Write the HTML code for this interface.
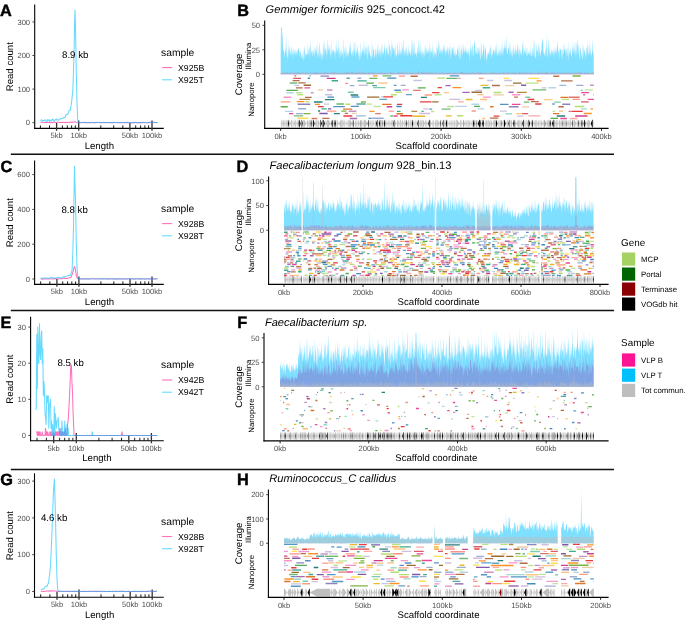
<!DOCTYPE html>
<html><head><meta charset="utf-8"><style>
html,body{margin:0;padding:0;background:#fff;}
svg{display:block;will-change:transform;text-rendering:geometricPrecision;font-family:"Liberation Sans", sans-serif;}
</style></head><body>
<svg width="685" height="625" viewBox="0 0 685 625">
<rect width="685" height="625" fill="#fff"/>
<line x1="10.8" y1="154.2" x2="614" y2="154.2" stroke="#111" stroke-width="1.4"/>
<line x1="10.8" y1="310.5" x2="614" y2="310.5" stroke="#111" stroke-width="1.4"/>
<line x1="10.8" y1="469.5" x2="614" y2="469.5" stroke="#111" stroke-width="1.4"/>
<text x="0" y="15.7" font-size="16.3" font-weight="bold" stroke="#000" stroke-width="0.45">A</text>
<text x="0.4" y="172" font-size="16.3" font-weight="bold" stroke="#000" stroke-width="0.45">C</text>
<text x="0.6" y="328.3" font-size="16.3" font-weight="bold" stroke="#000" stroke-width="0.45">E</text>
<text x="0.2" y="484.6" font-size="16.3" font-weight="bold" stroke="#000" stroke-width="0.45">G</text>
<text x="237.3" y="15.7" font-size="16.3" font-weight="bold" stroke="#000" stroke-width="0.45">B</text>
<text x="236.6" y="172" font-size="16.3" font-weight="bold" stroke="#000" stroke-width="0.45">D</text>
<text x="237.3" y="328.3" font-size="16.3" font-weight="bold" stroke="#000" stroke-width="0.45">F</text>
<text x="236.9" y="484.6" font-size="16.3" font-weight="bold" stroke="#000" stroke-width="0.45">H</text>
<line x1="34.7" y1="4.4" x2="34.7" y2="128.9" stroke="#000" stroke-width="1.1"/>
<line x1="34.2" y1="128.4" x2="163.8" y2="128.4" stroke="#000" stroke-width="1.1"/>
<line x1="32.4" y1="122.7" x2="34.7" y2="122.7" stroke="#333" stroke-width="0.9"/>
<text x="30.1" y="125.4" font-size="7.6" text-anchor="end" fill="#4d4d4d">0</text>
<line x1="32.4" y1="89.1" x2="34.7" y2="89.1" stroke="#333" stroke-width="0.9"/>
<text x="30.1" y="91.8" font-size="7.6" text-anchor="end" fill="#4d4d4d">100</text>
<line x1="32.4" y1="55.5" x2="34.7" y2="55.5" stroke="#333" stroke-width="0.9"/>
<text x="30.1" y="58.2" font-size="7.6" text-anchor="end" fill="#4d4d4d">200</text>
<line x1="32.4" y1="21.9" x2="34.7" y2="21.9" stroke="#333" stroke-width="0.9"/>
<text x="30.1" y="24.6" font-size="7.6" text-anchor="end" fill="#4d4d4d">300</text>
<line x1="40.4" y1="125.4" x2="40.4" y2="128.4" stroke="#000" stroke-width="0.9"/>
<line x1="49.5" y1="125.4" x2="49.5" y2="128.4" stroke="#000" stroke-width="0.9"/>
<line x1="56.6" y1="122.9" x2="56.6" y2="130.8" stroke="#333" stroke-width="1.3"/>
<line x1="62.4" y1="125.4" x2="62.4" y2="128.4" stroke="#000" stroke-width="0.9"/>
<line x1="67.3" y1="125.4" x2="67.3" y2="128.4" stroke="#000" stroke-width="0.9"/>
<line x1="71.6" y1="125.4" x2="71.6" y2="128.4" stroke="#000" stroke-width="0.9"/>
<line x1="75.3" y1="125.4" x2="75.3" y2="128.4" stroke="#000" stroke-width="0.9"/>
<line x1="100.8" y1="125.4" x2="100.8" y2="128.4" stroke="#000" stroke-width="0.9"/>
<line x1="113.7" y1="125.4" x2="113.7" y2="128.4" stroke="#000" stroke-width="0.9"/>
<line x1="122.8" y1="125.4" x2="122.8" y2="128.4" stroke="#000" stroke-width="0.9"/>
<line x1="129.9" y1="122.9" x2="129.9" y2="130.8" stroke="#333" stroke-width="1.3"/>
<line x1="135.7" y1="125.4" x2="135.7" y2="128.4" stroke="#000" stroke-width="0.9"/>
<line x1="140.6" y1="125.4" x2="140.6" y2="128.4" stroke="#000" stroke-width="0.9"/>
<line x1="144.9" y1="125.4" x2="144.9" y2="128.4" stroke="#000" stroke-width="0.9"/>
<line x1="148.6" y1="125.4" x2="148.6" y2="128.4" stroke="#000" stroke-width="0.9"/>
<line x1="78.7" y1="120.6" x2="78.7" y2="130.8" stroke="#333" stroke-width="1.3"/>
<line x1="152" y1="120.6" x2="152" y2="130.8" stroke="#333" stroke-width="1.3"/>
<text x="56.6" y="138.2" font-size="7.6" text-anchor="middle" fill="#4d4d4d">5kb</text>
<text x="78.7" y="138.2" font-size="7.6" text-anchor="middle" fill="#4d4d4d">10kb</text>
<text x="129.9" y="138.2" font-size="7.6" text-anchor="middle" fill="#4d4d4d">50kb</text>
<text x="152" y="138.2" font-size="7.6" text-anchor="middle" fill="#4d4d4d">100kb</text>
<text x="99.3" y="148.7" font-size="9.6" text-anchor="middle">Length</text>
<text x="13.4" y="66.7" font-size="9.6" text-anchor="middle" transform="rotate(-90 13.4 66.7)">Read count</text>
<path d="M40.6 122.7 L41.5 122.6 L42.4 122.3 L43.3 122.3 L44.2 122.6 L45.1 122.3 L46 122.6 L46.9 122.3 L47.8 122.4 L48.7 122.5 L49.6 122.6 L50.5 122.7 L51.4 122.3 L52.3 122.7 L53.2 122.3 L54.1 122.2 L55 122.4 L55.9 122.6 L56.8 122.2 L57.7 122.2 L58.6 122.3 L59.5 122.4 L60.4 122.5 L61.3 122.5 L62.2 122.6 L63.1 122.3 L64 122.4 L64.9 122.6 L65.8 122.6 L66.7 122.3 L67.6 122.5 L68.5 122.4 L69.4 122.5 L70.3 122.1 L71.2 122 L72.1 122.4 L73 122.1 L73.9 122 L74.8 121.8 L75.7 122.1 L76.6 122.5 L77.5 122.7 L78.4 122.5 L79.3 122.4 L80.2 122.4 L81.1 122.7 L82 122.4 L82.9 122.5 L83.8 122.6 L84.7 122.3 L85.6 122.7 L86.5 122.5 L87.4 122.7 L88.3 122.7 L89.2 122.4 L90.1 122.7 L91 122.5 L91.9 122.5 L92.8 122.4 L93.7 122.7 L94.6 122.7 L95.5 122.7 L96.4 122.4 L97.3 122.5 L98.2 122.4 L99.1 122.4 L100 122.7 L100.9 122.6 L101.8 122.7 L102.7 122.7 L103.6 122.7 L104.5 122.4 L105.4 122.4 L106.3 122.4 L107.2 122.7 L108.1 122.5 L109 122.4 L109.9 122.7 L110.8 122.6 L111.7 122.7 L112.6 122.7 L113.5 122.7 L114.4 122.4 L115.3 122.6 L116.2 122.4 L117.1 122.6 L118 122.7 L118.9 122.4 L119.8 122.4 L120.7 122.7 L121.6 122.5 L122.5 122.7 L123.4 122.7 L124.3 122.4 L125.2 122.7 L126.1 122.7 L127 122.3 L127.9 122.6 L128.8 122.7 L129.7 122.7 L130.6 122.7 L131.5 122.5 L132.4 122.7 L133.3 122.4 L134.2 122.7 L135.1 122.3 L136 122.4 L136.9 122.7 L137.8 122.7 L138.7 122.6 L139.6 122.7 L140.5 122.5 L141.4 122.7 L142.3 122.7 L143.2 122.3 L144.1 122.7 L145 122.5 L145.9 122.6 L146.8 122.7 L147.7 122.7 L148.6 122.4 L149.5 122.3 L150.4 122.3 L151.3 122.7 L152.2 122.7 L153.1 122.5 L154 122.3 L154.9 122.6 L155.8 122.5 L156.7 122.5 L157.6 122.7" fill="none" stroke="#ff1493" stroke-opacity="0.6" stroke-width="1.05" stroke-linejoin="round"/>
<path d="M40.6 121.5 L41.3 119.8 L42 120 L42.7 121.1 L43.4 120.5 L44.1 120.5 L44.8 120 L45.5 119.7 L46.2 121.3 L46.9 121.5 L47.6 119.6 L48.3 120.5 L49 119.7 L49.7 121.5 L50.4 120.4 L51.1 119.8 L51.8 120.9 L52.5 119.1 L53.2 119.2 L53.9 121.2 L54.6 121.2 L55.3 119.8 L56 118.8 L56.7 119.9 L57.4 120.1 L58.1 119.5 L58.8 120.2 L59.5 119.5 L60.2 118.7 L60.9 118.4 L61.6 118.8 L62.3 118.5 L63 118.2 L63.7 117.3 L64.4 117.4 L65.1 117.7 L65.8 115 L66.5 115 L67.2 114.1 L67.9 114.4 L68.6 111.5 L69.3 110.5 L70 110.8 L70.7 107.3 L71.4 103.4 L72.1 97.4 L72.8 90.9 L73.5 70.9 L74.2 45.4 L74.6 21.9 L74.9 14.5 L75 10.1 L75.4 21.9 L75.6 34.6 L76.3 71.5 L77 102.3 L77.7 119.5 L78.4 122.4 L79.1 122.5 L79.8 122.7 L80.5 122.6 L81.2 122.4 L81.9 122.6 L82.6 122.7 L83.3 122.5 L84 122.5 L84.7 122.5 L85.4 122.6 L86.1 122.6 L86.8 122.5 L87.5 122.4 L88.2 122.5 L88.9 122.6 L89.6 122.5 L90.3 122.7 L91 122.7 L91.7 122.4 L92.4 122.3 L93.1 122.5 L93.8 122.6 L94.5 122.7 L95.2 122.5 L95.9 122.3 L96.6 122.4 L97.3 122.5 L98 122.4 L98.7 122.6 L99.4 122.5 L100.1 122.3 L100.8 122.5 L101.5 122.5 L102.2 122.6 L102.9 122.5 L103.6 122.3 L104.3 122.7 L105 122.4 L105.7 122.4 L106.4 122.4 L107.1 122.4 L107.8 122.4 L108.5 122.5 L109.2 122.5 L109.9 122.6 L110.6 122.7 L111.3 122.4 L112 122.5 L112.7 122.7 L113.4 122.5 L114.1 122.5 L114.8 122.6 L115.5 122.6 L116.2 122.5 L116.9 122.5 L117.6 122.5 L118.3 122.5 L119 122.7 L119.7 122.6 L120.4 122.7 L121.1 122.5 L121.8 122.4 L122.5 122.4 L123.2 122.4 L123.9 122.4 L124.6 122.6 L125.3 122.4 L126 122.5 L126.7 122.7 L127.4 122.7 L128.1 122.7 L128.8 122.4 L129.5 122.6 L130.2 122.7 L130.9 122.5 L131.6 122.6 L132.3 122.7 L133 122.7 L133.7 122.5 L134.4 122.7 L135.1 122.6 L135.8 122.4 L136.5 122.6 L137.2 122.6 L137.9 122.5 L138.6 122.7 L139.3 122.6 L140 122.6 L140.7 122.7 L141.4 122.7 L142.1 122.4 L142.8 122.5 L143.5 122.6 L144.2 122.5 L144.9 122.4 L145.6 122.7 L146.3 122.7 L147 122.7 L147.7 122.4 L148.4 122.7 L149.1 122.4 L149.8 122.5 L150.5 122.5 L151.2 122.6 L151.9 122.3 L152.6 122.4 L153.3 122.5 L154 122.6 L154.7 122.5 L155.4 122.6 L156.1 122.5 L156.8 122.6 L157.5 122.5" fill="none" stroke="#00bfff" stroke-opacity="0.6" stroke-width="1.05" stroke-linejoin="round"/>
<text x="161.1" y="55.8" font-size="10.3">sample</text>
<line x1="162" y1="67.6" x2="172.2" y2="67.6" stroke="#ff1493" stroke-width="1.1" stroke-opacity="0.6"/>
<text x="178" y="70.7" font-size="8.75">X925B</text>
<line x1="162" y1="79.8" x2="172.2" y2="79.8" stroke="#00bfff" stroke-width="1.1" stroke-opacity="0.6"/>
<text x="178" y="82.9" font-size="8.75">X925T</text>
<text x="75.2" y="58.4" font-size="9.7" text-anchor="middle">8.9 kb</text>
<line x1="34.6" y1="160.4" x2="34.6" y2="284.9" stroke="#000" stroke-width="1.1"/>
<line x1="34.1" y1="284.4" x2="163.8" y2="284.4" stroke="#000" stroke-width="1.1"/>
<line x1="32.3" y1="279" x2="34.6" y2="279" stroke="#333" stroke-width="0.9"/>
<text x="30" y="281.7" font-size="7.6" text-anchor="end" fill="#4d4d4d">0</text>
<line x1="32.3" y1="244.2" x2="34.6" y2="244.2" stroke="#333" stroke-width="0.9"/>
<text x="30" y="246.9" font-size="7.6" text-anchor="end" fill="#4d4d4d">200</text>
<line x1="32.3" y1="209.4" x2="34.6" y2="209.4" stroke="#333" stroke-width="0.9"/>
<text x="30" y="212.1" font-size="7.6" text-anchor="end" fill="#4d4d4d">400</text>
<line x1="32.3" y1="174.6" x2="34.6" y2="174.6" stroke="#333" stroke-width="0.9"/>
<text x="30" y="177.3" font-size="7.6" text-anchor="end" fill="#4d4d4d">600</text>
<line x1="40.7" y1="281.4" x2="40.7" y2="284.4" stroke="#000" stroke-width="0.9"/>
<line x1="49.8" y1="281.4" x2="49.8" y2="284.4" stroke="#000" stroke-width="0.9"/>
<line x1="56.9" y1="278.9" x2="56.9" y2="286.8" stroke="#333" stroke-width="1.3"/>
<line x1="62.7" y1="281.4" x2="62.7" y2="284.4" stroke="#000" stroke-width="0.9"/>
<line x1="67.6" y1="281.4" x2="67.6" y2="284.4" stroke="#000" stroke-width="0.9"/>
<line x1="71.8" y1="281.4" x2="71.8" y2="284.4" stroke="#000" stroke-width="0.9"/>
<line x1="75.6" y1="281.4" x2="75.6" y2="284.4" stroke="#000" stroke-width="0.9"/>
<line x1="100.9" y1="281.4" x2="100.9" y2="284.4" stroke="#000" stroke-width="0.9"/>
<line x1="113.8" y1="281.4" x2="113.8" y2="284.4" stroke="#000" stroke-width="0.9"/>
<line x1="122.9" y1="281.4" x2="122.9" y2="284.4" stroke="#000" stroke-width="0.9"/>
<line x1="130" y1="278.9" x2="130" y2="286.8" stroke="#333" stroke-width="1.3"/>
<line x1="135.8" y1="281.4" x2="135.8" y2="284.4" stroke="#000" stroke-width="0.9"/>
<line x1="140.7" y1="281.4" x2="140.7" y2="284.4" stroke="#000" stroke-width="0.9"/>
<line x1="144.9" y1="281.4" x2="144.9" y2="284.4" stroke="#000" stroke-width="0.9"/>
<line x1="148.7" y1="281.4" x2="148.7" y2="284.4" stroke="#000" stroke-width="0.9"/>
<line x1="78.9" y1="276.6" x2="78.9" y2="286.8" stroke="#333" stroke-width="1.3"/>
<line x1="152" y1="276.6" x2="152" y2="286.8" stroke="#333" stroke-width="1.3"/>
<text x="56.9" y="294.2" font-size="7.6" text-anchor="middle" fill="#4d4d4d">5kb</text>
<text x="78.9" y="294.2" font-size="7.6" text-anchor="middle" fill="#4d4d4d">10kb</text>
<text x="130" y="294.2" font-size="7.6" text-anchor="middle" fill="#4d4d4d">50kb</text>
<text x="152" y="294.2" font-size="7.6" text-anchor="middle" fill="#4d4d4d">100kb</text>
<text x="99.5" y="304.7" font-size="9.6" text-anchor="middle">Length</text>
<text x="13.4" y="222.7" font-size="9.6" text-anchor="middle" transform="rotate(-90 13.4 222.7)">Read count</text>
<path d="M40.6 278.9 L41.4 278.9 L42.2 279 L43 279 L43.8 278.9 L44.6 279 L45.4 278.8 L46.2 279 L47 279 L47.8 279 L48.6 279 L49.4 279 L50.2 278.8 L51 278.8 L51.8 278.9 L52.6 278.7 L53.4 278.9 L54.2 278.6 L55 278.6 L55.8 278.7 L56.6 278.8 L57.4 278.8 L58.2 278.7 L59 278.9 L59.8 278.8 L60.6 278.7 L61.4 278.8 L62.2 278.8 L63 278.4 L63.8 278.6 L64.6 278.5 L65.4 278.3 L66.2 278.4 L67 278.4 L67.8 278.1 L68.6 278.1 L69.4 278 L70.2 277.5 L71 277.4 L71.8 275.3 L72.6 273 L73.4 270.1 L74.2 266.6 L75 267.7 L75.8 272.2 L76.6 276.6 L77.4 278.4 L78.2 278.7 L79 278.9 L79.8 278.9 L80.6 278.9 L81.4 278.7 L82.2 278.9 L83 278.8 L83.8 278.9 L84.6 278.8 L85.4 278.9 L86.2 278.8 L87 278.8 L87.8 278.9 L88.6 278.9 L89.4 278.9 L90.2 278.9 L91 278.7 L91.8 278.8 L92.6 278.7 L93.4 278.8 L94.2 279 L95 278.8 L95.8 278.8 L96.6 278.8 L97.4 278.8 L98.2 278.9 L99 278.8 L99.8 278.8 L100.6 278.9 L101.4 278.8 L102.2 278.8 L103 278.7 L103.8 278.8 L104.6 278.7 L105.4 278.7 L106.2 278.9 L107 278.9 L107.8 278.8 L108.6 278.9 L109.4 278.9 L110.2 278.8 L111 278.7 L111.8 278.8 L112.6 278.8 L113.4 279 L114.2 278.9 L115 278.7 L115.8 278.9 L116.6 278.9 L117.4 279 L118.2 279 L119 278.7 L119.8 278.7 L120.6 278.8 L121.4 278.9 L122.2 278.9 L123 278.9 L123.8 278.8 L124.6 278.8 L125.4 278.9 L126.2 278.8 L127 279 L127.8 278.8 L128.6 278.7 L129.4 278.8 L130.2 279 L131 278.8 L131.8 278.8 L132.6 278.9 L133.4 278.7 L134.2 278.9 L135 278.8 L135.8 278.9 L136.6 278.7 L137.4 278.8 L138.2 278.8 L139 279 L139.8 278.9 L140.6 279 L141.4 278.8 L142.2 278.7 L143 278.9 L143.8 278.9 L144.6 278.9 L145.4 278.9 L146.2 278.8 L147 278.7 L147.8 278.8 L148.6 278.9 L149.4 278.7 L150.2 278.9 L151 278.8 L151.8 278.8 L152.6 278.8 L153.4 278.8 L154.2 278.9 L155 278.8 L155.8 278.9 L156.6 278.8 L157.4 278.7" fill="none" stroke="#ff1493" stroke-opacity="0.6" stroke-width="1.05" stroke-linejoin="round"/>
<path d="M40.6 277.9 L41.3 277.9 L42 278.9 L42.7 278.9 L43.4 277.9 L44.1 278 L44.8 278 L45.5 278.4 L46.2 278 L46.9 278 L47.6 278 L48.3 278.5 L49 278.1 L49.7 278.1 L50.4 277.7 L51.1 277.3 L51.8 277.3 L52.5 277.8 L53.2 277.9 L53.9 278 L54.6 278.3 L55.3 278.3 L56 277.7 L56.7 277.8 L57.4 277.7 L58.1 277.1 L58.8 277.5 L59.5 277.4 L60.2 277.7 L60.9 277.9 L61.6 277.5 L62.3 277.6 L63 277.1 L63.7 276.4 L64.4 276.7 L65.1 277.2 L65.8 276.3 L66.5 276.2 L67.2 276.1 L67.9 275.6 L68.6 275.6 L69.3 275.3 L70 275.6 L70.7 274 L71.4 272.6 L72.1 269.7 L72.8 253.5 L73.5 226.2 L74.2 184.2 L74.5 166.2 L74.9 180.7 L75.6 205.9 L76.3 242.5 L77 267 L77.7 277.3 L78.4 278.8 L79.1 278.7 L79.8 278.7 L80.5 278.8 L81.2 278.8 L81.9 278.7 L82.6 278.8 L83.3 278.8 L84 278.9 L84.7 278.9 L85.4 278.8 L86.1 278.9 L86.8 278.7 L87.5 278.9 L88.2 278.7 L88.9 278.9 L89.6 278.7 L90.3 278.8 L91 278.8 L91.7 278.8 L92.4 278.8 L93.1 278.8 L93.8 278.9 L94.5 278.9 L95.2 278.8 L95.9 278.7 L96.6 278.8 L97.3 278.9 L98 278.7 L98.7 278.8 L99.4 278.7 L100.1 278.9 L100.8 278.8 L101.5 278.9 L102.2 278.8 L102.9 278.9 L103.6 278.9 L104.3 278.7 L105 278.9 L105.7 278.8 L106.4 278.7 L107.1 278.9 L107.8 278.9 L108.5 278.7 L109.2 278.8 L109.9 278.8 L110.6 279 L111.3 278.9 L112 278.9 L112.7 278.8 L113.4 278.9 L114.1 278.7 L114.8 279 L115.5 278.8 L116.2 279 L116.9 278.9 L117.6 278.7 L118.3 278.9 L119 278.9 L119.7 278.8 L120.4 278.9 L121.1 279 L121.8 278.7 L122.5 278.9 L123.2 279 L123.9 278.9 L124.6 278.8 L125.3 278.8 L126 278.9 L126.7 278.9 L127.4 279 L128.1 278.8 L128.8 278.8 L129.5 278.8 L130.2 278.7 L130.9 278.8 L131.6 278.7 L132.3 278.8 L133 278.8 L133.7 278.9 L134.4 278.8 L135.1 278.9 L135.8 278.9 L136.5 278.8 L137.2 278.7 L137.9 278.9 L138.6 278.8 L139.3 278.9 L140 278.8 L140.7 278.9 L141.4 278.7 L142.1 278.9 L142.8 278.8 L143.5 278.8 L144.2 279 L144.9 278.8 L145.6 278.9 L146.3 278.9 L147 279 L147.7 278.9 L148.4 278.9 L149.1 278.8 L149.8 278.8 L150.5 278.7 L151.2 278.7 L151.9 278.7 L152.6 278.9 L153.3 278.8 L154 278.9 L154.7 278.8 L155.4 278.8 L156.1 278.7 L156.8 278.8 L157.5 278.9" fill="none" stroke="#00bfff" stroke-opacity="0.6" stroke-width="1.05" stroke-linejoin="round"/>
<text x="161.1" y="211.8" font-size="10.3">sample</text>
<line x1="162" y1="223.6" x2="172.2" y2="223.6" stroke="#ff1493" stroke-width="1.1" stroke-opacity="0.6"/>
<text x="178" y="226.7" font-size="8.75">X928B</text>
<line x1="162" y1="235.8" x2="172.2" y2="235.8" stroke="#00bfff" stroke-width="1.1" stroke-opacity="0.6"/>
<text x="178" y="238.9" font-size="8.75">X928T</text>
<text x="74.6" y="212.8" font-size="9.7" text-anchor="middle">8.8 kb</text>
<line x1="30.6" y1="316.8" x2="30.6" y2="441.3" stroke="#000" stroke-width="1.1"/>
<line x1="30.1" y1="440.8" x2="163.8" y2="440.8" stroke="#000" stroke-width="1.1"/>
<line x1="28.3" y1="435.4" x2="30.6" y2="435.4" stroke="#333" stroke-width="0.9"/>
<text x="26" y="438.1" font-size="7.6" text-anchor="end" fill="#4d4d4d">0</text>
<line x1="28.3" y1="399.3" x2="30.6" y2="399.3" stroke="#333" stroke-width="0.9"/>
<text x="26" y="402" font-size="7.6" text-anchor="end" fill="#4d4d4d">10</text>
<line x1="28.3" y1="363.2" x2="30.6" y2="363.2" stroke="#333" stroke-width="0.9"/>
<text x="26" y="365.9" font-size="7.6" text-anchor="end" fill="#4d4d4d">20</text>
<line x1="28.3" y1="327.1" x2="30.6" y2="327.1" stroke="#333" stroke-width="0.9"/>
<text x="26" y="329.8" font-size="7.6" text-anchor="end" fill="#4d4d4d">30</text>
<line x1="37" y1="437.8" x2="37" y2="440.8" stroke="#000" stroke-width="0.9"/>
<line x1="46.4" y1="437.8" x2="46.4" y2="440.8" stroke="#000" stroke-width="0.9"/>
<line x1="53.7" y1="435.3" x2="53.7" y2="443.2" stroke="#333" stroke-width="1.3"/>
<line x1="59.6" y1="437.8" x2="59.6" y2="440.8" stroke="#000" stroke-width="0.9"/>
<line x1="64.7" y1="437.8" x2="64.7" y2="440.8" stroke="#000" stroke-width="0.9"/>
<line x1="69" y1="437.8" x2="69" y2="440.8" stroke="#000" stroke-width="0.9"/>
<line x1="72.9" y1="437.8" x2="72.9" y2="440.8" stroke="#000" stroke-width="0.9"/>
<line x1="98.9" y1="437.8" x2="98.9" y2="440.8" stroke="#000" stroke-width="0.9"/>
<line x1="112.1" y1="437.8" x2="112.1" y2="440.8" stroke="#000" stroke-width="0.9"/>
<line x1="121.5" y1="437.8" x2="121.5" y2="440.8" stroke="#000" stroke-width="0.9"/>
<line x1="128.8" y1="435.3" x2="128.8" y2="443.2" stroke="#333" stroke-width="1.3"/>
<line x1="134.7" y1="437.8" x2="134.7" y2="440.8" stroke="#000" stroke-width="0.9"/>
<line x1="139.8" y1="437.8" x2="139.8" y2="440.8" stroke="#000" stroke-width="0.9"/>
<line x1="144.1" y1="437.8" x2="144.1" y2="440.8" stroke="#000" stroke-width="0.9"/>
<line x1="148" y1="437.8" x2="148" y2="440.8" stroke="#000" stroke-width="0.9"/>
<line x1="76.3" y1="433" x2="76.3" y2="443.2" stroke="#333" stroke-width="1.3"/>
<line x1="151.4" y1="433" x2="151.4" y2="443.2" stroke="#333" stroke-width="1.3"/>
<text x="53.7" y="450.6" font-size="7.6" text-anchor="middle" fill="#4d4d4d">5kb</text>
<text x="76.3" y="450.6" font-size="7.6" text-anchor="middle" fill="#4d4d4d">10kb</text>
<text x="128.8" y="450.6" font-size="7.6" text-anchor="middle" fill="#4d4d4d">50kb</text>
<text x="151.4" y="450.6" font-size="7.6" text-anchor="middle" fill="#4d4d4d">100kb</text>
<text x="96.9" y="461.1" font-size="9.6" text-anchor="middle">Length</text>
<text x="13.4" y="379.1" font-size="9.6" text-anchor="middle" transform="rotate(-90 13.4 379.1)">Read count</text>
<path d="M36.2 431.8 L36.8 431.8 L37.3 435.4 L37.8 431.8 L38.4 435.4 L38.9 431.8 L39.5 435.4 L40 431.8 L40.6 435.4 L41.1 435.4 L41.7 435.4 L42.2 431.8 L42.8 435.4 L43.3 435.4 L43.9 435.4 L44.4 435.4 L45 435.4 L45.5 428.2 L46.1 435.4 L46.6 431.8 L47.2 435.4 L47.7 431.8 L48.3 435.4 L48.8 435.4 L49.4 435.4 L49.9 431.8 L50.5 435.4 L51 431.8 L51.6 435.4 L52.1 435.4 L52.7 435.4 L53.2 431.8 L53.8 435.4 L54.3 435.4 L54.9 435.4 L55.4 431.8 L56 435.4 L56.5 431.8 L57.1 435.4 L57.6 431.8 L58.2 435.4 L58.7 431.8 L59.3 435.4 L59.8 428.2 L60.4 435.4 L60.9 431.8 L61.5 435.4 L62 431.8 L62.6 435.4 L63.1 431.8 L63.7 435.4 L64.2 431.8 L64.8 435.4 L65.3 428.2 L65.9 435.4 L66.4 435.4 L67 435.4 L67.5 424.6 L68.1 421 L68.6 413.7 L69.2 402.9 L69.7 392.1 L70.3 377.6 L70.8 365 L71.4 365 L71.9 381.2 L72.5 392.1 L73 410.1 L73.6 424.6 L74.1 435.4 L74.7 435.4 L75.2 435.4 L75.8 435.4 L76.3 435.4 L76.9 435.4 L77.4 435.4 L78 435.4 L78.5 435.4 L79.1 435.4 L79.6 435.4 L80.2 435.4 L80.7 435.4 L81.3 435.4 L81.8 435.4 L82.4 435.4 L82.9 435.4 L83.5 435.4 L84 435.4 L84.6 435.4 L85.1 435.4 L85.7 435.4 L86.2 435.4 L86.8 435.4 L87.3 435.4 L87.9 435.4 L88.4 435.4 L89 435.4 L89.5 435.4 L90.1 435.4 L90.6 435.4 L91.2 435.4 L91.7 435.4 L92.3 435.4 L92.8 435.4 L93.4 435.4 L93.9 435.4 L94.5 435.4 L95 435.4 L95.6 435.4 L96.1 435.4 L96.7 435.4 L97.2 435.4 L97.8 435.4 L98.3 435.4 L98.9 435.4 L99.4 435.4 L100 435.4 L100.5 435.4 L101.1 435.4 L101.6 435.4 L102.2 435.4 L102.7 435.4 L103.3 435.4 L103.8 435.4 L104.4 435.4 L104.9 435.4 L105.5 435.4 L106 435.4 L106.6 435.4 L107.1 435.4 L107.7 435.4 L108.2 435.4 L108.8 435.4 L109.3 435.4 L109.9 435.4 L110.4 435.4 L111 435.4 L111.5 435.4 L112.1 435.4 L112.6 435.4 L113.2 435.4 L113.7 435.4 L114.3 435.4 L114.8 435.4 L115.4 435.4 L115.9 435.4 L116.5 435.4 L117 435.4 L117.6 435.4 L118.1 435.4 L118.7 435.4 L119.2 435.4 L119.8 435.4 L120.3 435.4 L120.9 435.4 L121.4 435.4 L122 431.8 L122.5 435.4 L123.1 435.4 L123.6 435.4 L124.2 435.4 L124.7 435.4 L125.3 435.4 L125.8 435.4 L126.4 435.4 L126.9 435.4 L127.5 435.4 L128 435.4 L128.6 435.4 L129.1 435.4 L129.7 435.4 L130.2 435.4 L130.8 435.4 L131.3 435.4 L131.9 435.4 L132.4 435.4 L133 435.4 L133.5 435.4 L134.1 435.4 L134.6 435.4 L135.2 435.4 L135.7 435.4 L136.3 435.4 L136.8 435.4 L137.4 435.4 L137.9 435.4 L138.5 435.4 L139 435.4 L139.6 435.4 L140.1 435.4 L140.7 435.4 L141.2 435.4 L141.8 435.4 L142.3 435.4 L142.9 435.4 L143.4 435.4 L144 435.4 L144.5 435.4 L145.1 435.4 L145.6 435.4 L146.2 435.4 L146.7 435.4 L147.3 435.4 L147.8 435.4 L148.4 435.4 L148.9 435.4 L149.5 435.4 L150 435.4 L150.6 435.4 L151.2 435.4 L151.7 435.4 L152.3 435.4 L152.8 435.4 L153.4 435.4 L153.9 435.4 L154.5 435.4 L155 435.4 L155.6 435.4 L156.1 435.4 L156.7 435.4 L157.2 435.4" fill="none" stroke="#ff1493" stroke-opacity="0.6" stroke-width="1.05" stroke-linejoin="round"/>
<path d="M36.2 410.1 L36.8 334.3 L37.3 388.5 L37.8 327.1 L38.4 363.2 L38.9 363.2 L39.5 323.5 L40 352.4 L40.6 359.6 L41.1 337.9 L41.7 330.7 L42.2 363.2 L42.8 348.8 L43.3 395.7 L43.9 381.2 L44.4 388.5 L45 413.7 L45.5 417.3 L46.1 424.6 L46.6 395.7 L47.2 395.7 L47.7 402.9 L48.3 395.7 L48.8 428.2 L49.4 406.5 L49.9 402.9 L50.5 399.3 L51 428.2 L51.6 421 L52.1 435.4 L52.7 424.6 L53.2 435.4 L53.8 435.4 L54.3 406.5 L54.9 435.4 L55.4 413.7 L56 421 L56.5 428.2 L57.1 421 L57.6 421 L58.2 417.3 L58.7 428.2 L59.3 431.8 L59.8 435.4 L60.4 435.4 L60.9 428.2 L61.5 435.4 L62 421 L62.6 435.4 L63.1 435.4 L63.7 435.4 L64.2 435.4 L64.8 421 L65.3 435.4 L65.9 435.4 L66.4 435.4 L67 424.6 L67.5 435.4 L68.1 428.2 L68.6 435.4 L69.2 435.4 L69.7 435.4 L70.3 435.4 L70.8 435.4 L71.4 435.4 L71.9 435.4 L72.5 435.4 L73 435.4 L73.6 435.4 L74.1 435.4 L74.7 435.4 L75.2 435.4 L75.8 435.4 L76.3 435.4 L76.9 435.4 L77.4 435.4 L78 435.4 L78.5 435.4 L79.1 435.4 L79.6 435.4 L80.2 435.4 L80.7 435.4 L81.3 435.4 L81.8 435.4 L82.4 435.4 L82.9 435.4 L83.5 435.4 L84 435.4 L84.6 435.4 L85.1 435.4 L85.7 435.4 L86.2 435.4 L86.8 435.4 L87.3 435.4 L87.9 435.4 L88.4 435.4 L89 435.4 L89.5 435.4 L90.1 435.4 L90.6 435.4 L91.2 435.4 L91.7 435.4 L92.3 431.8 L92.8 435.4 L93.4 435.4 L93.9 435.4 L94.5 435.4 L95 435.4 L95.6 435.4 L96.1 435.4 L96.7 435.4 L97.2 435.4 L97.8 435.4 L98.3 435.4 L98.9 435.4 L99.4 435.4 L100 435.4 L100.5 435.4 L101.1 435.4 L101.6 435.4 L102.2 435.4 L102.7 435.4 L103.3 435.4 L103.8 435.4 L104.4 435.4 L104.9 435.4 L105.5 435.4 L106 435.4 L106.6 435.4 L107.1 435.4 L107.7 435.4 L108.2 435.4 L108.8 435.4 L109.3 435.4 L109.9 435.4 L110.4 435.4 L111 435.4 L111.5 435.4 L112.1 435.4 L112.6 435.4 L113.2 435.4 L113.7 435.4 L114.3 435.4 L114.8 435.4 L115.4 435.4 L115.9 435.4 L116.5 435.4 L117 435.4 L117.6 435.4 L118.1 435.4 L118.7 435.4 L119.2 435.4 L119.8 435.4 L120.3 435.4 L120.9 435.4 L121.4 435.4 L122 435.4 L122.5 435.4 L123.1 435.4 L123.6 435.4 L124.2 435.4 L124.7 435.4 L125.3 435.4 L125.8 435.4 L126.4 435.4 L126.9 435.4 L127.5 435.4 L128 435.4 L128.6 435.4 L129.1 435.4 L129.7 435.4 L130.2 435.4 L130.8 435.4 L131.3 435.4 L131.9 435.4 L132.4 435.4 L133 435.4 L133.5 435.4 L134.1 435.4 L134.6 435.4 L135.2 435.4 L135.7 435.4 L136.3 435.4 L136.8 435.4 L137.4 435.4 L137.9 435.4 L138.5 435.4 L139 435.4 L139.6 435.4 L140.1 435.4 L140.7 435.4 L141.2 435.4 L141.8 435.4 L142.3 435.4 L142.9 435.4 L143.4 435.4 L144 435.4 L144.5 435.4 L145.1 435.4 L145.6 435.4 L146.2 435.4 L146.7 435.4 L147.3 435.4 L147.8 435.4 L148.4 435.4 L148.9 435.4 L149.5 435.4 L150 435.4 L150.6 435.4 L151.2 435.4 L151.7 435.4 L152.3 435.4 L152.8 435.4 L153.4 435.4 L153.9 435.4 L154.5 435.4 L155 435.4 L155.6 435.4 L156.1 435.4 L156.7 435.4 L157.2 435.4" fill="none" stroke="#00bfff" stroke-opacity="0.6" stroke-width="1.05" stroke-linejoin="round"/>
<text x="161.1" y="368.2" font-size="10.3">sample</text>
<line x1="162" y1="380" x2="172.2" y2="380" stroke="#ff1493" stroke-width="1.1" stroke-opacity="0.6"/>
<text x="178" y="383.1" font-size="8.75">X942B</text>
<line x1="162" y1="392.2" x2="172.2" y2="392.2" stroke="#00bfff" stroke-width="1.1" stroke-opacity="0.6"/>
<text x="178" y="395.3" font-size="8.75">X942T</text>
<text x="70.6" y="366.2" font-size="9.7" text-anchor="middle">8.5 kb</text>
<line x1="34.5" y1="473.3" x2="34.5" y2="597.8" stroke="#000" stroke-width="1.1"/>
<line x1="34" y1="597.3" x2="163.8" y2="597.3" stroke="#000" stroke-width="1.1"/>
<line x1="32.2" y1="591.5" x2="34.5" y2="591.5" stroke="#333" stroke-width="0.9"/>
<text x="29.9" y="594.2" font-size="7.6" text-anchor="end" fill="#4d4d4d">0</text>
<line x1="32.2" y1="554.7" x2="34.5" y2="554.7" stroke="#333" stroke-width="0.9"/>
<text x="29.9" y="557.4" font-size="7.6" text-anchor="end" fill="#4d4d4d">100</text>
<line x1="32.2" y1="517.9" x2="34.5" y2="517.9" stroke="#333" stroke-width="0.9"/>
<text x="29.9" y="520.6" font-size="7.6" text-anchor="end" fill="#4d4d4d">200</text>
<line x1="32.2" y1="481.1" x2="34.5" y2="481.1" stroke="#333" stroke-width="0.9"/>
<text x="29.9" y="483.8" font-size="7.6" text-anchor="end" fill="#4d4d4d">300</text>
<line x1="40.7" y1="594.3" x2="40.7" y2="597.3" stroke="#000" stroke-width="0.9"/>
<line x1="49.9" y1="594.3" x2="49.9" y2="597.3" stroke="#000" stroke-width="0.9"/>
<line x1="57" y1="591.8" x2="57" y2="599.7" stroke="#333" stroke-width="1.3"/>
<line x1="62.8" y1="594.3" x2="62.8" y2="597.3" stroke="#000" stroke-width="0.9"/>
<line x1="67.7" y1="594.3" x2="67.7" y2="597.3" stroke="#000" stroke-width="0.9"/>
<line x1="71.9" y1="594.3" x2="71.9" y2="597.3" stroke="#000" stroke-width="0.9"/>
<line x1="75.7" y1="594.3" x2="75.7" y2="597.3" stroke="#000" stroke-width="0.9"/>
<line x1="101" y1="594.3" x2="101" y2="597.3" stroke="#000" stroke-width="0.9"/>
<line x1="113.9" y1="594.3" x2="113.9" y2="597.3" stroke="#000" stroke-width="0.9"/>
<line x1="123.1" y1="594.3" x2="123.1" y2="597.3" stroke="#000" stroke-width="0.9"/>
<line x1="130.2" y1="591.8" x2="130.2" y2="599.7" stroke="#333" stroke-width="1.3"/>
<line x1="136" y1="594.3" x2="136" y2="597.3" stroke="#000" stroke-width="0.9"/>
<line x1="140.9" y1="594.3" x2="140.9" y2="597.3" stroke="#000" stroke-width="0.9"/>
<line x1="145.1" y1="594.3" x2="145.1" y2="597.3" stroke="#000" stroke-width="0.9"/>
<line x1="148.9" y1="594.3" x2="148.9" y2="597.3" stroke="#000" stroke-width="0.9"/>
<line x1="79" y1="589.5" x2="79" y2="599.7" stroke="#333" stroke-width="1.3"/>
<line x1="152.2" y1="589.5" x2="152.2" y2="599.7" stroke="#333" stroke-width="1.3"/>
<text x="57" y="607.1" font-size="7.6" text-anchor="middle" fill="#4d4d4d">5kb</text>
<text x="79" y="607.1" font-size="7.6" text-anchor="middle" fill="#4d4d4d">10kb</text>
<text x="130.2" y="607.1" font-size="7.6" text-anchor="middle" fill="#4d4d4d">50kb</text>
<text x="152.2" y="607.1" font-size="7.6" text-anchor="middle" fill="#4d4d4d">100kb</text>
<text x="99.6" y="617.6" font-size="9.6" text-anchor="middle">Length</text>
<text x="13.4" y="535.6" font-size="9.6" text-anchor="middle" transform="rotate(-90 13.4 535.6)">Read count</text>
<path d="M40.8 591.5 L41.7 591.2 L42.6 591.3 L43.5 591.5 L44.4 591.4 L45.3 591.2 L46.2 591.2 L47.1 591.1 L48 591 L48.9 591.1 L49.8 591.1 L50.7 590.7 L51.6 591 L52.5 590.7 L53.4 591 L54.3 590.9 L55.2 591 L56.1 591 L57 591.3 L57.9 591.2 L58.8 591.5 L59.7 591.3 L60.6 591.5 L61.5 591.2 L62.4 591.3 L63.3 591.4 L64.2 591.4 L65.1 591.5 L66 591.5 L66.9 591.4 L67.8 591.4 L68.7 591.3 L69.6 591.4 L70.5 591.5 L71.4 591.4 L72.3 591.3 L73.2 591.4 L74.1 591.5 L75 591.3 L75.9 591.3 L76.8 591.5 L77.7 591.4 L78.6 591.4 L79.5 591.3 L80.4 591.5 L81.3 591.5 L82.2 591.4 L83.1 591.2 L84 591.5 L84.9 591.5 L85.8 591.4 L86.7 591.3 L87.6 591.4 L88.5 591.4 L89.4 591.3 L90.3 591.3 L91.2 591.5 L92.1 591.3 L93 591.5 L93.9 591.5 L94.8 591.3 L95.7 591.4 L96.6 591.3 L97.5 591.5 L98.4 591.3 L99.3 591.5 L100.2 591.5 L101.1 591.4 L102 591.5 L102.9 591.4 L103.8 591.3 L104.7 591.3 L105.6 591.5 L106.5 591.5 L107.4 591.4 L108.3 591.4 L109.2 591.3 L110.1 591.4 L111 591.5 L111.9 591.5 L112.8 591.3 L113.7 591.5 L114.6 591.3 L115.5 591.2 L116.4 591.4 L117.3 591.3 L118.2 591.4 L119.1 591.5 L120 591.3 L120.9 591.4 L121.8 591.3 L122.7 591.5 L123.6 591.3 L124.5 591.3 L125.4 591.4 L126.3 591.4 L127.2 591.5 L128.1 591.3 L129 591.5 L129.9 591.4 L130.8 591.5 L131.7 591.5 L132.6 591.5 L133.5 591.3 L134.4 591.5 L135.3 591.3 L136.2 591.5 L137.1 591.4 L138 591.5 L138.9 591.4 L139.8 591.5 L140.7 591.5 L141.6 591.3 L142.5 591.5 L143.4 591.4 L144.3 591.5 L145.2 591.5 L146.1 591.5 L147 591.5 L147.9 591.3 L148.8 591.3 L149.7 591.3 L150.6 591.3 L151.5 591.3 L152.4 591.5 L153.3 591.4 L154.2 591.4 L155.1 591.4 L156 591.3 L156.9 591.3" fill="none" stroke="#ff1493" stroke-opacity="0.6" stroke-width="1.05" stroke-linejoin="round"/>
<path d="M40.8 589.7 L41.5 589.6 L42.2 589 L42.9 589.1 L43.6 589 L44.3 588.1 L45 586.8 L45.7 586.5 L46.4 586 L47.1 586.2 L47.8 584.2 L48.5 583 L49.2 577.8 L49.9 571.7 L50.6 564 L51.3 548.6 L52 531.4 L52.7 511.6 L53.4 493.5 L54.1 482.6 L54.4 478.9 L54.8 490.7 L55.5 518.4 L56.2 551 L56.9 575.8 L57.6 589 L58.3 590.7 L59 591 L59.7 591.2 L60.4 591.3 L61.1 591.4 L61.8 591.3 L62.5 591.4 L63.2 591.2 L63.9 591.2 L64.6 591.3 L65.3 591.4 L66 591.2 L66.7 591.3 L67.4 591.2 L68.1 591.2 L68.8 591.3 L69.5 591.3 L70.2 591.3 L70.9 591.3 L71.6 591.4 L72.3 591.4 L73 591.2 L73.7 591.5 L74.4 591.5 L75.1 591.3 L75.8 591.4 L76.5 591.3 L77.2 591.3 L77.9 591.4 L78.6 591.2 L79.3 591.4 L80 591.4 L80.7 591.4 L81.4 591.3 L82.1 591.4 L82.8 591.4 L83.5 591.3 L84.2 591.4 L84.9 591.3 L85.6 591.2 L86.3 591.5 L87 591.5 L87.7 591.4 L88.4 591.3 L89.1 591.3 L89.8 591.4 L90.5 591.4 L91.2 591.4 L91.9 591.4 L92.6 591.5 L93.3 591.3 L94 591.2 L94.7 591.2 L95.4 591.3 L96.1 591.2 L96.8 591.5 L97.5 591.4 L98.2 591.2 L98.9 591.3 L99.6 591.4 L100.3 591.2 L101 591.3 L101.7 591.3 L102.4 591.4 L103.1 591.4 L103.8 591.4 L104.5 591.5 L105.2 591.4 L105.9 591.2 L106.6 591.4 L107.3 591.5 L108 591.5 L108.7 591.4 L109.4 591.3 L110.1 591.4 L110.8 591.4 L111.5 591.5 L112.2 591.2 L112.9 591.4 L113.6 591.4 L114.3 591.5 L115 591.5 L115.7 591.5 L116.4 591.3 L117.1 591.5 L117.8 591.5 L118.5 591.4 L119.2 591.4 L119.9 591.2 L120.6 591.5 L121.3 591.4 L122 591.3 L122.7 591.4 L123.4 591.2 L124.1 591.4 L124.8 591.4 L125.5 591.4 L126.2 591.5 L126.9 591.4 L127.6 591.4 L128.3 591.3 L129 591.3 L129.7 591.4 L130.4 591.5 L131.1 591.4 L131.8 591.4 L132.5 591.5 L133.2 591.5 L133.9 591.3 L134.6 591.5 L135.3 591.5 L136 591.2 L136.7 591.4 L137.4 591.2 L138.1 591.4 L138.8 591.3 L139.5 591.3 L140.2 591.3 L140.9 591.3 L141.6 591.4 L142.3 591.5 L143 591.5 L143.7 591.3 L144.4 591.3 L145.1 591.3 L145.8 591.4 L146.5 591.3 L147.2 591.3 L147.9 591.3 L148.6 591.3 L149.3 591.4 L150 591.3 L150.7 591.3 L151.4 591.5 L152.1 591.3 L152.8 591.3 L153.5 591.5 L154.2 591.2 L154.9 591.3 L155.6 591.3 L156.3 591.5 L157 591.3" fill="none" stroke="#00bfff" stroke-opacity="0.6" stroke-width="1.05" stroke-linejoin="round"/>
<text x="161.1" y="524.7" font-size="10.3">sample</text>
<line x1="162" y1="536.5" x2="172.2" y2="536.5" stroke="#ff1493" stroke-width="1.1" stroke-opacity="0.6"/>
<text x="178" y="539.6" font-size="8.75">X928B</text>
<line x1="162" y1="548.7" x2="172.2" y2="548.7" stroke="#00bfff" stroke-width="1.1" stroke-opacity="0.6"/>
<text x="178" y="551.8" font-size="8.75">X928T</text>
<text x="54.1" y="520.8" font-size="9.7" text-anchor="middle">4.6 kb</text>
<path transform="matrix(0.25 0 0 -0.25 280.7 74.3)" d="M0 0L0 7 1 3 2 6 3 6 4 2 5 3 6 6 7 3 8 6 9 1 10 6 11 8 12 2 13 3 14 2 15 8 16 4 17 4 18 3 19 8 20 9 21 5 22 3 23 1 24 8 25 8 26 6 27 3 28 8 29 5 30 2 31 2 32 4 33 5 34 3 35 4 36 8 37 7 38 8 39 4 40 8 41 3 42 3 43 1 44 3 45 7 46 6 47 6 48 3 49 4 50 5 51 6 52 7 53 5 54 7 55 6 56 2 57 4 58 4 59 6 60 8 61 6 62 4 63 2 64 7 65 7 66 5 67 8 68 8 69 2 70 8 71 6 72 8 73 8 74 2 75 5 76 8 77 8 78 7 79 5 80 5 81 2 82 2 83 8 84 5 85 3 86 2 87 4 88 8 89 5 90 13 91 3 92 4 93 2 94 5 95 5 96 2 97 3 98 5 99 2 100 5 101 7 102 4 103 8 104 6 105 7 106 8 107 3 108 2 109 1 110 3 111 5 112 4 113 2 114 4 115 1 116 4 117 7 118 5 119 8 120 8 121 5 122 2 123 1 124 6 125 2 126 6 127 4 128 4 129 5 130 6 131 8 132 4 133 4 134 8 135 5 136 5 137 5 138 5 139 8 140 4 141 7 142 8 143 8 144 6 145 5 146 8 147 7 148 4 149 4 150 4 151 4 152 8 153 3 154 2 155 4 156 5 157 4 158 5 159 3 160 7 161 7 162 4 163 5 164 2 165 5 166 4 167 6 168 8 169 5 170 2 171 5 172 3 173 8 174 6 175 8 176 7 177 6 178 5 179 6 180 6 181 7 182 8 183 2 184 3 185 8 186 6 187 8 188 5 189 1 190 3 191 4 192 3 193 8 194 5 195 6 196 2 197 2 198 8 199 8 200 4 201 1 202 2 203 8 204 1 205 7 206 4 207 8 208 8 209 4 210 8 211 2 212 7 213 3 214 8 215 6 216 9 217 8 218 5 219 4 220 4 221 2 222 5 223 3 224 6 225 5 226 2 227 6 228 1 229 5 230 5 231 4 232 2 233 6 234 5 235 7 236 2 237 4 238 6 239 5 240 5 241 3 242 4 243 4 244 6 245 8 246 3 247 2 248 1 249 6 250 3 251 3 252 3 253 8 254 8 255 5 256 3 257 6 258 3 259 3 260 7 261 8 262 6 263 6 264 6 265 5 266 2 267 18 268 4 269 6 270 6 271 8 272 7 273 4 274 4 275 8 276 8 277 3 278 3 279 5 280 6 281 3 282 8 283 8 284 8 285 3 286 8 287 8 288 6 289 8 290 3 291 4 292 7 293 3 294 8 295 4 296 5 297 7 298 3 299 4 300 6 301 8 302 8 303 5 304 2 305 2 306 8 307 3 308 8 309 8 310 2 311 2 312 8 313 8 314 8 315 4 316 6 317 6 318 4 319 6 320 8 321 5 322 8 323 5 324 4 325 4 326 7 327 12 328 2 329 4 330 5 331 8 332 4 333 4 334 4 335 4 336 4 337 8 338 8 339 8 340 4 341 5 342 2 343 3 344 7 345 2 346 3 347 5 348 5 349 4 350 8 351 4 352 8 353 5 354 5 355 6 356 4 357 2 358 3 359 6 360 8 361 6 362 6 363 5 364 5 365 4 366 6 367 7 368 8 369 5 370 6 371 8 372 2 373 4 374 7 375 5 376 2 377 3 378 8 379 3 380 8 381 3 382 7 383 1 384 8 385 4 386 8 387 2 388 3 389 5 390 5 391 4 392 2 393 3 394 8 395 3 396 6 397 4 398 8 399 8 400 3 401 7 402 8 403 2 404 7 405 8 406 2 407 4 408 8 409 2 410 3 411 4 412 3 413 8 414 6 415 7 416 4 417 3 418 5 419 4 420 8 421 4 422 5 423 2 424 6 425 6 426 2 427 5 428 2 429 8 430 3 431 2 432 4 433 5 434 4 435 2 436 2 437 2 438 8 439 8 440 8 441 5 442 8 443 8 444 2 445 4 446 2 447 4 448 5 449 8 450 8 451 3 452 6 453 3 454 8 455 1 456 2 457 6 458 3 459 3 460 2 461 4 462 5 463 4 464 2 465 5 466 8 467 8 468 8 469 2 470 6 471 4 472 8 473 4 474 4 475 6 476 8 477 8 478 2 479 8 480 7 481 6 482 5 483 8 484 2 485 3 486 2 487 8 488 8 489 3 490 5 491 7 492 4 493 5 494 7 495 8 496 3 497 2 498 3 499 4 500 6 501 3 502 1 503 8 504 1 505 4 506 5 507 8 508 7 509 1 510 1 511 6 512 1 513 4 514 5 515 8 516 5 517 7 518 6 519 3 520 3 521 7 522 4 523 8 524 5 525 2 526 5 527 8 528 6 529 5 530 2 531 5 532 4 533 8 534 1 535 2 536 3 537 8 538 4 539 4 540 5 541 5 542 8 543 2 544 2 545 7 546 4 547 4 548 4 549 8 550 20 551 8 552 7 553 4 554 5 555 1 556 4 557 4 558 2 559 3 560 4 561 4 562 8 563 11 564 6 565 8 566 4 567 8 568 6 569 4 570 7 571 8 572 5 573 8 574 4 575 5 576 5 577 8 578 6 579 8 580 2 581 8 582 4 583 8 584 6 585 4 586 6 587 8 588 6 589 2 590 3 591 8 592 6 593 6 594 3 595 8 596 5 597 8 598 3 599 3 600 5 601 4 602 3 603 8 604 3 605 7 606 5 607 5 608 5 609 6 610 2 611 4 612 4 613 2 614 2 615 4 616 6 617 8 618 2 619 8 620 3 621 5 622 8 623 1 624 6 625 8 626 1 627 7 628 4 629 2 630 1 631 4 632 4 633 2 634 8 635 3 636 6 637 3 638 4 639 6 640 5 641 8 642 8 643 3 644 4 645 2 646 3 647 6 648 8 649 3 650 4 651 1 652 8 653 5 654 5 655 5 656 5 657 2 658 2 659 3 660 3 661 8 662 2 663 8 664 4 665 4 666 6 667 5 668 6 669 5 670 3 671 8 672 2 673 8 674 3 675 3 676 8 677 8 678 2 679 3 680 8 681 2 682 4 683 2 684 4 685 1 686 7 687 2 688 3 689 5 690 4 691 5 692 7 693 7 694 8 695 2 696 5 697 4 698 3 699 8 700 4 701 4 702 8 703 4 704 3 705 1 706 5 707 5 708 5 709 2 710 2 711 2 712 3 713 4 714 4 715 1 716 8 717 3 718 5 719 7 720 8 721 6 722 14 723 8 724 3 725 6 726 8 727 8 728 8 729 6 730 2 731 3 732 4 733 8 734 6 735 6 736 7 737 3 738 4 739 6 740 2 741 3 742 4 743 2 744 7 745 4 746 8 747 2 748 3 749 8 750 3 751 6 752 5 753 7 754 5 755 9 756 5 757 1 758 5 759 2 760 2 761 3 762 8 763 3 764 5 765 4 766 8 767 6 768 8 769 3 770 2 771 2 772 8 773 5 774 6 775 6 776 5 777 4 778 8 779 2 780 1 781 2 782 4 783 5 784 8 785 3 786 5 787 8 788 4 789 2 790 6 791 8 792 8 793 3 794 8 795 5 796 4 797 8 798 8 799 5 800 8 801 2 802 8 803 3 804 5 805 2 806 5 807 6 808 6 809 8 810 5 811 4 812 4 813 5 814 8 815 2 816 4 817 5 818 6 819 3 820 3 821 3 822 3 823 8 824 1 825 4 826 2 827 4 828 3 829 3 830 3 831 3 832 1 833 3 834 6 835 5 836 2 837 3 838 6 839 6 840 3 841 4 842 5 843 6 844 4 845 15 846 3 847 3 848 8 849 6 850 3 851 3 852 8 853 4 854 4 855 2 856 3 857 8 858 3 859 6 860 7 861 8 862 4 863 3 864 5 865 7 866 3 867 3 868 5 869 5 870 6 871 4 872 3 873 4 874 3 875 6 876 3 877 7 878 8 879 3 880 7 881 4 882 5 883 4 884 3 885 3 886 2 887 2 888 7 889 8 890 8 891 3 892 6 893 8 894 8 895 1 896 8 897 3 898 8 899 2 900 4 901 3 902 8 903 4 904 4 905 4 906 7 907 8 908 5 909 8 910 8 911 3 912 5 913 3 914 4 915 2 916 8 917 3 918 4 919 8 920 2 921 3 922 3 923 2 924 6 925 8 926 8 927 5 928 2 929 6 930 5 931 8 932 3 933 4 934 4 935 2 936 8 937 6 938 8 939 7 940 5 941 1 942 6 943 6 944 1 945 5 946 4 947 2 948 3 949 4 950 4 951 3 952 3 953 6 954 7 955 8 956 6 957 8 958 8 959 3 960 5 961 5 962 5 963 5 964 8 965 8 966 3 967 5 968 3 969 5 970 2 971 8 972 8 973 8 974 6 975 8 976 5 977 5 978 6 979 4 980 5 981 2 982 8 983 4 984 2 985 8 986 1 987 8 988 8 989 5 990 2 991 2 992 6 993 7 994 4 995 4 996 5 997 8 998 4 999 7 1000 8 1001 4 1002 8 1003 4 1004 6 1005 8 1006 2 1007 3 1008 5 1009 8 1010 5 1011 2 1012 3 1013 2 1014 4 1015 7 1016 8 1017 4 1018 3 1019 5 1020 3 1021 6 1022 2 1023 5 1024 3 1025 6 1026 6 1027 2 1028 8 1029 4 1030 7 1031 20 1032 3 1033 5 1034 2 1035 2 1036 5 1037 3 1038 8 1039 8 1040 8 1041 4 1042 4 1043 6 1044 2 1045 5 1046 6 1047 6 1048 4 1049 8 1050 8 1051 3 1052 3 1053 4 1054 3 1055 8 1056 6 1057 4 1058 8 1059 6 1060 5 1061 6 1062 8 1063 8 1064 7 1065 4 1066 8 1067 5 1068 8 1069 7 1070 4 1071 4 1072 4 1073 5 1074 5 1075 7 1076 2 1077 2 1078 3 1079 5 1080 7 1081 4 1082 4 1083 8 1084 14 1085 3 1086 7 1087 8 1088 5 1089 8 1090 3 1091 3 1092 8 1093 5 1094 3 1095 8 1096 8 1097 6 1098 2 1099 3 1100 2 1101 2 1102 3 1103 8 1104 4 1105 3 1106 12 1107 3 1108 3 1109 8 1110 8 1111 3 1112 3 1113 1 1114 4 1115 7 1116 2 1117 7 1118 6 1119 7 1120 4 1121 4 1122 2 1123 8 1124 8 1125 5 1126 3 1127 7 1128 1 1129 4 1130 1 1131 6 1132 6 1133 4 1134 6 1135 5 1136 4 1137 3 1138 8 1139 8 1140 2 1141 1 1142 5 1143 2 1144 2 1145 2 1146 6 1147 7 1148 5 1149 6 1150 5 1151 4 1152 6 1153 8 1154 4 1155 3 1156 3 1157 2 1158 2 1159 4 1160 5 1161 11 1162 3 1163 4 1164 8 1165 4 1166 4 1167 4 1168 4 1169 2 1170 4 1171 4 1172 7 1173 5 1174 7 1175 2 1176 7 1177 5 1178 8 1179 3 1180 5 1181 6 1182 8 1183 5 1184 7 1185 6 1186 4 1187 2 1188 4 1189 5 1190 5 1191 8 1192 5 1193 5 1194 8 1195 8 1196 7 1197 8 1198 5 1199 8 1200 4 1201 8 1202 6 1203 8 1204 5 1205 4 1206 4 1207 6 1208 2 1209 7 1210 4 1211 2 1212 5 1213 2 1214 8 1215 4 1216 16 1217 6 1218 3 1219 5 1220 3 1221 4 1222 4 1223 5 1224 3 1225 5 1226 4 1227 8 1228 8 1229 8 1230 2 1231 4 1232 2 1233 7 1234 2 1235 2 1236 3 1237 8 1238 2 1239 2 1240 7 1241 4 1242 2 1243 6 1244 4 1245 2 1246 5 1247 8 1248 1 1249 8 1250 7 1251 8 1252 3L1252 0Z" fill="#ff1493" fill-opacity="0.5"/>
<path transform="matrix(0.25 0 0 -0.25 280.7 74.3)" d="M0 0L0 90 1 188 2 188 3 188 4 188 5 88 6 165 7 146 8 188 9 110 10 92 11 93 12 96 13 105 14 61 15 105 16 65 17 90 18 144 19 89 20 85 21 104 22 92 23 72 24 172 25 81 26 49 27 101 28 69 29 68 30 68 31 144 32 90 33 100 34 102 35 116 36 89 37 80 38 79 39 97 40 96 41 76 42 64 43 118 44 105 45 89 46 83 47 106 48 78 49 83 50 53 51 106 52 99 53 81 54 97 55 77 56 103 57 85 58 75 59 78 60 106 61 87 62 103 63 69 64 89 65 83 66 108 67 71 68 91 69 94 70 102 71 95 72 104 73 105 74 75 75 68 76 94 77 91 78 94 79 89 80 88 81 74 82 64 83 81 84 81 85 62 86 75 87 58 88 101 89 59 90 73 91 110 92 58 93 53 94 69 95 114 96 95 97 115 98 77 99 92 100 62 101 84 102 85 103 79 104 79 105 74 106 84 107 79 108 133 109 71 110 86 111 101 112 110 113 68 114 101 115 111 116 69 117 106 118 126 119 53 120 140 121 98 122 76 123 103 124 86 125 91 126 94 127 95 128 72 129 71 130 85 131 79 132 116 133 92 134 88 135 110 136 68 137 71 138 97 139 86 140 106 141 108 142 74 143 110 144 114 145 83 146 84 147 60 148 100 149 143 150 62 151 82 152 102 153 77 154 63 155 116 156 130 157 105 158 93 159 80 160 84 161 60 162 53 163 92 164 75 165 87 166 59 167 85 168 66 169 120 170 127 171 57 172 98 173 117 174 144 175 100 176 99 177 69 178 116 179 101 180 105 181 83 182 62 183 106 184 85 185 103 186 148 187 119 188 84 189 75 190 120 191 112 192 90 193 104 194 77 195 106 196 98 197 121 198 108 199 71 200 88 201 60 202 74 203 142 204 99 205 84 206 90 207 100 208 93 209 81 210 104 211 92 212 100 213 88 214 65 215 90 216 95 217 94 218 81 219 86 220 129 221 51 222 144 223 111 224 80 225 112 226 88 227 88 228 100 229 112 230 94 231 150 232 101 233 65 234 71 235 107 236 95 237 77 238 97 239 61 240 115 241 71 242 67 243 110 244 87 245 91 246 80 247 81 248 76 249 119 250 44 251 144 252 131 253 49 254 89 255 113 256 84 257 97 258 70 259 83 260 123 261 89 262 67 263 73 264 103 265 111 266 85 267 86 268 67 269 86 270 77 271 71 272 89 273 93 274 111 275 123 276 90 277 84 278 138 279 112 280 106 281 88 282 86 283 71 284 83 285 84 286 92 287 97 288 66 289 101 290 74 291 80 292 144 293 89 294 128 295 122 296 81 297 103 298 69 299 76 300 91 301 144 302 97 303 92 304 84 305 84 306 120 307 107 308 76 309 108 310 89 311 59 312 101 313 68 314 78 315 97 316 62 317 52 318 89 319 55 320 130 321 117 322 71 323 82 324 91 325 83 326 106 327 99 328 88 329 102 330 84 331 98 332 142 333 70 334 96 335 76 336 138 337 75 338 78 339 105 340 99 341 118 342 104 343 71 344 139 345 80 346 53 347 71 348 116 349 100 350 123 351 108 352 83 353 82 354 91 355 105 356 92 357 72 358 80 359 72 360 79 361 56 362 73 363 62 364 138 365 63 366 82 367 61 368 112 369 120 370 97 371 103 372 97 373 89 374 72 375 66 376 68 377 97 378 101 379 99 380 85 381 67 382 88 383 103 384 61 385 80 386 131 387 66 388 115 389 84 390 131 391 79 392 76 393 89 394 90 395 93 396 100 397 65 398 100 399 106 400 66 401 87 402 80 403 127 404 114 405 64 406 88 407 82 408 119 409 83 410 95 411 72 412 97 413 79 414 113 415 128 416 107 417 98 418 73 419 117 420 52 421 103 422 112 423 92 424 108 425 82 426 98 427 121 428 75 429 86 430 83 431 78 432 70 433 144 434 74 435 129 436 119 437 108 438 64 439 115 440 92 441 102 442 141 443 112 444 72 445 67 446 107 447 110 448 133 449 86 450 110 451 92 452 107 453 103 454 103 455 69 456 113 457 77 458 112 459 118 460 82 461 60 462 81 463 81 464 67 465 77 466 77 467 109 468 123 469 129 470 77 471 85 472 102 473 69 474 81 475 142 476 97 477 80 478 103 479 93 480 81 481 77 482 73 483 139 484 80 485 92 486 102 487 114 488 77 489 119 490 127 491 140 492 69 493 106 494 90 495 70 496 104 497 75 498 113 499 78 500 106 501 81 502 120 503 73 504 82 505 119 506 71 507 98 508 82 509 70 510 79 511 99 512 124 513 84 514 95 515 78 516 98 517 85 518 68 519 79 520 87 521 97 522 76 523 102 524 143 525 99 526 144 527 71 528 78 529 144 530 100 531 76 532 144 533 55 534 106 535 138 536 88 537 75 538 88 539 80 540 83 541 93 542 87 543 78 544 74 545 65 546 112 547 74 548 121 549 78 550 144 551 126 552 84 553 89 554 90 555 134 556 91 557 76 558 108 559 139 560 63 561 98 562 78 563 90 564 73 565 116 566 59 567 89 568 103 569 87 570 80 571 81 572 99 573 62 574 95 575 120 576 68 577 74 578 128 579 101 580 77 581 96 582 114 583 77 584 91 585 102 586 80 587 120 588 83 589 86 590 90 591 103 592 92 593 84 594 102 595 144 596 94 597 47 598 90 599 85 600 104 601 107 602 95 603 93 604 89 605 77 606 91 607 115 608 65 609 144 610 69 611 108 612 78 613 60 614 73 615 95 616 93 617 78 618 80 619 87 620 75 621 94 622 75 623 61 624 122 625 105 626 104 627 92 628 123 629 77 630 121 631 138 632 108 633 56 634 134 635 113 636 84 637 89 638 102 639 93 640 83 641 112 642 86 643 76 644 99 645 102 646 75 647 102 648 86 649 110 650 123 651 95 652 108 653 88 654 97 655 125 656 101 657 80 658 74 659 99 660 80 661 113 662 73 663 104 664 91 665 99 666 107 667 114 668 89 669 86 670 111 671 98 672 73 673 79 674 110 675 93 676 88 677 125 678 60 679 63 680 128 681 79 682 74 683 102 684 105 685 78 686 107 687 110 688 102 689 89 690 115 691 78 692 92 693 116 694 74 695 74 696 81 697 107 698 84 699 65 700 96 701 80 702 74 703 83 704 77 705 87 706 101 707 114 708 99 709 94 710 63 711 101 712 121 713 65 714 61 715 89 716 90 717 128 718 92 719 59 720 67 721 106 722 93 723 81 724 126 725 104 726 101 727 88 728 78 729 77 730 126 731 100 732 83 733 128 734 88 735 94 736 79 737 103 738 86 739 112 740 112 741 88 742 94 743 80 744 105 745 84 746 88 747 94 748 80 749 80 750 80 751 102 752 105 753 80 754 43 755 97 756 72 757 92 758 117 759 100 760 83 761 144 762 61 763 104 764 103 765 92 766 71 767 120 768 105 769 124 770 104 771 63 772 103 773 61 774 139 775 124 776 124 777 144 778 77 779 103 780 73 781 114 782 106 783 81 784 89 785 77 786 85 787 80 788 106 789 109 790 80 791 115 792 104 793 79 794 114 795 89 796 68 797 109 798 71 799 56 800 60 801 144 802 72 803 112 804 125 805 68 806 82 807 86 808 66 809 99 810 94 811 121 812 122 813 96 814 59 815 68 816 129 817 89 818 113 819 89 820 116 821 89 822 66 823 59 824 45 825 86 826 87 827 77 828 59 829 82 830 85 831 84 832 77 833 91 834 93 835 68 836 102 837 107 838 70 839 130 840 99 841 110 842 97 843 86 844 66 845 65 846 105 847 74 848 80 849 79 850 95 851 100 852 97 853 98 854 82 855 101 856 89 857 73 858 109 859 115 860 73 861 103 862 74 863 120 864 82 865 139 866 81 867 73 868 89 869 67 870 77 871 98 872 82 873 125 874 82 875 96 876 76 877 99 878 71 879 78 880 108 881 101 882 82 883 76 884 123 885 94 886 75 887 94 888 144 889 81 890 105 891 68 892 113 893 100 894 103 895 144 896 103 897 107 898 106 899 119 900 89 901 135 902 157 903 107 904 94 905 88 906 81 907 88 908 80 909 90 910 113 911 104 912 91 913 113 914 69 915 98 916 127 917 117 918 72 919 87 920 140 921 86 922 87 923 64 924 100 925 92 926 69 927 65 928 105 929 98 930 80 931 113 932 118 933 82 934 78 935 101 936 77 937 107 938 72 939 100 940 116 941 100 942 92 943 100 944 77 945 92 946 113 947 126 948 111 949 86 950 82 951 120 952 69 953 91 954 104 955 99 956 61 957 110 958 87 959 83 960 82 961 107 962 86 963 85 964 74 965 74 966 144 967 97 968 129 969 91 970 144 971 86 972 64 973 103 974 81 975 94 976 99 977 95 978 81 979 87 980 118 981 83 982 71 983 104 984 107 985 76 986 71 987 113 988 83 989 74 990 90 991 79 992 84 993 100 994 73 995 88 996 75 997 113 998 77 999 122 1000 87 1001 68 1002 99 1003 74 1004 73 1005 75 1006 71 1007 97 1008 105 1009 101 1010 82 1011 69 1012 123 1013 140 1014 124 1015 113 1016 67 1017 84 1018 60 1019 71 1020 63 1021 136 1022 113 1023 68 1024 118 1025 93 1026 90 1027 101 1028 87 1029 107 1030 114 1031 130 1032 64 1033 82 1034 126 1035 75 1036 109 1037 83 1038 74 1039 96 1040 68 1041 89 1042 100 1043 87 1044 138 1045 111 1046 144 1047 141 1048 122 1049 140 1050 126 1051 87 1052 83 1053 89 1054 74 1055 87 1056 85 1057 72 1058 68 1059 92 1060 102 1061 104 1062 144 1063 72 1064 168 1065 60 1066 80 1067 68 1068 113 1069 103 1070 127 1071 145 1072 106 1073 67 1074 112 1075 60 1076 136 1077 85 1078 88 1079 93 1080 72 1081 79 1082 77 1083 94 1084 100 1085 103 1086 83 1087 104 1088 76 1089 88 1090 92 1091 109 1092 75 1093 64 1094 91 1095 77 1096 111 1097 89 1098 112 1099 89 1100 94 1101 74 1102 84 1103 120 1104 92 1105 87 1106 141 1107 109 1108 135 1109 61 1110 101 1111 86 1112 94 1113 101 1114 83 1115 53 1116 102 1117 102 1118 98 1119 109 1120 94 1121 100 1122 64 1123 77 1124 103 1125 97 1126 93 1127 55 1128 79 1129 116 1130 115 1131 86 1132 78 1133 93 1134 130 1135 95 1136 97 1137 101 1138 105 1139 92 1140 78 1141 95 1142 106 1143 94 1144 67 1145 95 1146 112 1147 74 1148 74 1149 95 1150 134 1151 76 1152 48 1153 87 1154 88 1155 77 1156 107 1157 85 1158 77 1159 114 1160 98 1161 88 1162 68 1163 78 1164 70 1165 91 1166 86 1167 114 1168 94 1169 136 1170 112 1171 78 1172 115 1173 83 1174 104 1175 72 1176 99 1177 135 1178 121 1179 76 1180 104 1181 62 1182 85 1183 143 1184 73 1185 125 1186 120 1187 79 1188 144 1189 134 1190 103 1191 123 1192 83 1193 83 1194 116 1195 68 1196 56 1197 72 1198 97 1199 103 1200 94 1201 124 1202 75 1203 88 1204 74 1205 69 1206 139 1207 73 1208 60 1209 61 1210 86 1211 117 1212 108 1213 73 1214 90 1215 104 1216 87 1217 97 1218 53 1219 82 1220 79 1221 99 1222 107 1223 106 1224 67 1225 81 1226 90 1227 119 1228 104 1229 128 1230 76 1231 85 1232 77 1233 127 1234 72 1235 96 1236 140 1237 79 1238 87 1239 126 1240 70 1241 103 1242 74 1243 69 1244 88 1245 81 1246 98 1247 91 1248 139 1249 126 1250 77 1251 82 1252 86L1252 0Z" fill="#00bfff" fill-opacity="0.5"/>
<path transform="matrix(0.25 0 0 -0.25 280.7 74.3)" d="M0 0L0 3 1 5 2 4 3 7 4 3 5 4 6 7 7 5 8 5 9 9 10 6 11 4 12 3 13 9 14 9 15 8 16 5 17 6 18 6 19 9 20 7 21 7 22 7 23 3 24 5 25 9 26 3 27 3 28 5 29 9 30 4 31 2 32 2 33 9 34 7 35 9 36 5 37 5 38 9 39 6 40 3 41 4 42 4 43 8 44 5 45 5 46 9 47 6 48 15 49 9 50 7 51 7 52 6 53 7 54 9 55 5 56 6 57 5 58 9 59 4 60 5 61 1 62 6 63 2 64 2 65 6 66 9 67 3 68 6 69 4 70 9 71 6 72 9 73 6 74 3 75 2 76 9 77 8 78 5 79 1 80 5 81 2 82 9 83 6 84 7 85 4 86 7 87 8 88 9 89 9 90 8 91 5 92 9 93 4 94 8 95 4 96 6 97 5 98 4 99 9 100 9 101 3 102 7 103 11 104 4 105 9 106 6 107 9 108 5 109 5 110 3 111 7 112 2 113 5 114 8 115 8 116 9 117 2 118 6 119 3 120 3 121 3 122 3 123 5 124 7 125 9 126 3 127 6 128 9 129 3 130 9 131 8 132 9 133 5 134 4 135 3 136 3 137 9 138 4 139 6 140 7 141 1 142 4 143 6 144 3 145 9 146 3 147 4 148 3 149 4 150 3 151 7 152 5 153 9 154 2 155 4 156 3 157 4 158 2 159 9 160 7 161 3 162 9 163 3 164 5 165 4 166 5 167 3 168 9 169 4 170 5 171 5 172 5 173 4 174 5 175 9 176 3 177 3 178 5 179 4 180 7 181 5 182 9 183 9 184 3 185 4 186 3 187 3 188 8 189 3 190 9 191 8 192 9 193 5 194 8 195 6 196 4 197 9 198 3 199 8 200 9 201 9 202 3 203 9 204 9 205 6 206 9 207 7 208 4 209 8 210 8 211 9 212 6 213 3 214 9 215 8 216 8 217 9 218 5 219 5 220 2 221 5 222 9 223 9 224 9 225 5 226 3 227 9 228 9 229 3 230 4 231 6 232 8 233 4 234 4 235 6 236 3 237 5 238 5 239 9 240 3 241 8 242 6 243 22 244 9 245 7 246 13 247 6 248 5 249 2 250 7 251 9 252 7 253 4 254 4 255 3 256 6 257 6 258 6 259 9 260 4 261 4 262 9 263 4 264 2 265 3 266 2 267 8 268 5 269 9 270 9 271 8 272 4 273 9 274 5 275 9 276 2 277 9 278 4 279 9 280 6 281 18 282 9 283 9 284 4 285 5 286 7 287 5 288 5 289 4 290 4 291 6 292 8 293 4 294 9 295 4 296 4 297 8 298 2 299 5 300 5 301 10 302 9 303 2 304 9 305 8 306 9 307 3 308 11 309 2 310 18 311 9 312 27 313 3 314 3 315 3 316 6 317 9 318 9 319 5 320 3 321 9 322 7 323 4 324 9 325 9 326 9 327 9 328 9 329 9 330 6 331 8 332 6 333 2 334 4 335 9 336 5 337 9 338 6 339 7 340 7 341 5 342 8 343 4 344 5 345 6 346 4 347 1 348 4 349 9 350 9 351 5 352 2 353 8 354 5 355 2 356 9 357 9 358 2 359 7 360 9 361 4 362 2 363 6 364 2 365 5 366 6 367 5 368 3 369 9 370 8 371 9 372 5 373 2 374 7 375 17 376 2 377 9 378 9 379 8 380 5 381 5 382 5 383 9 384 9 385 4 386 9 387 2 388 5 389 4 390 6 391 3 392 6 393 9 394 5 395 6 396 7 397 2 398 7 399 9 400 6 401 6 402 5 403 9 404 6 405 3 406 8 407 9 408 2 409 6 410 6 411 2 412 1 413 8 414 4 415 9 416 9 417 2 418 3 419 5 420 9 421 5 422 5 423 9 424 4 425 9 426 9 427 5 428 4 429 9 430 9 431 4 432 3 433 5 434 9 435 8 436 9 437 8 438 7 439 9 440 4 441 2 442 8 443 6 444 5 445 8 446 2 447 7 448 9 449 7 450 4 451 9 452 3 453 3 454 9 455 5 456 7 457 9 458 9 459 7 460 8 461 5 462 7 463 3 464 5 465 4 466 6 467 9 468 9 469 9 470 9 471 5 472 6 473 8 474 7 475 8 476 5 477 9 478 4 479 5 480 5 481 9 482 9 483 17 484 4 485 9 486 4 487 5 488 23 489 9 490 5 491 5 492 8 493 4 494 17 495 9 496 7 497 9 498 7 499 9 500 3 501 5 502 4 503 7 504 1 505 9 506 8 507 9 508 9 509 6 510 5 511 9 512 3 513 4 514 8 515 9 516 6 517 8 518 6 519 9 520 8 521 9 522 4 523 3 524 5 525 5 526 6 527 7 528 5 529 9 530 5 531 4 532 4 533 9 534 6 535 4 536 8 537 5 538 9 539 7 540 2 541 9 542 5 543 9 544 5 545 3 546 7 547 4 548 9 549 5 550 6 551 5 552 4 553 6 554 9 555 9 556 7 557 6 558 8 559 5 560 9 561 7 562 7 563 3 564 5 565 5 566 4 567 3 568 16 569 3 570 9 571 7 572 6 573 7 574 4 575 9 576 9 577 6 578 3 579 7 580 7 581 9 582 8 583 7 584 6 585 9 586 8 587 8 588 3 589 9 590 5 591 9 592 9 593 9 594 5 595 5 596 7 597 9 598 3 599 6 600 9 601 4 602 6 603 4 604 3 605 9 606 4 607 9 608 4 609 9 610 9 611 9 612 8 613 7 614 14 615 5 616 2 617 4 618 9 619 5 620 6 621 9 622 6 623 9 624 9 625 4 626 6 627 6 628 5 629 9 630 3 631 4 632 5 633 9 634 7 635 7 636 9 637 5 638 4 639 6 640 6 641 7 642 2 643 7 644 4 645 9 646 9 647 6 648 2 649 5 650 4 651 7 652 5 653 7 654 8 655 5 656 3 657 5 658 9 659 4 660 2 661 9 662 4 663 9 664 3 665 7 666 4 667 2 668 9 669 3 670 7 671 8 672 9 673 4 674 7 675 6 676 7 677 5 678 9 679 13 680 2 681 2 682 8 683 9 684 4 685 5 686 5 687 9 688 7 689 9 690 5 691 9 692 4 693 5 694 3 695 6 696 9 697 3 698 8 699 6 700 8 701 8 702 3 703 6 704 9 705 8 706 9 707 6 708 4 709 4 710 7 711 5 712 9 713 7 714 4 715 4 716 3 717 4 718 18 719 6 720 7 721 9 722 4 723 6 724 3 725 9 726 6 727 2 728 9 729 5 730 9 731 6 732 4 733 3 734 7 735 4 736 9 737 8 738 5 739 2 740 3 741 3 742 4 743 4 744 3 745 8 746 9 747 4 748 9 749 8 750 6 751 3 752 4 753 6 754 7 755 7 756 9 757 6 758 2 759 3 760 6 761 28 762 5 763 4 764 6 765 3 766 5 767 8 768 4 769 4 770 5 771 5 772 9 773 2 774 9 775 9 776 3 777 1 778 4 779 9 780 6 781 5 782 15 783 9 784 5 785 8 786 5 787 6 788 8 789 5 790 9 791 8 792 10 793 9 794 4 795 8 796 3 797 4 798 2 799 4 800 9 801 3 802 1 803 6 804 9 805 3 806 2 807 9 808 5 809 3 810 5 811 15 812 8 813 9 814 9 815 9 816 13 817 3 818 8 819 9 820 9 821 2 822 7 823 4 824 9 825 3 826 7 827 4 828 8 829 3 830 9 831 6 832 8 833 9 834 6 835 3 836 5 837 6 838 9 839 2 840 9 841 4 842 7 843 7 844 3 845 6 846 8 847 7 848 9 849 9 850 14 851 3 852 2 853 5 854 9 855 9 856 7 857 1 858 5 859 9 860 3 861 4 862 2 863 2 864 9 865 9 866 23 867 5 868 4 869 9 870 3 871 3 872 3 873 6 874 24 875 3 876 3 877 6 878 5 879 4 880 8 881 9 882 2 883 4 884 3 885 9 886 7 887 5 888 5 889 9 890 3 891 3 892 9 893 9 894 5 895 7 896 9 897 5 898 9 899 7 900 5 901 7 902 5 903 8 904 9 905 9 906 9 907 9 908 2 909 9 910 5 911 5 912 6 913 9 914 5 915 9 916 6 917 7 918 3 919 7 920 7 921 9 922 3 923 7 924 3 925 3 926 5 927 3 928 7 929 4 930 2 931 9 932 3 933 5 934 5 935 3 936 6 937 6 938 2 939 7 940 1 941 3 942 9 943 4 944 3 945 4 946 7 947 5 948 3 949 8 950 9 951 9 952 9 953 3 954 5 955 5 956 7 957 9 958 5 959 5 960 9 961 13 962 6 963 4 964 9 965 9 966 9 967 6 968 13 969 5 970 5 971 2 972 6 973 9 974 9 975 5 976 4 977 9 978 5 979 6 980 7 981 4 982 2 983 9 984 6 985 4 986 7 987 5 988 7 989 3 990 3 991 4 992 3 993 9 994 8 995 4 996 5 997 6 998 2 999 9 1000 21 1001 3 1002 5 1003 9 1004 3 1005 4 1006 3 1007 5 1008 9 1009 5 1010 5 1011 5 1012 4 1013 8 1014 8 1015 8 1016 8 1017 4 1018 6 1019 9 1020 3 1021 6 1022 9 1023 9 1024 8 1025 4 1026 8 1027 4 1028 5 1029 9 1030 2 1031 7 1032 3 1033 2 1034 4 1035 6 1036 7 1037 9 1038 5 1039 7 1040 4 1041 8 1042 2 1043 4 1044 4 1045 4 1046 8 1047 2 1048 4 1049 3 1050 7 1051 6 1052 5 1053 7 1054 3 1055 9 1056 9 1057 5 1058 2 1059 2 1060 2 1061 3 1062 9 1063 9 1064 8 1065 5 1066 2 1067 6 1068 1 1069 9 1070 4 1071 9 1072 5 1073 4 1074 4 1075 8 1076 8 1077 8 1078 6 1079 3 1080 9 1081 9 1082 6 1083 9 1084 4 1085 3 1086 5 1087 9 1088 19 1089 4 1090 4 1091 3 1092 9 1093 7 1094 5 1095 9 1096 9 1097 1 1098 6 1099 6 1100 9 1101 5 1102 4 1103 5 1104 6 1105 7 1106 3 1107 7 1108 2 1109 9 1110 2 1111 3 1112 2 1113 6 1114 5 1115 4 1116 2 1117 4 1118 5 1119 2 1120 3 1121 4 1122 6 1123 4 1124 4 1125 6 1126 2 1127 8 1128 7 1129 9 1130 8 1131 9 1132 5 1133 8 1134 2 1135 9 1136 4 1137 8 1138 2 1139 13 1140 3 1141 9 1142 9 1143 9 1144 9 1145 6 1146 9 1147 9 1148 5 1149 9 1150 7 1151 6 1152 4 1153 4 1154 9 1155 9 1156 8 1157 5 1158 3 1159 9 1160 9 1161 5 1162 4 1163 3 1164 5 1165 2 1166 8 1167 2 1168 9 1169 7 1170 4 1171 4 1172 9 1173 2 1174 4 1175 6 1176 9 1177 5 1178 7 1179 9 1180 9 1181 6 1182 8 1183 9 1184 8 1185 9 1186 7 1187 8 1188 5 1189 8 1190 9 1191 7 1192 9 1193 9 1194 9 1195 5 1196 9 1197 9 1198 7 1199 2 1200 3 1201 9 1202 2 1203 9 1204 4 1205 7 1206 4 1207 9 1208 5 1209 4 1210 9 1211 9 1212 3 1213 2 1214 3 1215 8 1216 2 1217 3 1218 4 1219 5 1220 9 1221 3 1222 9 1223 4 1224 5 1225 7 1226 8 1227 9 1228 2 1229 9 1230 9 1231 5 1232 7 1233 2 1234 9 1235 9 1236 4 1237 5 1238 6 1239 6 1240 7 1241 5 1242 9 1243 3 1244 4 1245 3 1246 6 1247 7 1248 9 1249 22 1250 4 1251 3 1252 3L1252 0Z" fill="#bebebe" fill-opacity="0.5"/>
<path d="M281.3 119.8h-0.1l-0.4 3.8l0.4 3.8h0.1zM281.3 119.8h0.2l0.5 3.8l-0.5 3.8h-0.2zM282.8 119.8h-0.2l-0.5 3.8l0.5 3.8h0.2zM284 119.8h-0.3l-0.8 3.8l0.8 3.8h0.3zM284.1 119.8h0.2l0.7 3.8l-0.7 3.8h-0.2zM285.1 119.8h0.2l0.5 3.8l-0.5 3.8h-0.2zM286.6 119.8h-0.2l-0.5 3.8l0.5 3.8h0.2zM286.8 119.8h0.1l0.4 3.8l-0.4 3.8h-0.1zM287.9 119.8h-0.1l-0.3 3.8l0.3 3.8h0.1zM290 119.8h-0.3l-0.8 3.8l0.8 3.8h0.3zM292.1 119.8h-0.5l-1.5 3.8l1.5 3.8h0.5zM292.7 119.8h-0.1l-0.3 3.8l0.3 3.8h0.1zM293.7 119.8h-0.2l-0.6 3.8l0.6 3.8h0.2zM295.5 119.8h-0.4l-1.2 3.8l1.2 3.8h0.4zM296 119.8h-0.1l-0.3 3.8l0.3 3.8h0.1zM297.5 119.8h-0.3l-1 3.8l1 3.8h0.3zM298.5 119.8h-0.2l-0.6 3.8l0.6 3.8h0.2zM301.3 119.8h-0.2l-0.5 3.8l0.5 3.8h0.2zM302.7 119.8h0.1l0.4 3.8l-0.4 3.8h-0.1zM303.3 119.8h0.8l2.3 3.8l-2.3 3.8h-0.8zM307.5 119.8h-0.2l-0.7 3.8l0.7 3.8h0.2zM307.5 119.8h0.2l0.6 3.8l-0.6 3.8h-0.2zM309.1 119.8h-0.2l-0.5 3.8l0.5 3.8h0.2zM309.2 119.8h0.3l0.9 3.8l-0.9 3.8h-0.3zM312.9 119.8h-0.2l-0.7 3.8l0.7 3.8h0.2zM316.4 119.8h-0.4l-1.1 3.8l1.1 3.8h0.4zM317.1 119.8h-0.2l-0.5 3.8l0.5 3.8h0.2zM317.3 119.8h0.1l0.3 3.8l-0.3 3.8h-0.1zM317.8 119.8h0.5l1.4 3.8l-1.4 3.8h-0.5zM320.2 119.8h-0.1l-0.3 3.8l0.3 3.8h0.1zM323.2 119.8h-0.1l-0.4 3.8l0.4 3.8h0.1zM325.1 119.8h0.2l0.5 3.8l-0.5 3.8h-0.2zM327.6 119.8h-0.4l-1.3 3.8l1.3 3.8h0.4zM327.7 119.8h0.7l2.2 3.8l-2.2 3.8h-0.7zM331 119.8h-0.1l-0.2 3.8l0.2 3.8h0.1zM333.2 119.8h0.2l0.6 3.8l-0.6 3.8h-0.2zM336.5 119.8h-0.1l-0.3 3.8l0.3 3.8h0.1zM337.1 119.8h-0.1l-0.3 3.8l0.3 3.8h0.1zM337.3 119.8h0.3l1 3.8l-1 3.8h-0.3zM341.8 119.8h-0.8l-2.4 3.8l2.4 3.8h0.8zM342 119.8h0.2l0.5 3.8l-0.5 3.8h-0.2zM342.8 119.8h0.2l0.6 3.8l-0.6 3.8h-0.2zM343.7 119.8h0.1l0.4 3.8l-0.4 3.8h-0.1zM344.3 119.8h0.3l1 3.8l-1 3.8h-0.3zM346.5 119.8h-0.1l-0.4 3.8l0.4 3.8h0.1zM347.1 119.8h-0.1l-0.3 3.8l0.3 3.8h0.1zM348.7 119.8h-0.4l-1.1 3.8l1.1 3.8h0.4zM349.6 119.8h-0.2l-0.6 3.8l0.6 3.8h0.2zM349.7 119.8h0.2l0.7 3.8l-0.7 3.8h-0.2zM352.6 119.8h-0.4l-1.1 3.8l1.1 3.8h0.4zM353.5 119.8h0.2l0.7 3.8l-0.7 3.8h-0.2zM355.9 119.8h-0.3l-1 3.8l1 3.8h0.3zM356.1 119.8h0.2l0.5 3.8l-0.5 3.8h-0.2zM356.9 119.8h0.2l0.6 3.8l-0.6 3.8h-0.2zM359 119.8h-0.3l-0.8 3.8l0.8 3.8h0.3zM359.2 119.8h0.1l0.4 3.8l-0.4 3.8h-0.1zM360.3 119.8h0.2l0.5 3.8l-0.5 3.8h-0.2zM361.1 119.8h0.4l1.2 3.8l-1.2 3.8h-0.4zM363 119.8h-0.1l-0.2 3.8l0.2 3.8h0.1zM363.2 119.8h0.2l0.6 3.8l-0.6 3.8h-0.2zM364.1 119.8h0.9l2.7 3.8l-2.7 3.8h-0.9zM369.1 119.8h0.2l0.5 3.8l-0.5 3.8h-0.2zM371.2 119.8h-0.3l-0.9 3.8l0.9 3.8h0.3zM371.8 119.8h-0.1l-0.4 3.8l0.4 3.8h0.1zM372 119.8h0.1l0.4 3.8l-0.4 3.8h-0.1zM372.8 119.8h0.3l0.9 3.8l-0.9 3.8h-0.3zM374.3 119.8h0.1l0.2 3.8l-0.2 3.8h-0.1zM375.9 119.8h-0.3l-0.9 3.8l0.9 3.8h0.3zM377.8 119.8h0.2l0.7 3.8l-0.7 3.8h-0.2zM380.3 119.8h0.2l0.5 3.8l-0.5 3.8h-0.2zM381.2 119.8h0.3l0.8 3.8l-0.8 3.8h-0.3zM382.8 119.8h0.1l0.4 3.8l-0.4 3.8h-0.1zM383.5 119.8h0.1l0.4 3.8l-0.4 3.8h-0.1zM385.4 119.8h0.3l0.8 3.8l-0.8 3.8h-0.3zM386.6 119.8h0.3l0.8 3.8l-0.8 3.8h-0.3zM388.6 119.8h-0.2l-0.5 3.8l0.5 3.8h0.2zM389.3 119.8h-0.1l-0.4 3.8l0.4 3.8h0.1zM389.6 119.8h0.1l0.3 3.8l-0.3 3.8h-0.1zM391.4 119.8h-0.3l-0.9 3.8l0.9 3.8h0.3zM392.6 119.8h-0.3l-0.9 3.8l0.9 3.8h0.3zM393.1 119.8h-0.1l-0.2 3.8l0.2 3.8h0.1zM394.5 119.8h0.4l1.3 3.8l-1.3 3.8h-0.4zM397.9 119.8h-0.4l-1.1 3.8l1.1 3.8h0.4zM399 119.8h-0.2l-0.7 3.8l0.7 3.8h0.2zM400.4 119.8h-0.3l-0.9 3.8l0.9 3.8h0.3zM400.6 119.8h0.2l0.6 3.8l-0.6 3.8h-0.2zM401.5 119.8h0.1l0.3 3.8l-0.3 3.8h-0.1zM402.1 119.8h0.4l1.3 3.8l-1.3 3.8h-0.4zM404.7 119.8h-0.2l-0.6 3.8l0.6 3.8h0.2zM404.9 119.8h0.3l0.9 3.8l-0.9 3.8h-0.3zM408.9 119.8h-0.5l-1.4 3.8l1.4 3.8h0.5zM410.4 119.8h-0.3l-0.9 3.8l0.9 3.8h0.3zM410.5 119.8h0.1l0.2 3.8l-0.2 3.8h-0.1zM411.8 119.8h-0.2l-0.7 3.8l0.7 3.8h0.2zM413.2 119.8h0.2l0.7 3.8l-0.7 3.8h-0.2zM415.2 119.8h-0.2l-0.7 3.8l0.7 3.8h0.2zM415.5 119.8h0.1l0.3 3.8l-0.3 3.8h-0.1zM416.6 119.8h-0.1l-0.4 3.8l0.4 3.8h0.1zM416.9 119.8h0.1l0.3 3.8l-0.3 3.8h-0.1zM418.7 119.8h0.3l0.8 3.8l-0.8 3.8h-0.3zM420 119.8h0.2l0.5 3.8l-0.5 3.8h-0.2zM420.7 119.8h0.2l0.6 3.8l-0.6 3.8h-0.2zM421.5 119.8h0.2l0.5 3.8l-0.5 3.8h-0.2zM422.4 119.8h0.7l2 3.8l-2 3.8h-0.7zM425.2 119.8h0.3l0.8 3.8l-0.8 3.8h-0.3zM426.4 119.8h0.2l0.7 3.8l-0.7 3.8h-0.2zM428 119.8h-0.1l-0.3 3.8l0.3 3.8h0.1zM429.8 119.8h0.5l1.5 3.8l-1.5 3.8h-0.5zM432.2 119.8h-0.1l-0.2 3.8l0.2 3.8h0.1zM433.3 119.8h-0.2l-0.7 3.8l0.7 3.8h0.2zM433.5 119.8h0.2l0.7 3.8l-0.7 3.8h-0.2zM435.9 119.8h-0.3l-0.9 3.8l0.9 3.8h0.3zM436.7 119.8h-0.2l-0.5 3.8l0.5 3.8h0.2zM436.8 119.8h0.1l0.4 3.8l-0.4 3.8h-0.1zM437.4 119.8h0.5l1.5 3.8l-1.5 3.8h-0.5zM439.5 119.8h0.1l0.4 3.8l-0.4 3.8h-0.1zM440.9 119.8h0.1l0.2 3.8l-0.2 3.8h-0.1zM441.8 119.8h-0.1l-0.3 3.8l0.3 3.8h0.1zM442.3 119.8h-0.1l-0.2 3.8l0.2 3.8h0.1zM445.5 119.8h-0.5l-1.4 3.8l1.4 3.8h0.5zM447.1 119.8h0.4l1.3 3.8l-1.3 3.8h-0.4zM449.1 119.8h0.2l0.6 3.8l-0.6 3.8h-0.2zM450.1 119.8h0.2l0.5 3.8l-0.5 3.8h-0.2zM451 119.8h0.2l0.7 3.8l-0.7 3.8h-0.2zM452.1 119.8h0.1l0.3 3.8l-0.3 3.8h-0.1zM452.5 119.8h0.1l0.3 3.8l-0.3 3.8h-0.1zM453.7 119.8h-0.1l-0.4 3.8l0.4 3.8h0.1zM454.4 119.8h-0.2l-0.5 3.8l0.5 3.8h0.2zM454.6 119.8h0.2l0.5 3.8l-0.5 3.8h-0.2zM455.5 119.8h0.1l0.3 3.8l-0.3 3.8h-0.1zM456.2 119.8h0.8l2.5 3.8l-2.5 3.8h-0.8zM460.6 119.8h-0.3l-0.8 3.8l0.8 3.8h0.3zM461 119.8h-0.1l-0.2 3.8l0.2 3.8h0.1zM461.7 119.8h-0.1l-0.4 3.8l0.4 3.8h0.1zM461.7 119.8h0.1l0.4 3.8l-0.4 3.8h-0.1zM463.7 119.8h-0.3l-0.9 3.8l0.9 3.8h0.3zM465.1 119.8h-0.1l-0.4 3.8l0.4 3.8h0.1zM466.1 119.8h-0.2l-0.6 3.8l0.6 3.8h0.2zM466.9 119.8h-0.2l-0.5 3.8l0.5 3.8h0.2zM468 119.8h-0.2l-0.6 3.8l0.6 3.8h0.2zM468.6 119.8h-0.1l-0.4 3.8l0.4 3.8h0.1zM468.7 119.8h0.4l1.1 3.8l-1.1 3.8h-0.4zM470.3 119.8h0.1l0.4 3.8l-0.4 3.8h-0.1zM471.4 119.8h-0.1l-0.4 3.8l0.4 3.8h0.1zM472.7 119.8h-0.3l-0.8 3.8l0.8 3.8h0.3zM474.9 119.8h0.2l0.7 3.8l-0.7 3.8h-0.2zM476.4 119.8h-0.1l-0.3 3.8l0.3 3.8h0.1zM477 119.8h0.2l0.5 3.8l-0.5 3.8h-0.2zM481.1 119.8h0.1l0.2 3.8l-0.2 3.8h-0.1zM481.9 119.8h-0.1l-0.2 3.8l0.2 3.8h0.1zM485.4 119.8h-0.2l-0.6 3.8l0.6 3.8h0.2zM486.6 119.8h-0.3l-0.8 3.8l0.8 3.8h0.3zM486.6 119.8h0.1l0.2 3.8l-0.2 3.8h-0.1zM487.2 119.8h0.2l0.7 3.8l-0.7 3.8h-0.2zM488.3 119.8h0.6l1.7 3.8l-1.7 3.8h-0.6zM490.6 119.8h0.5l1.4 3.8l-1.4 3.8h-0.5zM493.9 119.8h-0.3l-1 3.8l1 3.8h0.3zM494.1 119.8h0.4l1.1 3.8l-1.1 3.8h-0.4zM498.5 119.8h-0.2l-0.7 3.8l0.7 3.8h0.2zM499.2 119.8h-0.1l-0.3 3.8l0.3 3.8h0.1zM499.8 119.8h-0.1l-0.3 3.8l0.3 3.8h0.1zM500 119.8h0.1l0.3 3.8l-0.3 3.8h-0.1zM500.5 119.8h0.2l0.6 3.8l-0.6 3.8h-0.2zM503.7 119.8h-0.4l-1.3 3.8l1.3 3.8h0.4zM505.8 119.8h0.1l0.4 3.8l-0.4 3.8h-0.1zM507.4 119.8h-0.2l-0.7 3.8l0.7 3.8h0.2zM507.6 119.8h0.2l0.5 3.8l-0.5 3.8h-0.2zM510 119.8h-0.2l-0.5 3.8l0.5 3.8h0.2zM510.1 119.8h0.1l0.4 3.8l-0.4 3.8h-0.1zM510.8 119.8h0.5l1.5 3.8l-1.5 3.8h-0.5zM514.8 119.8h0.1l0.3 3.8l-0.3 3.8h-0.1zM515.2 119.8h0.3l0.8 3.8l-0.8 3.8h-0.3zM518.7 119.8h-0.6l-1.8 3.8l1.8 3.8h0.6zM519.2 119.8h-0.1l-0.3 3.8l0.3 3.8h0.1zM520 119.8h-0.2l-0.5 3.8l0.5 3.8h0.2zM520.7 119.8h-0.2l-0.5 3.8l0.5 3.8h0.2zM522.1 119.8h-0.3l-0.9 3.8l0.9 3.8h0.3zM523.8 119.8h0.3l0.9 3.8l-0.9 3.8h-0.3zM525.5 119.8h-0.1l-0.3 3.8l0.3 3.8h0.1zM525.8 119.8h0.1l0.4 3.8l-0.4 3.8h-0.1zM526.6 119.8h0.4l1.3 3.8l-1.3 3.8h-0.4zM530.7 119.8h-0.1l-0.2 3.8l0.2 3.8h0.1zM531.5 119.8h-0.2l-0.5 3.8l0.5 3.8h0.2zM533.3 119.8h0.1l0.3 3.8l-0.3 3.8h-0.1zM534.8 119.8h-0.2l-0.6 3.8l0.6 3.8h0.2zM535.1 119.8h0.3l0.8 3.8l-0.8 3.8h-0.3zM536.3 119.8h0.4l1.2 3.8l-1.2 3.8h-0.4zM538.1 119.8h0.3l0.9 3.8l-0.9 3.8h-0.3zM539.6 119.8h0.2l0.7 3.8l-0.7 3.8h-0.2zM540.7 119.8h0.4l1.1 3.8l-1.1 3.8h-0.4zM543.4 119.8h-0.3l-0.9 3.8l0.9 3.8h0.3zM544.7 119.8h-0.3l-0.9 3.8l0.9 3.8h0.3zM546.3 119.8h-0.2l-0.7 3.8l0.7 3.8h0.2zM547.6 119.8h-0.3l-0.8 3.8l0.8 3.8h0.3zM548.4 119.8h-0.2l-0.6 3.8l0.6 3.8h0.2zM548.6 119.8h0.2l0.5 3.8l-0.5 3.8h-0.2zM551.4 119.8h0.1l0.3 3.8l-0.3 3.8h-0.1zM555.2 119.8h-0.2l-0.7 3.8l0.7 3.8h0.2zM556.3 119.8h-0.2l-0.7 3.8l0.7 3.8h0.2zM556.5 119.8h0.2l0.5 3.8l-0.5 3.8h-0.2zM557.3 119.8h0.2l0.7 3.8l-0.7 3.8h-0.2zM559.9 119.8h-0.4l-1.1 3.8l1.1 3.8h0.4zM560.8 119.8h-0.2l-0.6 3.8l0.6 3.8h0.2zM561 119.8h0.3l0.8 3.8l-0.8 3.8h-0.3zM564 119.8h-0.3l-0.8 3.8l0.8 3.8h0.3zM564.1 119.8h0.2l0.5 3.8l-0.5 3.8h-0.2zM564.8 119.8h0.4l1.2 3.8l-1.2 3.8h-0.4zM568.1 119.8h-0.2l-0.6 3.8l0.6 3.8h0.2zM568.9 119.8h-0.2l-0.6 3.8l0.6 3.8h0.2zM569.9 119.8h-0.2l-0.6 3.8l0.6 3.8h0.2zM570.1 119.8h0.4l1.1 3.8l-1.1 3.8h-0.4zM573.5 119.8h-0.2l-0.5 3.8l0.5 3.8h0.2zM574.2 119.8h-0.1l-0.4 3.8l0.4 3.8h0.1zM574.3 119.8h0.5l1.5 3.8l-1.5 3.8h-0.5zM576.9 119.8h-0.1l-0.4 3.8l0.4 3.8h0.1zM577.1 119.8h0.3l0.8 3.8l-0.8 3.8h-0.3zM579.1 119.8h0.2l0.7 3.8l-0.7 3.8h-0.2zM580.3 119.8h0.2l0.5 3.8l-0.5 3.8h-0.2zM582.7 119.8h0.2l0.7 3.8l-0.7 3.8h-0.2zM585.8 119.8h0.2l0.5 3.8l-0.5 3.8h-0.2zM588.3 119.8h-0.4l-1.2 3.8l1.2 3.8h0.4zM588.4 119.8h0.6l1.7 3.8l-1.7 3.8h-0.6zM592.8 119.8h0.2l0.7 3.8l-0.7 3.8h-0.2z" fill="#bfbfbf"/>
<path d="M287.9 119.8h0.3l0.8 3.8l-0.8 3.8h-0.3zM299.1 119.8h-0.1l-0.4 3.8l0.4 3.8h0.1zM299.3 119.8h0.3l1 3.8l-1 3.8h-0.3zM301.6 119.8h0.3l0.8 3.8l-0.8 3.8h-0.3zM310.9 119.8h-0.1l-0.3 3.8l0.3 3.8h0.1zM311.8 119.8h-0.2l-0.5 3.8l0.5 3.8h0.2zM313.1 119.8h0.4l1.2 3.8l-1.2 3.8h-0.4zM320.4 119.8h0.3l0.9 3.8l-0.9 3.8h-0.3zM322.4 119.8h-0.2l-0.6 3.8l0.6 3.8h0.2zM323.3 119.8h0.4l1.2 3.8l-1.2 3.8h-0.4zM331.2 119.8h0.1l0.3 3.8l-0.3 3.8h-0.1zM332.4 119.8h-0.2l-0.5 3.8l0.5 3.8h0.2zM332.9 119.8h-0.1l-0.3 3.8l0.3 3.8h0.1zM334.1 119.8h0.2l0.5 3.8l-0.5 3.8h-0.2zM335.9 119.8h-0.2l-0.7 3.8l0.7 3.8h0.2zM350.8 119.8h0.1l0.2 3.8l-0.2 3.8h-0.1zM353.5 119.8h-0.2l-0.6 3.8l0.6 3.8h0.2zM360.2 119.8h-0.1l-0.2 3.8l0.2 3.8h0.1zM368.4 119.8h-0.2l-0.5 3.8l0.5 3.8h0.2zM368.9 119.8h-0.1l-0.2 3.8l0.2 3.8h0.1zM377.5 119.8h-0.4l-1.1 3.8l1.1 3.8h0.4zM380.2 119.8h-0.3l-1 3.8l1 3.8h0.3zM382.7 119.8h-0.1l-0.3 3.8l0.3 3.8h0.1zM384.1 119.8h0.3l0.9 3.8l-0.9 3.8h-0.3zM394.3 119.8h-0.3l-0.8 3.8l0.8 3.8h0.3zM406.9 119.8h-0.2l-0.6 3.8l0.6 3.8h0.2zM412 119.8h0.3l0.8 3.8l-0.8 3.8h-0.3zM418.5 119.8h-0.3l-0.9 3.8l0.9 3.8h0.3zM429.7 119.8h-0.4l-1.1 3.8l1.1 3.8h0.4zM440.1 119.8h0.2l0.5 3.8l-0.5 3.8h-0.2zM443.5 119.8h-0.3l-0.8 3.8l0.8 3.8h0.3zM447 119.8h-0.3l-1 3.8l1 3.8h0.3zM463.8 119.8h0.1l0.3 3.8l-0.3 3.8h-0.1zM473 119.8h0.3l0.8 3.8l-0.8 3.8h-0.3zM474.2 119.8h0.1l0.4 3.8l-0.4 3.8h-0.1zM476.9 119.8h-0.1l-0.3 3.8l0.3 3.8h0.1zM479.9 119.8h-0.5l-1.6 3.8l1.6 3.8h0.5zM480.1 119.8h0.2l0.6 3.8l-0.6 3.8h-0.2zM482.6 119.8h-0.2l-0.5 3.8l0.5 3.8h0.2zM483.5 119.8h-0.2l-0.6 3.8l0.6 3.8h0.2zM483.7 119.8h0.1l0.3 3.8l-0.3 3.8h-0.1zM495.8 119.8h0.4l1.3 3.8l-1.3 3.8h-0.4zM501.3 119.8h0.1l0.4 3.8l-0.4 3.8h-0.1zM504 119.8h0.4l1.3 3.8l-1.3 3.8h-0.4zM509.3 119.8h-0.2l-0.7 3.8l0.7 3.8h0.2zM513 119.8h0.2l0.6 3.8l-0.6 3.8h-0.2zM514.5 119.8h-0.2l-0.5 3.8l0.5 3.8h0.2zM523.7 119.8h-0.4l-1.1 3.8l1.1 3.8h0.4zM528.5 119.8h0.4l1.3 3.8l-1.3 3.8h-0.4zM532.2 119.8h-0.1l-0.4 3.8l0.4 3.8h0.1zM532.4 119.8h0.2l0.6 3.8l-0.6 3.8h-0.2zM544.8 119.8h0.1l0.4 3.8l-0.4 3.8h-0.1zM549.4 119.8h0.1l0.4 3.8l-0.4 3.8h-0.1zM550.5 119.8h-0.1l-0.3 3.8l0.3 3.8h0.1zM550.6 119.8h0.1l0.4 3.8l-0.4 3.8h-0.1zM553.5 119.8h-0.4l-1.1 3.8l1.1 3.8h0.4zM554.2 119.8h-0.1l-0.4 3.8l0.4 3.8h0.1zM562.3 119.8h0.1l0.4 3.8l-0.4 3.8h-0.1zM566.6 119.8h0.1l0.4 3.8l-0.4 3.8h-0.1zM572.6 119.8h-0.2l-0.6 3.8l0.6 3.8h0.2zM579 119.8h-0.2l-0.5 3.8l0.5 3.8h0.2zM581.1 119.8h0.2l0.5 3.8l-0.5 3.8h-0.2zM582 119.8h0.1l0.4 3.8l-0.4 3.8h-0.1zM584.5 119.8h-0.2l-0.6 3.8l0.6 3.8h0.2zM584.6 119.8h0.2l0.7 3.8l-0.7 3.8h-0.2zM592.7 119.8h-0.5l-1.4 3.8l1.4 3.8h0.5z" fill="#000"/>
<path d="M294.2 75.8h2M413.1 90.3h7.6M568.7 97.2h11M375.1 113.6h5.7M311.6 118.5h5.7" stroke="#d6604d" stroke-width="1.35" stroke-opacity="0.85"/>
<path d="M309.2 75.9h2M373.1 87.6h12.4M580.6 90.3h2.1M347.9 92.2h5.7M525.3 97.2h5M554.2 102.1h6.6" stroke="#66c2a5" stroke-width="1.35" stroke-opacity="0.85"/>
<path d="M320.5 76.1h8.4M297.6 104.2h12.7M562.2 104.2h8.1M508.9 106.7h9.7" stroke="#7570b3" stroke-width="1.35" stroke-opacity="0.85"/>
<path d="M372.9 75.9h4.5M536.6 80.9h5M452.4 87.6h9M296.7 101.6h7.6M314.9 104.3h5.1M590.6 108.9h2.3M369.3 111.4h5.3M583.7 113.5h8.1" stroke="#ff7f00" stroke-width="1.35" stroke-opacity="0.85"/>
<path d="M382.6 75.8h8.8M369.2 78.4h8.2M446.4 78.4h11M532.5 89.9h13.6M523.8 102.1h5.4M336.5 104h7.3" stroke="#4daf4a" stroke-width="1.35" stroke-opacity="0.85"/>
<path d="M398.8 76.1h6.3M345.1 83.3h3.1M572.6 99.4h7.2M327 111.1h9.3M471.6 111h4.4" stroke="#fb8072" stroke-width="1.35" stroke-opacity="0.85"/>
<path d="M410.5 76.2h7.3M553.3 76.2h6M514.1 97.1h3.9M344.8 113.4h3.2M322.3 118.4h7.2" stroke="#b15928" stroke-width="1.35" stroke-opacity="0.85"/>
<path d="M449.8 75.8h9.4M393.9 85.4h2.6M394.3 90.2h6.6M500 104.4h8.5M333.2 106.6h11.6M350.8 106.3h8.1" stroke="#377eb8" stroke-width="1.35" stroke-opacity="0.85"/>
<path d="M572.6 76h8.1M360.9 102h5M341.3 111.1h5.1M303.5 113.6h7.1" stroke="#66a61e" stroke-width="1.35" stroke-opacity="0.85"/>
<path d="M293.2 78.4h7.8M583.1 94.9h2.1M581.1 101.9h7.6M568.7 111.3h2M522.1 113.6h6.1" stroke="#d53e4f" stroke-width="1.35" stroke-opacity="0.85"/>
<path d="M307.7 78.2h2.3M387.3 78.1h9M327.5 97.1h6.5M396.3 106.5h5.3" stroke="#1f78b4" stroke-width="1.35" stroke-opacity="0.85"/>
<path d="M326.7 78.4h9M386.7 106.7h5.5M575.2 116h12.2" stroke="#c51b7d" stroke-width="1.35" stroke-opacity="0.85"/>
<path d="M346.6 78.2h3.2M372.2 85.6h4.8M356.4 104h9.2" stroke="#35978f" stroke-width="1.35" stroke-opacity="0.85"/>
<path d="M357.5 78.2h3.8M349.7 85.6h4.7M400.7 85.3h5M576.2 85.4h7.2M298.1 108.7h8M296 113.6h6.8M372 118.2h11.7" stroke="#8da0cb" stroke-width="1.35" stroke-opacity="0.85"/>
<path d="M437.4 78.1h7.7M493.6 92.5h7.8M390.9 94.7h5.8M345.5 104.2h4.9M574.7 106.5h9.6M457.1 115.7h6.1" stroke="#a6d854" stroke-width="1.35" stroke-opacity="0.85"/>
<path d="M457.7 78.4h3M401.9 89.9h7.1" stroke="#e78ac3" stroke-width="1.35" stroke-opacity="0.85"/>
<path d="M478.8 78.3h4.8M424.6 95h7.4M280.7 101.9h9.6" stroke="#fc8d62" stroke-width="1.35" stroke-opacity="0.85"/>
<path d="M503.5 78.3h5.7M528.3 78.4h11.2M297.1 118.2h11.3" stroke="#ffd92f" stroke-width="1.35" stroke-opacity="0.85"/>
<path d="M292.6 80.6h6.9M561.1 80.9h11.5M298.3 82.9h7.3M492 85.5h7.9M295.9 87.9h6.8M304.9 97.3h6.8M531.1 101.6h7.7M558.4 106.7h5.4M489.9 118.1h8.4" stroke="#a65628" stroke-width="1.35" stroke-opacity="0.85"/>
<path d="M331.7 80.7h6.3M357.4 80.8h9.3M482.7 87.7h7.4M321.4 108.8h5.4M396.9 111.3h3.6M421.5 111.3h2.2" stroke="#1b9e77" stroke-width="1.35" stroke-opacity="0.85"/>
<path d="M413.4 80.5h8.4M487.1 80.5h6.2M504.2 80.5h8M294.3 85.3h4.9M358.4 85.2h9.8M541.7 87.9h4.9M324.8 94.7h7.4M380.9 96.9h2M323.7 104.1h5.5M500 111.1h6.8M517.2 116.1h6.2" stroke="#bebada" stroke-width="1.35" stroke-opacity="0.85"/>
<path d="M289.7 83h7.6M441.6 109.1h8.9M293.7 115.8h9.4M390.2 116h3.4" stroke="#5aae61" stroke-width="1.35" stroke-opacity="0.85"/>
<path d="M366.3 83.1h7.6M417.8 87.8h7.9M286.3 90.3h11.5M280.7 106.7h7.1M474 106.3h5.9M550.5 118.3h7.4" stroke="#33a02c" stroke-width="1.35" stroke-opacity="0.85"/>
<path d="M378.4 83.1h9M477.3 94.6h6.2M480.2 99.5h6.8M559 111.1h4.1M516.2 113.6h5.3" stroke="#fdb462" stroke-width="1.35" stroke-opacity="0.85"/>
<path d="M513 83.1h8.5M303.6 85.2h7.5M471.5 92.2h10.6M367.1 97.1h12.3M432.2 101.9h6.3" stroke="#8c510a" stroke-width="1.35" stroke-opacity="0.85"/>
<path d="M525.7 83.1h13M395.6 92.2h6.4M297.5 94.7h5.6M561.7 99.3h7.3M305.4 101.7h3.9M366.8 104.1h5.3M431 111.5h3.2" stroke="#b3de69" stroke-width="1.35" stroke-opacity="0.85"/>
<path d="M445.4 85.6h5.3M462.4 92.4h7.3M508.5 92.2h5.1M593.3 94.7h0.5M349.7 118.5h7.5" stroke="#984ea3" stroke-width="1.35" stroke-opacity="0.85"/>
<path d="M480.5 85.3h7.9M465.6 99.5h6.9M412.7 116.2h12.5M445.9 115.9h5.8" stroke="#e6ab02" stroke-width="1.35" stroke-opacity="0.85"/>
<path d="M505.1 85.6h9.2M317.9 89.9h5.2M493.5 94.9h10.4M521.9 106.8h7.3M352 113.4h4.7" stroke="#e5c494" stroke-width="1.35" stroke-opacity="0.85"/>
<path d="M521.1 85.2h5.1M328 108.8h3.3M319.4 113.5h8.3" stroke="#6a3d9a" stroke-width="1.35" stroke-opacity="0.85"/>
<path d="M559.3 85.4h6.8M356.1 115.8h9.8" stroke="#80b1d3" stroke-width="1.35" stroke-opacity="0.85"/>
<path d="M590 85.2h3.8M327 90h5.5M310.8 92.7h2.7M348.6 111.2h7.8" stroke="#bc80bd" stroke-width="1.35" stroke-opacity="0.85"/>
<path d="M304.5 87.9h5.5M581.2 92.6h7.9M587.7 99.4h6.1M511.9 104.4h8.5M289.1 113.6h4.2M393.9 116h3.8M560.3 118.5h6.6" stroke="#e7298a" stroke-width="1.35" stroke-opacity="0.85"/>
<path d="M437.6 87.6h4.3M432.1 92.6h7.4M383.2 96.9h9.8M527.6 99.5h6.7M396.9 104.4h5.3M318 106.6h5.8M571.3 111.4h11.4M400.2 115.7h12.2M493.6 116.1h5.9" stroke="#e41a1c" stroke-width="1.35" stroke-opacity="0.85"/>
<path d="M548.4 87.7h7.5M286.3 92.7h7.3M471.4 104.2h7.9M455.2 106.3h11.4M477.5 108.8h6.5M284.8 111.3h8.3" stroke="#a6cee3" stroke-width="1.35" stroke-opacity="0.85"/>
<path d="M475.1 90.3h7.1M449.1 99.3h11.1M423.3 108.8h5.2M418.8 113.5h11.4" stroke="#cab2d6" stroke-width="1.35" stroke-opacity="0.85"/>
<path d="M584.7 89.9h8.4M296 92.7h6.4M434.6 94.7h6.9M373.6 106.5h7.1M447.1 106.5h7.2M552.7 111.3h2.3" stroke="#b2df8a" stroke-width="1.35" stroke-opacity="0.85"/>
<path d="M444 92.6h5M543.8 99.6h8.9M482 118.5h3.4" stroke="#fdbf6f" stroke-width="1.35" stroke-opacity="0.85"/>
<path d="M516.9 92.4h9.9M299.4 99.4h10.7M411.4 111.4h5.8" stroke="#a6761d" stroke-width="1.35" stroke-opacity="0.85"/>
<path d="M350.6 95h7.6M420.9 97.3h6M324.9 99.6h9.6M314 102h8.5M318.1 111h2M334 113.6h5.8M556.7 116h8.5" stroke="#01665e" stroke-width="1.35" stroke-opacity="0.85"/>
<path d="M405.9 94.6h6.1M351.4 97h8.1M379.2 99.3h7.9M552.2 104h2.6M429.2 109.1h3" stroke="#4393c3" stroke-width="1.35" stroke-opacity="0.85"/>
<path d="M511.9 94.7h8.4M283.6 97.2h7.6M482.9 97.1h8" stroke="#f781bf" stroke-width="1.35" stroke-opacity="0.85"/>
<path d="M560.4 97.3h8M382.2 104.3h9.4M490.1 106.7h3.5M343.1 109.1h9.1M396.4 113.7h6.6M552.9 113.6h6.4" stroke="#d95f02" stroke-width="1.35" stroke-opacity="0.85"/>
<path d="M420 101.8h11.6M535.2 104h6.3M343.4 116h8.9" stroke="#e31a1c" stroke-width="1.35" stroke-opacity="0.85"/>
<path d="M458 101.8h5.7M388.6 111.2h5.2M528.4 115.9h12M569.9 118.5h7.7" stroke="#fb9a99" stroke-width="1.35" stroke-opacity="0.85"/>
<path d="M580.9 108.8h5.9M505.5 113.7h6.5" stroke="#8dd3c7" stroke-width="1.35" stroke-opacity="0.85"/>
<path d="M368.5 118.3h3.2" stroke="#3288bd" stroke-width="1.35" stroke-opacity="0.85"/>
<line x1="264.7" y1="20.4" x2="264.7" y2="128.9" stroke="#000" stroke-width="1.1"/>
<line x1="264.2" y1="128.4" x2="608.6" y2="128.4" stroke="#000" stroke-width="1.1"/>
<line x1="262.4" y1="74.3" x2="264.7" y2="74.3" stroke="#333" stroke-width="0.9"/>
<text x="260.1" y="77" font-size="7.6" text-anchor="end" fill="#4d4d4d">0</text>
<line x1="262.4" y1="49.8" x2="264.7" y2="49.8" stroke="#333" stroke-width="0.9"/>
<text x="260.1" y="52.5" font-size="7.6" text-anchor="end" fill="#4d4d4d">25</text>
<line x1="262.4" y1="25.3" x2="264.7" y2="25.3" stroke="#333" stroke-width="0.9"/>
<text x="260.1" y="28" font-size="7.6" text-anchor="end" fill="#4d4d4d">50</text>
<line x1="280.7" y1="128.4" x2="280.7" y2="130.9" stroke="#222" stroke-width="1.0"/>
<text x="280.7" y="138.7" font-size="7.6" text-anchor="middle" fill="#4d4d4d">0kb</text>
<line x1="360.9" y1="128.4" x2="360.9" y2="130.9" stroke="#222" stroke-width="1.0"/>
<text x="360.9" y="138.7" font-size="7.6" text-anchor="middle" fill="#4d4d4d">100kb</text>
<line x1="441.1" y1="128.4" x2="441.1" y2="130.9" stroke="#222" stroke-width="1.0"/>
<text x="441.1" y="138.7" font-size="7.6" text-anchor="middle" fill="#4d4d4d">200kb</text>
<line x1="521.3" y1="128.4" x2="521.3" y2="130.9" stroke="#222" stroke-width="1.0"/>
<text x="521.3" y="138.7" font-size="7.6" text-anchor="middle" fill="#4d4d4d">300kb</text>
<line x1="601.5" y1="128.4" x2="601.5" y2="130.9" stroke="#222" stroke-width="1.0"/>
<text x="601.5" y="138.7" font-size="7.6" text-anchor="middle" fill="#4d4d4d">400kb</text>
<text x="436.6" y="148.8" font-size="9.6" text-anchor="middle">Scaffold coordinate</text>
<text x="241.9" y="74.4" font-size="9.6" text-anchor="middle" transform="rotate(-90 241.9 74.4)">Coverage</text>
<text x="250.8" y="56.1" font-size="7.8" text-anchor="middle" transform="rotate(-90 250.8 56.1)">Illumina</text>
<text x="253.6" y="99.5" font-size="7.8" text-anchor="middle" transform="rotate(-90 253.6 99.5)">Nanopore</text>
<text x="265.6" y="13.2" font-size="11.1"><tspan font-style="italic">Gemmiger formicilis</tspan> 925_concoct.42</text>
<path transform="matrix(0.25 0 0 -0.25 284 230.3)" d="M0 0L0 13 1 7 2 14 3 20 4 13 5 22 6 12 7 17 8 7 9 10 10 13 11 11 12 11 13 20 14 18 15 13 16 16 17 20 18 9 19 11 20 16 21 15 22 22 23 10 24 6 25 17 26 20 27 20 28 14 29 10 30 5 31 19 32 15 33 11 34 18 35 22 36 14 37 10 38 10 39 8 40 19 41 13 42 22 43 22 44 7 45 16 46 8 47 22 48 19 49 8 50 22 51 16 52 9 53 14 54 13 55 22 56 4 57 14 58 11 59 22 60 12 61 18 62 15 63 13 64 16 65 22 66 13 67 13 68 14 69 10 70 17L70 0ZM72 0L72 0 73 0 74 0L74 0ZM76 0L76 18 77 22 78 18 79 15 80 7 81 13 82 15 83 6 84 12 85 6 86 16 87 8 88 7 89 18 90 10 91 21 92 10 93 13 94 11 95 17 96 14 97 13 98 15 99 13 100 15 101 10 102 8 103 16 104 22 105 13 106 22 107 19 108 6 109 22 110 7 111 14 112 22 113 19 114 10 115 22 116 19 117 14 118 22 119 17 120 19 121 22 122 17 123 22 124 10 125 16 126 18 127 13 128 22 129 22 130 13 131 22 132 20 133 11 134 9 135 15 136 18 137 17 138 22 139 18 140 11 141 22 142 18 143 20 144 7 145 19 146 8 147 15 148 14 149 14 150 15 151 17 152 22 153 11 154 17 155 21 156 14 157 7 158 20 159 18 160 10 161 5 162 14 163 9 164 13 165 22 166 13 167 22 168 13 169 17 170 19 171 11 172 12 173 13 174 11 175 12 176 10 177 13 178 17 179 5 180 7 181 20 182 18 183 12 184 9 185 13 186 8 187 7 188 15 189 18 190 11 191 12 192 16 193 9 194 15 195 7 196 19 197 7 198 14 199 9 200 8 201 14 202 16 203 8 204 19 205 22 206 15 207 7 208 12 209 22 210 20 211 14 212 13 213 9 214 16 215 12 216 7 217 7 218 14 219 19 220 22 221 13 222 15 223 17 224 19 225 11 226 21 227 20 228 19 229 9 230 19 231 17 232 9 233 8 234 22 235 15 236 17 237 11 238 9 239 9 240 13 241 19 242 22 243 10 244 16 245 17 246 6 247 14 248 6 249 14 250 17 251 7 252 9 253 13 254 18 255 17 256 17 257 22 258 18 259 5 260 12 261 16 262 22 263 18 264 13 265 16 266 10 267 8 268 18 269 22 270 9 271 12 272 19 273 22 274 10 275 19 276 18 277 15 278 11 279 22 280 10 281 9 282 16 283 10 284 10 285 10 286 12 287 14 288 11 289 17 290 18 291 10 292 20 293 7 294 13 295 9 296 6 297 11 298 20 299 8 300 7 301 10 302 8 303 22 304 19 305 12 306 22 307 16 308 19 309 18 310 21 311 11 312 20 313 19 314 22 315 16 316 13 317 10 318 11 319 22 320 17 321 14 322 13 323 11 324 22 325 22 326 16 327 18 328 14 329 15 330 18 331 12 332 14 333 21 334 8 335 19 336 22 337 17 338 11 339 7 340 15 341 22 342 14 343 8 344 12 345 9 346 12 347 15 348 11 349 8 350 12 351 8 352 9 353 11 354 4 355 22 356 12 357 18 358 11 359 19 360 12 361 10 362 8 363 7 364 14 365 22 366 12 367 22 368 15 369 22 370 8 371 15 372 8 373 19 374 6 375 10 376 21 377 10 378 13 379 8 380 15 381 17 382 9 383 21 384 11 385 11 386 22 387 20 388 9 389 11 390 12 391 11 392 8 393 10 394 10 395 17 396 14 397 14 398 16 399 22 400 15 401 12 402 11 403 10 404 19 405 22 406 19 407 10 408 11 409 16 410 13 411 13 412 22 413 21 414 22 415 21 416 5 417 12 418 22 419 12 420 9 421 18 422 9 423 17 424 13 425 9 426 12 427 22 428 11 429 21 430 10 431 13 432 4 433 9 434 15 435 13 436 19 437 22 438 14 439 15 440 13 441 18 442 10 443 11 444 22 445 15 446 13 447 15 448 5 449 22 450 9 451 8 452 5 453 11 454 8 455 14 456 5 457 7 458 20 459 15 460 13 461 14 462 13 463 17 464 18 465 14 466 16 467 10 468 8 469 14 470 13 471 16 472 13 473 18 474 13 475 11 476 8 477 22 478 10 479 7 480 14 481 15 482 18 483 22 484 12 485 14 486 8 487 6 488 12 489 22 490 16 491 9 492 10 493 9 494 13 495 12 496 20 497 10 498 22 499 16 500 22 501 8 502 11 503 22 504 9 505 7 506 12 507 14 508 22 509 17 510 10 511 10 512 22 513 10 514 9 515 11 516 6 517 13 518 17 519 12 520 17 521 11 522 8 523 12 524 13 525 21 526 12 527 15 528 6 529 18 530 22 531 14 532 16 533 18 534 11 535 12 536 22 537 12 538 15 539 9 540 15 541 11 542 15 543 8 544 13 545 19 546 19 547 10 548 15 549 14 550 12 551 21 552 9 553 22 554 20 555 17 556 22 557 14 558 22 559 13 560 22 561 22 562 10 563 13 564 17 565 22 566 9 567 17 568 22 569 16 570 11 571 11 572 10 573 18 574 7 575 10 576 19 577 16 578 7 579 12 580 22 581 9 582 22 583 19 584 22 585 22 586 22 587 15 588 22 589 22 590 13 591 13 592 17 593 11 594 22 595 6 596 8 597 16 598 8 599 22 600 14 601 9 602 16 603 10L603 0ZM605 0L605 0 606 0 607 0L607 0ZM609 0L609 17 610 21 611 11 612 12 613 11 614 17 615 15 616 13 617 12 618 13 619 12 620 6 621 10 622 22 623 18 624 21 625 15 626 15 627 14 628 18 629 7 630 14 631 13 632 15 633 12 634 13 635 10 636 11 637 17 638 19 639 12 640 12 641 17 642 9 643 10 644 19 645 18 646 9 647 18 648 14 649 14 650 7 651 11 652 9 653 15 654 16 655 12 656 11 657 18 658 8 659 18 660 22 661 15 662 8 663 10 664 17 665 20 666 9 667 22 668 12 669 12 670 17 671 8 672 13 673 10 674 17 675 13 676 14 677 11 678 20 679 19 680 12 681 21 682 11 683 13 684 22 685 22 686 8 687 20 688 13 689 15 690 22 691 15 692 17 693 12 694 9 695 14 696 14 697 7 698 12 699 10 700 16 701 14 702 10 703 22 704 18 705 14 706 15 707 10 708 13 709 11 710 18 711 9 712 16 713 11 714 13 715 12 716 12 717 12 718 21 719 10 720 22 721 7 722 10 723 21 724 16 725 14 726 14 727 9 728 17 729 21 730 14 731 16 732 22 733 9 734 21 735 14 736 19 737 22 738 22 739 12 740 16 741 14 742 16 743 22 744 12 745 16 746 7 747 21 748 12 749 8 750 22 751 11 752 14 753 18 754 22 755 18 756 9 757 15 758 19 759 15 760 14 761 11 762 13 763 22 764 16 765 11L765 0ZM771 0L771 17 772 10 773 17 774 16 775 16 776 10 777 10 778 22 779 15 780 20 781 11 782 12 783 16 784 21 785 9 786 14 787 10 788 9 789 11 790 22 791 16 792 22 793 12 794 22 795 17 796 10 797 13 798 15 799 22 800 15 801 15 802 22 803 8 804 22 805 13 806 17 807 10 808 14 809 20 810 9 811 22 812 10 813 15 814 22 815 4 816 22 817 16 818 22 819 14 820 12 821 11 822 22 823 11 824 10 825 17 826 14L826 0ZM833 0L833 10 834 20 835 17 836 11 837 22 838 8 839 13 840 10 841 9 842 12 843 19 844 14 845 13 846 22 847 16 848 11 849 22 850 11 851 12 852 22 853 11 854 17 855 6 856 15 857 11 858 22 859 16 860 14 861 10 862 14 863 7 864 22 865 6 866 13 867 12 868 16 869 9 870 18 871 14 872 10 873 20 874 16 875 18 876 11 877 11 878 10 879 22 880 21 881 10 882 22 883 22 884 7 885 18 886 13 887 8 888 22 889 14 890 21 891 22 892 22 893 18 894 11 895 13 896 22 897 12 898 7 899 14 900 16 901 15 902 13 903 20 904 10 905 22 906 10 907 18 908 14 909 18 910 19 911 20 912 14 913 14 914 17 915 18 916 4 917 15 918 12 919 9 920 21 921 12 922 18 923 16 924 20 925 21 926 15 927 9 928 12 929 8 930 10 931 22 932 17 933 7 934 16 935 10 936 6 937 12 938 22 939 22 940 22 941 7 942 11 943 18 944 11 945 14 946 16 947 22 948 11 949 18 950 13 951 19 952 18 953 13 954 12 955 22 956 21 957 9 958 11 959 19 960 15 961 11 962 12 963 8 964 22 965 13 966 22 967 10 968 9 969 8 970 9 971 7 972 13 973 22 974 12 975 9 976 9 977 11 978 15 979 18 980 10 981 19 982 9 983 18 984 9 985 15 986 11 987 9 988 20 989 18 990 22 991 22 992 9 993 15 994 4 995 10 996 22 997 12 998 20 999 10 1000 8 1001 16 1002 18 1003 16 1004 12 1005 21 1006 20 1007 16 1008 14 1009 9 1010 11 1011 22 1012 10 1013 18 1014 9 1015 22 1016 13 1017 17 1018 11 1019 9 1020 14 1021 9 1022 22 1023 13L1023 0ZM1029 0L1029 22 1030 11 1031 9 1032 18 1033 22 1034 11 1035 9 1036 14 1037 13 1038 22 1039 13 1040 13 1041 22 1042 16 1043 9 1044 19 1045 17 1046 11 1047 18 1048 8 1049 9 1050 11 1051 22 1052 19 1053 22 1054 22 1055 17 1056 22 1057 19 1058 13 1059 20 1060 15 1061 12 1062 9 1063 10 1064 14 1065 22 1066 8 1067 9 1068 17 1069 20 1070 17 1071 10 1072 8 1073 13 1074 12 1075 7 1076 22 1077 12 1078 9 1079 22 1080 16 1081 11 1082 12 1083 21 1084 10 1085 22 1086 16 1087 14 1088 15 1089 14 1090 13 1091 8 1092 19 1093 7 1094 12 1095 12 1096 9 1097 17 1098 20 1099 15 1100 9 1101 8 1102 22 1103 8 1104 16 1105 12 1106 22 1107 8 1108 22 1109 12 1110 20 1111 10 1112 6 1113 11 1114 9 1115 20 1116 12 1117 13 1118 19 1119 13 1120 12 1121 14 1122 12 1123 14 1124 20 1125 13 1126 22 1127 17 1128 7 1129 10 1130 20 1131 17 1132 10 1133 22 1134 17 1135 22 1136 15 1137 12 1138 16 1139 13 1140 8 1141 11 1142 7 1143 9 1144 12 1145 7 1146 21 1147 14 1148 12 1149 18 1150 7 1151 8 1152 21 1153 9 1154 22 1155 12 1156 10 1157 21 1158 12 1159 10 1160 11 1161 19 1162 11 1163 10 1164 22 1165 15 1166 59 1167 59 1168 59 1169 59 1170 22 1171 20 1172 20 1173 22 1174 14 1175 14 1176 22 1177 7 1178 12 1179 15 1180 13 1181 8 1182 7 1183 7 1184 13 1185 9 1186 22 1187 10 1188 11 1189 16 1190 9 1191 14 1192 13 1193 5 1194 13 1195 10 1196 8 1197 10 1198 20 1199 14 1200 22 1201 11 1202 22 1203 12 1204 22 1205 9 1206 12 1207 18 1208 9 1209 11 1210 9 1211 22 1212 13 1213 12 1214 14 1215 17 1216 10 1217 18 1218 15 1219 22 1220 22 1221 11 1222 18 1223 19 1224 12 1225 16 1226 22 1227 12 1228 18 1229 11 1230 13 1231 17 1232 22 1233 12 1234 9 1235 19 1236 11 1237 22 1238 13L1238 0Z" fill="#ff1493" fill-opacity="0.5"/>
<path transform="matrix(0.25 0 0 -0.25 284 230.3)" d="M0 0L0 64 1 92 2 108 3 89 4 78 5 66 6 101 7 105 8 127 9 101 10 77 11 127 12 109 13 76 14 96 15 84 16 77 17 115 18 98 19 90 20 67 21 100 22 122 23 92 24 77 25 72 26 82 27 78 28 58 29 110 30 67 31 96 32 64 33 109 34 99 35 116 36 72 37 111 38 89 39 101 40 49 41 91 42 77 43 95 44 101 45 85 46 85 47 87 48 136 49 97 50 93 51 56 52 66 53 81 54 131 55 72 56 95 57 74 58 75 59 61 60 83 61 117 62 100 63 72 64 111 65 82 66 123 67 79 68 120 69 70 70 70L70 0ZM72 0L72 0 73 0 74 0L74 0ZM76 0L76 161 77 131 78 76 79 65 80 87 81 84 82 110 83 70 84 87 85 88 86 77 87 81 88 127 89 83 90 129 91 145 92 87 93 108 94 126 95 92 96 150 97 101 98 117 99 67 100 94 101 67 102 72 103 121 104 68 105 95 106 75 107 123 108 89 109 92 110 77 111 90 112 105 113 93 114 100 115 123 116 83 117 109 118 83 119 110 120 72 121 82 122 83 123 79 124 108 125 98 126 109 127 138 128 107 129 74 130 123 131 122 132 68 133 137 134 96 135 89 136 77 137 78 138 139 139 83 140 72 141 74 142 67 143 68 144 99 145 65 146 89 147 60 148 94 149 84 150 75 151 93 152 61 153 99 154 121 155 119 156 114 157 131 158 104 159 115 160 82 161 72 162 104 163 119 164 107 165 96 166 55 167 119 168 99 169 64 170 95 171 82 172 110 173 79 174 93 175 82 176 103 177 111 178 111 179 91 180 115 181 83 182 82 183 75 184 82 185 111 186 91 187 101 188 111 189 80 190 106 191 78 192 121 193 87 194 85 195 92 196 137 197 103 198 113 199 93 200 106 201 74 202 80 203 113 204 85 205 85 206 64 207 89 208 71 209 88 210 101 211 97 212 75 213 118 214 130 215 91 216 116 217 106 218 105 219 103 220 77 221 104 222 88 223 143 224 71 225 111 226 146 227 97 228 79 229 118 230 113 231 110 232 91 233 81 234 111 235 71 236 90 237 72 238 86 239 97 240 91 241 58 242 59 243 105 244 66 245 77 246 63 247 92 248 103 249 106 250 92 251 123 252 89 253 139 254 59 255 86 256 81 257 95 258 63 259 95 260 97 261 89 262 102 263 83 264 122 265 152 266 91 267 77 268 152 269 127 270 83 271 142 272 140 273 66 274 113 275 99 276 76 277 153 278 114 279 82 280 97 281 118 282 110 283 69 284 93 285 81 286 52 287 86 288 89 289 104 290 108 291 83 292 84 293 76 294 94 295 154 296 86 297 114 298 119 299 86 300 90 301 61 302 101 303 128 304 86 305 139 306 155 307 108 308 111 309 108 310 85 311 90 312 155 313 92 314 100 315 104 316 121 317 198 318 117 319 93 320 112 321 113 322 77 323 87 324 177 325 110 326 95 327 111 328 87 329 91 330 87 331 116 332 83 333 155 334 84 335 93 336 137 337 122 338 94 339 133 340 86 341 75 342 121 343 144 344 127 345 86 346 70 347 89 348 138 349 90 350 121 351 104 352 110 353 78 354 62 355 92 356 119 357 98 358 107 359 87 360 54 361 101 362 110 363 97 364 88 365 113 366 108 367 107 368 104 369 88 370 101 371 88 372 106 373 106 374 105 375 96 376 69 377 112 378 122 379 104 380 95 381 108 382 99 383 105 384 75 385 119 386 79 387 81 388 81 389 84 390 135 391 70 392 93 393 112 394 130 395 117 396 84 397 80 398 111 399 68 400 156 401 209 402 73 403 140 404 86 405 78 406 88 407 104 408 73 409 115 410 78 411 112 412 149 413 112 414 141 415 102 416 77 417 105 418 92 419 90 420 124 421 96 422 151 423 65 424 104 425 77 426 77 427 67 428 108 429 68 430 123 431 107 432 98 433 136 434 164 435 68 436 92 437 140 438 85 439 118 440 103 441 69 442 100 443 122 444 112 445 67 446 67 447 98 448 74 449 99 450 88 451 102 452 75 453 64 454 107 455 86 456 99 457 79 458 123 459 83 460 76 461 91 462 66 463 109 464 105 465 63 466 91 467 59 468 111 469 73 470 60 471 87 472 106 473 96 474 97 475 99 476 125 477 118 478 90 479 82 480 82 481 69 482 115 483 88 484 74 485 65 486 104 487 80 488 112 489 71 490 74 491 104 492 119 493 80 494 89 495 83 496 100 497 87 498 99 499 120 500 74 501 104 502 99 503 55 504 117 505 102 506 76 507 81 508 83 509 78 510 72 511 72 512 103 513 73 514 93 515 93 516 108 517 138 518 76 519 105 520 72 521 121 522 120 523 90 524 97 525 102 526 94 527 122 528 78 529 123 530 70 531 108 532 84 533 74 534 84 535 82 536 126 537 104 538 77 539 66 540 90 541 64 542 89 543 64 544 130 545 113 546 85 547 109 548 94 549 123 550 106 551 107 552 113 553 186 554 154 555 73 556 83 557 82 558 96 559 74 560 73 561 86 562 94 563 64 564 99 565 92 566 76 567 97 568 97 569 76 570 137 571 92 572 136 573 97 574 110 575 91 576 115 577 107 578 94 579 103 580 94 581 123 582 99 583 157 584 123 585 68 586 116 587 125 588 90 589 110 590 109 591 93 592 138 593 102 594 128 595 153 596 117 597 74 598 92 599 100 600 94 601 108 602 124 603 107L603 0ZM605 0L605 0 606 0 607 0L607 0ZM609 0L609 99 610 81 611 106 612 71 613 107 614 124 615 102 616 120 617 98 618 117 619 125 620 67 621 105 622 95 623 112 624 117 625 135 626 91 627 138 628 117 629 75 630 81 631 145 632 101 633 85 634 75 635 78 636 107 637 116 638 122 639 129 640 115 641 130 642 86 643 118 644 91 645 132 646 89 647 116 648 87 649 108 650 127 651 73 652 79 653 94 654 110 655 85 656 92 657 157 658 105 659 152 660 82 661 101 662 82 663 76 664 99 665 143 666 76 667 128 668 106 669 85 670 79 671 105 672 121 673 158 674 108 675 100 676 103 677 79 678 143 679 97 680 70 681 112 682 77 683 136 684 91 685 76 686 83 687 135 688 133 689 112 690 112 691 88 692 111 693 109 694 97 695 85 696 68 697 91 698 146 699 105 700 103 701 130 702 69 703 132 704 100 705 97 706 124 707 84 708 85 709 91 710 93 711 139 712 91 713 117 714 131 715 93 716 133 717 76 718 102 719 96 720 84 721 67 722 99 723 118 724 71 725 133 726 88 727 83 728 126 729 91 730 88 731 73 732 62 733 77 734 113 735 119 736 105 737 98 738 111 739 59 740 68 741 106 742 87 743 115 744 113 745 71 746 96 747 47 748 70 749 103 750 67 751 98 752 74 753 90 754 98 755 86 756 125 757 98 758 97 759 82 760 90 761 85 762 85 763 79 764 60 765 47L765 0ZM771 0L771 74 772 80 773 85 774 63 775 76 776 116 777 80 778 94 779 75 780 49 781 71 782 47 783 84 784 99 785 76 786 66 787 80 788 65 789 72 790 65 791 85 792 100 793 121 794 64 795 82 796 76 797 81 798 73 799 66 800 66 801 66 802 80 803 102 804 94 805 76 806 85 807 53 808 95 809 106 810 85 811 110 812 101 813 84 814 74 815 82 816 100 817 87 818 52 819 91 820 67 821 83 822 111 823 82 824 52 825 73 826 85L826 0ZM833 0L833 108 834 101 835 66 836 71 837 120 838 87 839 84 840 76 841 105 842 101 843 92 844 100 845 53 846 91 847 106 848 127 849 115 850 83 851 111 852 74 853 87 854 92 855 70 856 131 857 85 858 38 859 98 860 84 861 74 862 123 863 79 864 53 865 80 866 91 867 80 868 101 869 92 870 98 871 82 872 118 873 103 874 117 875 58 876 63 877 102 878 64 879 89 880 75 881 65 882 77 883 132 884 60 885 90 886 80 887 71 888 64 889 90 890 69 891 63 892 85 893 100 894 77 895 97 896 57 897 74 898 78 899 71 900 98 901 74 902 63 903 82 904 55 905 71 906 95 907 64 908 81 909 61 910 58 911 43 912 63 913 89 914 68 915 85 916 51 917 53 918 52 919 70 920 53 921 58 922 60 923 57 924 75 925 70 926 83 927 58 928 48 929 39 930 61 931 38 932 58 933 54 934 57 935 64 936 70 937 71 938 64 939 76 940 52 941 47 942 51 943 75 944 69 945 67 946 60 947 56 948 69 949 69 950 44 951 89 952 49 953 69 954 65 955 82 956 79 957 69 958 83 959 72 960 63 961 72 962 93 963 83 964 63 965 70 966 88 967 57 968 70 969 68 970 85 971 99 972 90 973 69 974 54 975 85 976 103 977 97 978 52 979 57 980 60 981 83 982 91 983 106 984 78 985 71 986 106 987 67 988 73 989 97 990 93 991 93 992 116 993 106 994 71 995 80 996 101 997 83 998 79 999 80 1000 86 1001 96 1002 77 1003 70 1004 140 1005 67 1006 72 1007 96 1008 122 1009 67 1010 73 1011 92 1012 76 1013 82 1014 106 1015 83 1016 106 1017 98 1018 114 1019 106 1020 99 1021 78 1022 78 1023 124L1023 0ZM1029 0L1029 136 1030 72 1031 75 1032 97 1033 83 1034 78 1035 69 1036 109 1037 107 1038 118 1039 114 1040 106 1041 77 1042 124 1043 74 1044 85 1045 100 1046 138 1047 96 1048 130 1049 123 1050 69 1051 108 1052 95 1053 109 1054 86 1055 87 1056 79 1057 104 1058 84 1059 102 1060 117 1061 125 1062 81 1063 144 1064 91 1065 112 1066 86 1067 92 1068 111 1069 69 1070 80 1071 75 1072 82 1073 141 1074 80 1075 122 1076 87 1077 89 1078 96 1079 90 1080 99 1081 104 1082 118 1083 108 1084 121 1085 102 1086 157 1087 79 1088 78 1089 147 1090 105 1091 81 1092 124 1093 138 1094 90 1095 104 1096 80 1097 141 1098 98 1099 84 1100 101 1101 114 1102 156 1103 93 1104 121 1105 92 1106 118 1107 90 1108 98 1109 60 1110 107 1111 86 1112 107 1113 103 1114 74 1115 114 1116 109 1117 141 1118 96 1119 99 1120 105 1121 96 1122 69 1123 121 1124 128 1125 69 1126 119 1127 86 1128 117 1129 125 1130 109 1131 116 1132 83 1133 97 1134 84 1135 104 1136 65 1137 91 1138 113 1139 93 1140 123 1141 91 1142 121 1143 103 1144 90 1145 107 1146 59 1147 83 1148 73 1149 55 1150 63 1151 86 1152 120 1153 85 1154 99 1155 82 1156 94 1157 102 1158 83 1159 53 1160 77 1161 76 1162 92 1163 81 1164 67 1165 97 1166 214 1167 214 1168 214 1169 214 1170 76 1171 106 1172 63 1173 73 1174 99 1175 107 1176 107 1177 72 1178 145 1179 70 1180 127 1181 87 1182 139 1183 75 1184 75 1185 83 1186 82 1187 68 1188 94 1189 64 1190 104 1191 86 1192 122 1193 81 1194 72 1195 91 1196 70 1197 71 1198 88 1199 70 1200 113 1201 69 1202 103 1203 115 1204 89 1205 128 1206 99 1207 89 1208 89 1209 64 1210 81 1211 94 1212 93 1213 105 1214 93 1215 81 1216 79 1217 96 1218 75 1219 99 1220 106 1221 126 1222 86 1223 74 1224 120 1225 88 1226 81 1227 72 1228 85 1229 59 1230 114 1231 111 1232 70 1233 80 1234 115 1235 79 1236 129 1237 85 1238 111L1238 0Z" fill="#00bfff" fill-opacity="0.5"/>
<path transform="matrix(0.25 0 0 -0.25 284 230.3)" d="M0 0L0 16 1 10 2 11 3 12 4 17 5 10 6 10 7 10 8 18 9 12 10 13 11 15 12 10 13 11 14 7 15 9 16 12 17 10 18 12 19 7 20 11 21 16 22 9 23 11 24 10 25 11 26 10 27 12 28 16 29 5 30 13 31 18 32 19 33 11 34 16 35 14 36 12 37 17 38 8 39 8 40 8 41 12 42 14 43 19 44 19 45 7 46 9 47 18 48 19 49 18 50 10 51 5 52 8 53 18 54 14 55 11 56 6 57 11 58 16 59 13 60 5 61 12 62 14 63 9 64 10 65 9 66 12 67 17 68 11 69 8 70 9L70 0ZM72 0L72 208 73 208 74 208L74 0ZM76 0L76 9 77 6 78 16 79 12 80 11 81 11 82 10 83 18 84 7 85 13 86 13 87 19 88 11 89 12 90 7 91 10 92 8 93 17 94 14 95 16 96 6 97 17 98 15 99 6 100 12 101 8 102 8 103 11 104 16 105 10 106 18 107 19 108 14 109 9 110 9 111 8 112 19 113 14 114 10 115 11 116 188 117 188 118 188 119 188 120 9 121 10 122 19 123 7 124 17 125 19 126 12 127 8 128 16 129 9 130 19 131 12 132 10 133 18 134 7 135 9 136 7 137 8 138 13 139 19 140 8 141 11 142 13 143 13 144 15 145 5 146 9 147 13 148 7 149 16 150 8 151 19 152 19 153 178 154 178 155 178 156 7 157 11 158 9 159 12 160 19 161 12 162 8 163 13 164 11 165 13 166 16 167 13 168 5 169 12 170 12 171 5 172 19 173 7 174 7 175 19 176 15 177 15 178 11 179 14 180 10 181 19 182 11 183 11 184 10 185 13 186 11 187 14 188 7 189 12 190 19 191 5 192 12 193 12 194 14 195 12 196 15 197 12 198 15 199 18 200 14 201 14 202 15 203 13 204 15 205 5 206 9 207 7 208 15 209 19 210 19 211 11 212 19 213 5 214 19 215 11 216 19 217 13 218 15 219 12 220 11 221 19 222 10 223 8 224 19 225 9 226 12 227 8 228 17 229 10 230 11 231 13 232 19 233 7 234 8 235 14 236 11 237 11 238 10 239 7 240 14 241 14 242 19 243 19 244 19 245 19 246 17 247 19 248 19 249 14 250 17 251 12 252 7 253 10 254 10 255 11 256 10 257 11 258 17 259 8 260 15 261 16 262 10 263 17 264 17 265 14 266 6 267 9 268 9 269 5 270 17 271 16 272 7 273 10 274 10 275 10 276 7 277 8 278 10 279 13 280 14 281 11 282 19 283 19 284 9 285 17 286 12 287 19 288 9 289 10 290 19 291 16 292 9 293 19 294 15 295 19 296 12 297 8 298 8 299 19 300 8 301 15 302 11 303 11 304 11 305 16 306 19 307 9 308 19 309 17 310 6 311 9 312 12 313 9 314 19 315 13 316 19 317 14 318 16 319 19 320 12 321 7 322 11 323 5 324 8 325 7 326 11 327 13 328 19 329 7 330 10 331 7 332 10 333 14 334 9 335 7 336 12 337 14 338 9 339 13 340 11 341 11 342 11 343 9 344 19 345 19 346 13 347 17 348 16 349 6 350 14 351 16 352 8 353 12 354 6 355 10 356 14 357 13 358 8 359 7 360 8 361 12 362 16 363 19 364 15 365 16 366 18 367 19 368 7 369 7 370 10 371 14 372 15 373 19 374 11 375 16 376 19 377 11 378 17 379 10 380 7 381 6 382 16 383 18 384 10 385 7 386 10 387 12 388 9 389 16 390 14 391 14 392 13 393 8 394 17 395 9 396 13 397 10 398 12 399 10 400 19 401 14 402 9 403 13 404 10 405 19 406 6 407 16 408 9 409 18 410 13 411 19 412 14 413 10 414 10 415 19 416 19 417 10 418 8 419 18 420 7 421 8 422 10 423 6 424 19 425 19 426 11 427 19 428 19 429 17 430 12 431 16 432 9 433 15 434 14 435 16 436 14 437 12 438 12 439 12 440 10 441 6 442 19 443 19 444 12 445 7 446 14 447 18 448 19 449 10 450 17 451 9 452 13 453 7 454 15 455 7 456 10 457 5 458 8 459 19 460 19 461 6 462 19 463 8 464 11 465 14 466 9 467 8 468 10 469 10 470 16 471 9 472 19 473 14 474 10 475 11 476 12 477 15 478 13 479 11 480 19 481 8 482 9 483 9 484 19 485 15 486 12 487 8 488 9 489 9 490 8 491 6 492 8 493 19 494 18 495 9 496 19 497 19 498 12 499 10 500 10 501 14 502 10 503 19 504 10 505 15 506 13 507 16 508 9 509 19 510 5 511 9 512 10 513 18 514 19 515 8 516 10 517 14 518 12 519 8 520 13 521 19 522 8 523 13 524 18 525 8 526 13 527 18 528 9 529 7 530 10 531 9 532 19 533 12 534 11 535 19 536 10 537 19 538 19 539 10 540 6 541 19 542 7 543 18 544 4 545 13 546 15 547 7 548 9 549 11 550 19 551 10 552 10 553 13 554 8 555 9 556 4 557 19 558 19 559 5 560 9 561 12 562 9 563 8 564 8 565 10 566 10 567 5 568 13 569 11 570 11 571 11 572 9 573 9 574 17 575 14 576 14 577 19 578 7 579 14 580 10 581 18 582 14 583 11 584 10 585 8 586 19 587 11 588 9 589 12 590 9 591 8 592 8 593 8 594 13 595 10 596 19 597 11 598 11 599 19 600 15 601 9 602 13 603 18L603 0ZM605 0L605 208 606 208 607 208L607 0ZM609 0L609 19 610 12 611 17 612 19 613 11 614 16 615 14 616 12 617 6 618 19 619 11 620 10 621 11 622 14 623 13 624 12 625 19 626 12 627 19 628 11 629 7 630 13 631 13 632 15 633 9 634 16 635 10 636 8 637 11 638 15 639 10 640 12 641 14 642 13 643 11 644 6 645 10 646 18 647 13 648 10 649 12 650 6 651 8 652 18 653 9 654 12 655 8 656 19 657 11 658 19 659 11 660 12 661 14 662 10 663 17 664 11 665 15 666 16 667 10 668 10 669 6 670 7 671 7 672 8 673 17 674 9 675 14 676 12 677 11 678 8 679 15 680 19 681 9 682 10 683 13 684 19 685 9 686 17 687 19 688 7 689 14 690 19 691 8 692 7 693 10 694 19 695 13 696 18 697 9 698 17 699 11 700 19 701 12 702 14 703 17 704 10 705 7 706 8 707 12 708 9 709 18 710 17 711 12 712 8 713 8 714 14 715 10 716 12 717 9 718 10 719 8 720 13 721 12 722 19 723 10 724 19 725 7 726 13 727 13 728 14 729 19 730 11 731 19 732 9 733 4 734 13 735 8 736 10 737 10 738 15 739 6 740 17 741 19 742 10 743 12 744 12 745 13 746 13 747 19 748 12 749 13 750 19 751 19 752 12 753 10 754 7 755 19 756 19 757 5 758 11 759 10 760 12 761 10 762 6 763 19 764 8 765 19L765 0ZM771 0L771 12 772 19 773 71 774 48 775 98 776 111 777 83 778 88 779 31 780 51 781 111 782 111 783 71 784 111 785 111 786 59 787 75 788 93 789 34 790 95 791 55 792 111 793 72 794 45 795 50 796 68 797 63 798 198 799 198 800 198 801 38 802 28 803 64 804 55 805 63 806 82 807 59 808 65 809 82 810 44 811 91 812 58 813 57 814 42 815 49 816 74 817 100 818 111 819 111 820 49 821 71 822 39 823 43 824 15 825 9 826 8L826 0ZM833 0L833 17 834 18 835 17 836 10 837 16 838 8 839 10 840 10 841 10 842 6 843 15 844 12 845 8 846 17 847 6 848 19 849 11 850 14 851 11 852 11 853 13 854 14 855 15 856 7 857 11 858 17 859 11 860 11 861 17 862 19 863 18 864 9 865 13 866 19 867 10 868 6 869 9 870 5 871 14 872 15 873 9 874 13 875 8 876 15 877 10 878 11 879 4 880 10 881 12 882 13 883 12 884 12 885 4 886 15 887 9 888 7 889 9 890 15 891 14 892 18 893 10 894 19 895 6 896 9 897 13 898 9 899 7 900 16 901 12 902 15 903 19 904 7 905 13 906 9 907 19 908 12 909 6 910 19 911 19 912 16 913 15 914 16 915 7 916 19 917 7 918 9 919 14 920 18 921 9 922 13 923 12 924 15 925 6 926 19 927 10 928 13 929 15 930 4 931 13 932 19 933 15 934 18 935 8 936 17 937 6 938 10 939 8 940 13 941 9 942 9 943 8 944 16 945 12 946 4 947 9 948 15 949 19 950 14 951 7 952 11 953 10 954 7 955 19 956 8 957 7 958 11 959 9 960 5 961 12 962 19 963 13 964 8 965 6 966 13 967 10 968 9 969 13 970 13 971 12 972 17 973 19 974 19 975 12 976 14 977 11 978 10 979 19 980 8 981 12 982 14 983 11 984 14 985 19 986 19 987 17 988 7 989 12 990 11 991 7 992 9 993 15 994 19 995 5 996 15 997 11 998 19 999 18 1000 17 1001 10 1002 19 1003 19 1004 19 1005 19 1006 14 1007 12 1008 9 1009 9 1010 13 1011 19 1012 16 1013 8 1014 7 1015 14 1016 17 1017 12 1018 9 1019 3 1020 9 1021 11 1022 13 1023 15L1023 0ZM1029 0L1029 8 1030 13 1031 11 1032 10 1033 5 1034 9 1035 15 1036 6 1037 18 1038 14 1039 19 1040 13 1041 19 1042 19 1043 13 1044 17 1045 15 1046 8 1047 6 1048 6 1049 12 1050 13 1051 9 1052 10 1053 15 1054 12 1055 4 1056 16 1057 6 1058 19 1059 10 1060 13 1061 19 1062 12 1063 10 1064 8 1065 19 1066 6 1067 8 1068 5 1069 11 1070 7 1071 5 1072 18 1073 15 1074 18 1075 18 1076 8 1077 7 1078 10 1079 6 1080 9 1081 10 1082 5 1083 10 1084 5 1085 14 1086 13 1087 15 1088 9 1089 19 1090 15 1091 19 1092 13 1093 6 1094 16 1095 14 1096 8 1097 9 1098 19 1099 7 1100 19 1101 10 1102 8 1103 9 1104 13 1105 16 1106 8 1107 19 1108 7 1109 19 1110 14 1111 16 1112 12 1113 17 1114 19 1115 19 1116 6 1117 7 1118 7 1119 6 1120 8 1121 14 1122 10 1123 15 1124 12 1125 12 1126 12 1127 19 1128 18 1129 19 1130 9 1131 9 1132 11 1133 15 1134 7 1135 8 1136 17 1137 19 1138 13 1139 12 1140 15 1141 10 1142 11 1143 12 1144 8 1145 5 1146 14 1147 12 1148 15 1149 9 1150 8 1151 12 1152 10 1153 4 1154 14 1155 19 1156 8 1157 8 1158 19 1159 18 1160 9 1161 11 1162 13 1163 16 1164 6 1165 19 1166 210 1167 210 1168 210 1169 210 1170 10 1171 19 1172 13 1173 12 1174 15 1175 14 1176 17 1177 10 1178 15 1179 19 1180 15 1181 13 1182 18 1183 18 1184 10 1185 13 1186 8 1187 7 1188 15 1189 11 1190 11 1191 19 1192 13 1193 16 1194 15 1195 5 1196 7 1197 12 1198 10 1199 6 1200 19 1201 15 1202 9 1203 19 1204 16 1205 19 1206 13 1207 6 1208 7 1209 15 1210 14 1211 11 1212 19 1213 17 1214 11 1215 7 1216 9 1217 9 1218 17 1219 18 1220 6 1221 16 1222 4 1223 19 1224 10 1225 11 1226 10 1227 7 1228 12 1229 5 1230 6 1231 7 1232 11 1233 19 1234 12 1235 12 1236 7 1237 13 1238 13L1238 0Z" fill="#bebebe" fill-opacity="0.5"/>
<path d="M284.8 275.8h-0.2l-0.6 3.8l0.6 3.8h0.2zM285.2 275.8h-0.1l-0.2 3.8l0.2 3.8h0.1zM285.2 275.8h0.4l1.3 3.8l-1.3 3.8h-0.4zM287.1 275.8h0.1l0.4 3.8l-0.4 3.8h-0.1zM288 275.8h-0.1l-0.3 3.8l0.3 3.8h0.1zM288.1 275.8h0.1l0.2 3.8l-0.2 3.8h-0.1zM289 275.8h-0.1l-0.3 3.8l0.3 3.8h0.1zM289.1 275.8h0.2l0.5 3.8l-0.5 3.8h-0.2zM289.8 275.8h0.1l0.4 3.8l-0.4 3.8h-0.1zM291 275.8h-0.2l-0.5 3.8l0.5 3.8h0.2zM292.6 275.8h-0.4l-1.2 3.8l1.2 3.8h0.4zM293.6 275.8h-0.1l-0.4 3.8l0.4 3.8h0.1zM294.4 275.8h-0.1l-0.2 3.8l0.2 3.8h0.1zM294.4 275.8h0.2l0.6 3.8l-0.6 3.8h-0.2zM295.2 275.8h0.1l0.3 3.8l-0.3 3.8h-0.1zM296.1 275.8h-0.1l-0.3 3.8l0.3 3.8h0.1zM296.2 275.8h0.1l0.3 3.8l-0.3 3.8h-0.1zM296.6 275.8h0.1l0.2 3.8l-0.2 3.8h-0.1zM297.3 275.8h-0.1l-0.2 3.8l0.2 3.8h0.1zM297.7 275.8h-0.1l-0.2 3.8l0.2 3.8h0.1zM297.7 275.8h0.2l0.6 3.8l-0.6 3.8h-0.2zM299 275.8h-0.1l-0.3 3.8l0.3 3.8h0.1zM299.2 275.8h0.2l0.6 3.8l-0.6 3.8h-0.2zM300.8 275.8h-0.2l-0.6 3.8l0.6 3.8h0.2zM303.3 275.8h-0.1l-0.3 3.8l0.3 3.8h0.1zM303.4 275.8h0.1l0.4 3.8l-0.4 3.8h-0.1zM304.4 275.8h-0.1l-0.3 3.8l0.3 3.8h0.1zM304.9 275.8h-0.1l-0.3 3.8l0.3 3.8h0.1zM306 275.8h-0.2l-0.7 3.8l0.7 3.8h0.2zM306.1 275.8h0.2l0.6 3.8l-0.6 3.8h-0.2zM307.6 275.8h-0.1l-0.4 3.8l0.4 3.8h0.1zM307.6 275.8h0.1l0.2 3.8l-0.2 3.8h-0.1zM308.5 275.8h-0.1l-0.3 3.8l0.3 3.8h0.1zM308.5 275.8h0.1l0.2 3.8l-0.2 3.8h-0.1zM308.9 275.8h0.1l0.2 3.8l-0.2 3.8h-0.1zM312 275.8h-0.2l-0.5 3.8l0.5 3.8h0.2zM312.4 275.8h0.1l0.4 3.8l-0.4 3.8h-0.1zM313.3 275.8h-0.1l-0.2 3.8l0.2 3.8h0.1zM313.8 275.8h-0.1l-0.3 3.8l0.3 3.8h0.1zM315.8 275.8h-0.2l-0.5 3.8l0.5 3.8h0.2zM315.9 275.8h0.1l0.2 3.8l-0.2 3.8h-0.1zM316.5 275.8h-0.1l-0.2 3.8l0.2 3.8h0.1zM317.8 275.8h-0.3l-0.9 3.8l0.9 3.8h0.3zM318.5 275.8h-0.1l-0.4 3.8l0.4 3.8h0.1zM319 275.8h-0.1l-0.4 3.8l0.4 3.8h0.1zM319.1 275.8h0.2l0.5 3.8l-0.5 3.8h-0.2zM319.9 275.8h0.1l0.3 3.8l-0.3 3.8h-0.1zM320.5 275.8h0.1l0.3 3.8l-0.3 3.8h-0.1zM321.5 275.8h-0.1l-0.4 3.8l0.4 3.8h0.1zM323 275.8h-0.3l-1 3.8l1 3.8h0.3zM323.1 275.8h0.1l0.2 3.8l-0.2 3.8h-0.1zM323.8 275.8h0.1l0.4 3.8l-0.4 3.8h-0.1zM324.4 275.8h0.1l0.2 3.8l-0.2 3.8h-0.1zM324.8 275.8h0.1l0.3 3.8l-0.3 3.8h-0.1zM325.8 275.8h-0.1l-0.4 3.8l0.4 3.8h0.1zM326.2 275.8h-0.1l-0.2 3.8l0.2 3.8h0.1zM327.3 275.8h-0.3l-0.8 3.8l0.8 3.8h0.3zM328.1 275.8h-0.2l-0.6 3.8l0.6 3.8h0.2zM330 275.8h-0.2l-0.6 3.8l0.6 3.8h0.2zM330.1 275.8h0.2l0.7 3.8l-0.7 3.8h-0.2zM332.4 275.8h-0.1l-0.2 3.8l0.2 3.8h0.1zM332.5 275.8h0.2l0.5 3.8l-0.5 3.8h-0.2zM333.3 275.8h0.1l0.2 3.8l-0.2 3.8h-0.1zM334 275.8h-0.1l-0.3 3.8l0.3 3.8h0.1zM334.1 275.8h0.2l0.6 3.8l-0.6 3.8h-0.2zM335.2 275.8h-0.1l-0.2 3.8l0.2 3.8h0.1zM335.3 275.8h0.2l0.5 3.8l-0.5 3.8h-0.2zM336.7 275.8h-0.1l-0.4 3.8l0.4 3.8h0.1zM336.8 275.8h0.2l0.6 3.8l-0.6 3.8h-0.2zM339.5 275.8h-0.5l-1.4 3.8l1.4 3.8h0.5zM341.5 275.8h-0.2l-0.5 3.8l0.5 3.8h0.2zM341.5 275.8h0.1l0.4 3.8l-0.4 3.8h-0.1zM342.1 275.8h0.1l0.4 3.8l-0.4 3.8h-0.1zM342.9 275.8h-0.1l-0.2 3.8l0.2 3.8h0.1zM343 275.8h0.1l0.4 3.8l-0.4 3.8h-0.1zM344 275.8h-0.1l-0.3 3.8l0.3 3.8h0.1zM344.5 275.8h0.1l0.4 3.8l-0.4 3.8h-0.1zM345.3 275.8h0.1l0.3 3.8l-0.3 3.8h-0.1zM347 275.8h0.2l0.7 3.8l-0.7 3.8h-0.2zM347.9 275.8h0.1l0.4 3.8l-0.4 3.8h-0.1zM348.8 275.8h-0.1l-0.2 3.8l0.2 3.8h0.1zM349.3 275.8h-0.1l-0.3 3.8l0.3 3.8h0.1zM349.9 275.8h-0.1l-0.4 3.8l0.4 3.8h0.1zM350.3 275.8h-0.1l-0.2 3.8l0.2 3.8h0.1zM352.1 275.8h-0.1l-0.2 3.8l0.2 3.8h0.1zM352.4 275.8h-0.1l-0.2 3.8l0.2 3.8h0.1zM352.5 275.8h0.2l0.5 3.8l-0.5 3.8h-0.2zM353.3 275.8h0.1l0.4 3.8l-0.4 3.8h-0.1zM355 275.8h-0.1l-0.2 3.8l0.2 3.8h0.1zM355 275.8h0.1l0.3 3.8l-0.3 3.8h-0.1zM356.2 275.8h-0.1l-0.4 3.8l0.4 3.8h0.1zM356.2 275.8h0.1l0.2 3.8l-0.2 3.8h-0.1zM356.6 275.8h0.2l0.6 3.8l-0.6 3.8h-0.2zM357.4 275.8h0.1l0.4 3.8l-0.4 3.8h-0.1zM358 275.8h0.1l0.3 3.8l-0.3 3.8h-0.1zM358.5 275.8h0.1l0.4 3.8l-0.4 3.8h-0.1zM359.4 275.8h-0.1l-0.2 3.8l0.2 3.8h0.1zM359.4 275.8h0.2l0.5 3.8l-0.5 3.8h-0.2zM360.6 275.8h-0.1l-0.4 3.8l0.4 3.8h0.1zM360.7 275.8h0.1l0.2 3.8l-0.2 3.8h-0.1zM361.1 275.8h0.2l0.5 3.8l-0.5 3.8h-0.2zM361.9 275.8h0.1l0.3 3.8l-0.3 3.8h-0.1zM362.3 275.8h0.2l0.5 3.8l-0.5 3.8h-0.2zM363.5 275.8h-0.1l-0.4 3.8l0.4 3.8h0.1zM363.7 275.8h0.2l0.6 3.8l-0.6 3.8h-0.2zM364.6 275.8h0.2l0.5 3.8l-0.5 3.8h-0.2zM365.3 275.8h0.3l1 3.8l-1 3.8h-0.3zM367 275.8h-0.1l-0.2 3.8l0.2 3.8h0.1zM367 275.8h0.2l0.5 3.8l-0.5 3.8h-0.2zM367.7 275.8h0.1l0.4 3.8l-0.4 3.8h-0.1zM369.1 275.8h-0.2l-0.6 3.8l0.6 3.8h0.2zM369.6 275.8h-0.1l-0.3 3.8l0.3 3.8h0.1zM370.3 275.8h-0.1l-0.4 3.8l0.4 3.8h0.1zM370.7 275.8h-0.1l-0.2 3.8l0.2 3.8h0.1zM371 275.8h-0.1l-0.3 3.8l0.3 3.8h0.1zM371.5 275.8h-0.1l-0.3 3.8l0.3 3.8h0.1zM372.1 275.8h-0.1l-0.4 3.8l0.4 3.8h0.1zM372.5 275.8h-0.1l-0.2 3.8l0.2 3.8h0.1zM372.6 275.8h0.1l0.2 3.8l-0.2 3.8h-0.1zM373 275.8h0.3l0.8 3.8l-0.8 3.8h-0.3zM374.6 275.8h-0.1l-0.4 3.8l0.4 3.8h0.1zM374.7 275.8h0.1l0.2 3.8l-0.2 3.8h-0.1zM375.9 275.8h-0.2l-0.6 3.8l0.6 3.8h0.2zM376 275.8h0.1l0.4 3.8l-0.4 3.8h-0.1zM376.6 275.8h0.1l0.4 3.8l-0.4 3.8h-0.1zM377.2 275.8h0.1l0.3 3.8l-0.3 3.8h-0.1zM378.1 275.8h-0.1l-0.2 3.8l0.2 3.8h0.1zM378.4 275.8h-0.1l-0.2 3.8l0.2 3.8h0.1zM378.5 275.8h0.1l0.2 3.8l-0.2 3.8h-0.1zM379.3 275.8h-0.1l-0.3 3.8l0.3 3.8h0.1zM379.3 275.8h0.2l0.7 3.8l-0.7 3.8h-0.2zM380.4 275.8h0.1l0.3 3.8l-0.3 3.8h-0.1zM380.9 275.8h0.1l0.4 3.8l-0.4 3.8h-0.1zM381.8 275.8h-0.1l-0.2 3.8l0.2 3.8h0.1zM383.1 275.8h0.1l0.3 3.8l-0.3 3.8h-0.1zM383.5 275.8h0.1l0.2 3.8l-0.2 3.8h-0.1zM384.4 275.8h-0.1l-0.4 3.8l0.4 3.8h0.1zM384.5 275.8h0.2l0.5 3.8l-0.5 3.8h-0.2zM385.7 275.8h-0.1l-0.3 3.8l0.3 3.8h0.1zM386.2 275.8h-0.1l-0.3 3.8l0.3 3.8h0.1zM386.2 275.8h0.1l0.3 3.8l-0.3 3.8h-0.1zM386.7 275.8h0.1l0.3 3.8l-0.3 3.8h-0.1zM387.4 275.8h-0.1l-0.2 3.8l0.2 3.8h0.1zM388.2 275.8h-0.2l-0.5 3.8l0.5 3.8h0.2zM388.6 275.8h-0.1l-0.2 3.8l0.2 3.8h0.1zM388.6 275.8h0.2l0.5 3.8l-0.5 3.8h-0.2zM390.1 275.8h-0.1l-0.2 3.8l0.2 3.8h0.1zM390.2 275.8h0.2l0.5 3.8l-0.5 3.8h-0.2zM390.9 275.8h0.1l0.3 3.8l-0.3 3.8h-0.1zM391.7 275.8h-0.1l-0.2 3.8l0.2 3.8h0.1zM392.2 275.8h-0.1l-0.3 3.8l0.3 3.8h0.1zM392.2 275.8h0.1l0.3 3.8l-0.3 3.8h-0.1zM392.7 275.8h0.1l0.2 3.8l-0.2 3.8h-0.1zM393.5 275.8h-0.1l-0.4 3.8l0.4 3.8h0.1zM393.6 275.8h0.2l0.5 3.8l-0.5 3.8h-0.2zM394.3 275.8h0.1l0.3 3.8l-0.3 3.8h-0.1zM394.9 275.8h0.1l0.2 3.8l-0.2 3.8h-0.1zM395.2 275.8h0.1l0.2 3.8l-0.2 3.8h-0.1zM396.7 275.8h-0.3l-0.8 3.8l0.8 3.8h0.3zM398 275.8h-0.3l-0.9 3.8l0.9 3.8h0.3zM398.1 275.8h0.2l0.6 3.8l-0.6 3.8h-0.2zM399.5 275.8h-0.1l-0.4 3.8l0.4 3.8h0.1zM400.2 275.8h-0.2l-0.5 3.8l0.5 3.8h0.2zM400.5 275.8h-0.1l-0.2 3.8l0.2 3.8h0.1zM402.1 275.8h0.2l0.5 3.8l-0.5 3.8h-0.2zM403.8 275.8h-0.1l-0.2 3.8l0.2 3.8h0.1zM404.2 275.8h-0.1l-0.2 3.8l0.2 3.8h0.1zM405 275.8h0.3l0.8 3.8l-0.8 3.8h-0.3zM406.2 275.8h0.1l0.3 3.8l-0.3 3.8h-0.1zM406.6 275.8h0.4l1.1 3.8l-1.1 3.8h-0.4zM408.1 275.8h0.1l0.3 3.8l-0.3 3.8h-0.1zM408.9 275.8h-0.1l-0.2 3.8l0.2 3.8h0.1zM410.3 275.8h-0.3l-0.9 3.8l0.9 3.8h0.3zM411 275.8h0.1l0.2 3.8l-0.2 3.8h-0.1zM411.7 275.8h-0.1l-0.2 3.8l0.2 3.8h0.1zM412.6 275.8h-0.2l-0.6 3.8l0.6 3.8h0.2zM413.8 275.8h-0.2l-0.6 3.8l0.6 3.8h0.2zM413.9 275.8h0.1l0.2 3.8l-0.2 3.8h-0.1zM415 275.8h-0.1l-0.4 3.8l0.4 3.8h0.1zM415.8 275.8h-0.2l-0.5 3.8l0.5 3.8h0.2zM415.8 275.8h0.1l0.4 3.8l-0.4 3.8h-0.1zM417.3 275.8h-0.2l-0.6 3.8l0.6 3.8h0.2zM418.1 275.8h-0.2l-0.5 3.8l0.5 3.8h0.2zM418.6 275.8h-0.1l-0.4 3.8l0.4 3.8h0.1zM418.7 275.8h0.3l0.8 3.8l-0.8 3.8h-0.3zM420.3 275.8h-0.1l-0.4 3.8l0.4 3.8h0.1zM420.4 275.8h0.1l0.4 3.8l-0.4 3.8h-0.1zM422.1 275.8h-0.2l-0.5 3.8l0.5 3.8h0.2zM422.7 275.8h-0.1l-0.4 3.8l0.4 3.8h0.1zM423.1 275.8h-0.1l-0.3 3.8l0.3 3.8h0.1zM423.1 275.8h0.1l0.3 3.8l-0.3 3.8h-0.1zM423.6 275.8h0.2l0.6 3.8l-0.6 3.8h-0.2zM425.3 275.8h-0.2l-0.6 3.8l0.6 3.8h0.2zM425.4 275.8h0.1l0.3 3.8l-0.3 3.8h-0.1zM426.4 275.8h-0.1l-0.4 3.8l0.4 3.8h0.1zM426.5 275.8h0.1l0.2 3.8l-0.2 3.8h-0.1zM427.1 275.8h-0.1l-0.2 3.8l0.2 3.8h0.1zM427.2 275.8h0.1l0.4 3.8l-0.4 3.8h-0.1zM427.8 275.8h0.1l0.2 3.8l-0.2 3.8h-0.1zM428.2 275.8h0.1l0.3 3.8l-0.3 3.8h-0.1zM428.9 275.8h-0.1l-0.2 3.8l0.2 3.8h0.1zM429 275.8h0.2l0.7 3.8l-0.7 3.8h-0.2zM431.1 275.8h-0.3l-0.8 3.8l0.8 3.8h0.3zM431.2 275.8h0.2l0.6 3.8l-0.6 3.8h-0.2zM432.9 275.8h-0.2l-0.6 3.8l0.6 3.8h0.2zM434 275.8h-0.1l-0.2 3.8l0.2 3.8h0.1zM434.6 275.8h-0.1l-0.4 3.8l0.4 3.8h0.1zM436.3 275.8h0.1l0.2 3.8l-0.2 3.8h-0.1zM436.7 275.8h0.3l0.9 3.8l-0.9 3.8h-0.3zM438.3 275.8h-0.1l-0.2 3.8l0.2 3.8h0.1zM438.4 275.8h0.1l0.2 3.8l-0.2 3.8h-0.1zM439.5 275.8h-0.1l-0.2 3.8l0.2 3.8h0.1zM439.6 275.8h0.1l0.3 3.8l-0.3 3.8h-0.1zM440.5 275.8h-0.1l-0.4 3.8l0.4 3.8h0.1zM440.9 275.8h-0.1l-0.2 3.8l0.2 3.8h0.1zM441 275.8h0.3l0.8 3.8l-0.8 3.8h-0.3zM443.1 275.8h-0.2l-0.7 3.8l0.7 3.8h0.2zM443.7 275.8h-0.1l-0.3 3.8l0.3 3.8h0.1zM443.7 275.8h0.1l0.3 3.8l-0.3 3.8h-0.1zM444.6 275.8h-0.1l-0.3 3.8l0.3 3.8h0.1zM444.7 275.8h0.2l0.5 3.8l-0.5 3.8h-0.2zM446.2 275.8h-0.2l-0.6 3.8l0.6 3.8h0.2zM446.9 275.8h-0.1l-0.4 3.8l0.4 3.8h0.1zM448.3 275.8h-0.2l-0.6 3.8l0.6 3.8h0.2zM448.4 275.8h0.1l0.2 3.8l-0.2 3.8h-0.1zM448.8 275.8h0.1l0.4 3.8l-0.4 3.8h-0.1zM449.7 275.8h-0.1l-0.3 3.8l0.3 3.8h0.1zM450.1 275.8h-0.1l-0.2 3.8l0.2 3.8h0.1zM450.1 275.8h0.1l0.2 3.8l-0.2 3.8h-0.1zM452 275.8h-0.2l-0.6 3.8l0.6 3.8h0.2zM452.1 275.8h0.1l0.4 3.8l-0.4 3.8h-0.1zM453.7 275.8h-0.2l-0.6 3.8l0.6 3.8h0.2zM453.7 275.8h0.1l0.2 3.8l-0.2 3.8h-0.1zM454.7 275.8h-0.1l-0.4 3.8l0.4 3.8h0.1zM455.2 275.8h-0.1l-0.3 3.8l0.3 3.8h0.1zM455.3 275.8h0.2l0.5 3.8l-0.5 3.8h-0.2zM456.6 275.8h-0.1l-0.4 3.8l0.4 3.8h0.1zM457.3 275.8h0.1l0.2 3.8l-0.2 3.8h-0.1zM457.7 275.8h0.2l0.5 3.8l-0.5 3.8h-0.2zM458.9 275.8h-0.1l-0.4 3.8l0.4 3.8h0.1zM459 275.8h0.1l0.2 3.8l-0.2 3.8h-0.1zM459.4 275.8h0.1l0.2 3.8l-0.2 3.8h-0.1zM460.4 275.8h0.1l0.4 3.8l-0.4 3.8h-0.1zM461.1 275.8h0.1l0.4 3.8l-0.4 3.8h-0.1zM462.7 275.8h-0.1l-0.4 3.8l0.4 3.8h0.1zM462.8 275.8h0.1l0.4 3.8l-0.4 3.8h-0.1zM463.4 275.8h0.1l0.3 3.8l-0.3 3.8h-0.1zM463.9 275.8h0.2l0.6 3.8l-0.6 3.8h-0.2zM464.8 275.8h0.1l0.2 3.8l-0.2 3.8h-0.1zM465.2 275.8h0.1l0.4 3.8l-0.4 3.8h-0.1zM465.8 275.8h0.2l0.5 3.8l-0.5 3.8h-0.2zM466.9 275.8h-0.1l-0.3 3.8l0.3 3.8h0.1zM467.5 275.8h-0.1l-0.3 3.8l0.3 3.8h0.1zM468.4 275.8h0.2l0.5 3.8l-0.5 3.8h-0.2zM469 275.8h0.1l0.4 3.8l-0.4 3.8h-0.1zM470.8 275.8h-0.3l-0.8 3.8l0.8 3.8h0.3zM472 275.8h-0.2l-0.5 3.8l0.5 3.8h0.2zM472 275.8h0.2l0.5 3.8l-0.5 3.8h-0.2zM473.2 275.8h-0.1l-0.4 3.8l0.4 3.8h0.1zM473.3 275.8h0.1l0.2 3.8l-0.2 3.8h-0.1zM474.6 275.8h-0.1l-0.4 3.8l0.4 3.8h0.1zM476.7 275.8h0.1l0.3 3.8l-0.3 3.8h-0.1zM477.2 275.8h0.1l0.2 3.8l-0.2 3.8h-0.1zM479.3 275.8h-0.1l-0.2 3.8l0.2 3.8h0.1zM480.4 275.8h-0.1l-0.4 3.8l0.4 3.8h0.1zM480.5 275.8h0.2l0.7 3.8l-0.7 3.8h-0.2zM481.8 275.8h-0.1l-0.2 3.8l0.2 3.8h0.1zM482.2 275.8h-0.1l-0.2 3.8l0.2 3.8h0.1zM482.3 275.8h0.1l0.2 3.8l-0.2 3.8h-0.1zM483 275.8h-0.1l-0.3 3.8l0.3 3.8h0.1zM483.1 275.8h0.1l0.2 3.8l-0.2 3.8h-0.1zM483.5 275.8h0.1l0.3 3.8l-0.3 3.8h-0.1zM484 275.8h0.1l0.2 3.8l-0.2 3.8h-0.1zM484.4 275.8h0.2l0.7 3.8l-0.7 3.8h-0.2zM485.3 275.8h0.1l0.3 3.8l-0.3 3.8h-0.1zM486.3 275.8h0.1l0.4 3.8l-0.4 3.8h-0.1zM487.2 275.8h-0.1l-0.2 3.8l0.2 3.8h0.1zM487.9 275.8h-0.1l-0.4 3.8l0.4 3.8h0.1zM487.9 275.8h0.1l0.2 3.8l-0.2 3.8h-0.1zM489 275.8h0.1l0.4 3.8l-0.4 3.8h-0.1zM489.6 275.8h0.1l0.2 3.8l-0.2 3.8h-0.1zM492.1 275.8h0.1l0.2 3.8l-0.2 3.8h-0.1zM493.2 275.8h-0.1l-0.3 3.8l0.3 3.8h0.1zM493.7 275.8h-0.1l-0.3 3.8l0.3 3.8h0.1zM493.8 275.8h0.2l0.5 3.8l-0.5 3.8h-0.2zM494.6 275.8h0.1l0.4 3.8l-0.4 3.8h-0.1zM495.5 275.8h-0.1l-0.3 3.8l0.3 3.8h0.1zM495.6 275.8h0.2l0.5 3.8l-0.5 3.8h-0.2zM496.4 275.8h0.3l1 3.8l-1 3.8h-0.3zM498.4 275.8h-0.1l-0.4 3.8l0.4 3.8h0.1zM499.5 275.8h-0.3l-0.8 3.8l0.8 3.8h0.3zM499.6 275.8h0.1l0.2 3.8l-0.2 3.8h-0.1zM500 275.8h0.2l0.5 3.8l-0.5 3.8h-0.2zM500.7 275.8h0.1l0.3 3.8l-0.3 3.8h-0.1zM502 275.8h-0.2l-0.7 3.8l0.7 3.8h0.2zM502.2 275.8h0.1l0.3 3.8l-0.3 3.8h-0.1zM503.6 275.8h-0.1l-0.4 3.8l0.4 3.8h0.1zM503.7 275.8h0.2l0.5 3.8l-0.5 3.8h-0.2zM504.4 275.8h0.2l0.5 3.8l-0.5 3.8h-0.2zM505.5 275.8h-0.1l-0.2 3.8l0.2 3.8h0.1zM505.5 275.8h0.1l0.2 3.8l-0.2 3.8h-0.1zM505.9 275.8h0.1l0.3 3.8l-0.3 3.8h-0.1zM506.4 275.8h0.2l0.5 3.8l-0.5 3.8h-0.2zM507.4 275.8h-0.1l-0.3 3.8l0.3 3.8h0.1zM507.9 275.8h-0.1l-0.2 3.8l0.2 3.8h0.1zM508.6 275.8h-0.1l-0.4 3.8l0.4 3.8h0.1zM510.1 275.8h0.2l0.6 3.8l-0.6 3.8h-0.2zM511.2 275.8h-0.1l-0.2 3.8l0.2 3.8h0.1zM512 275.8h-0.2l-0.6 3.8l0.6 3.8h0.2zM512.2 275.8h0.1l0.3 3.8l-0.3 3.8h-0.1zM513 275.8h-0.1l-0.2 3.8l0.2 3.8h0.1zM513.7 275.8h-0.1l-0.4 3.8l0.4 3.8h0.1zM514.6 275.8h-0.2l-0.6 3.8l0.6 3.8h0.2zM515.2 275.8h-0.1l-0.4 3.8l0.4 3.8h0.1zM515.3 275.8h0.1l0.2 3.8l-0.2 3.8h-0.1zM515.7 275.8h0.1l0.4 3.8l-0.4 3.8h-0.1zM517.6 275.8h-0.2l-0.5 3.8l0.5 3.8h0.2zM517.7 275.8h0.1l0.4 3.8l-0.4 3.8h-0.1zM518.8 275.8h-0.1l-0.4 3.8l0.4 3.8h0.1zM519.2 275.8h-0.1l-0.3 3.8l0.3 3.8h0.1zM520 275.8h-0.2l-0.5 3.8l0.5 3.8h0.2zM520.4 275.8h-0.1l-0.3 3.8l0.3 3.8h0.1zM520.5 275.8h0.1l0.4 3.8l-0.4 3.8h-0.1zM522.6 275.8h-0.4l-1.1 3.8l1.1 3.8h0.4zM523.3 275.8h-0.2l-0.5 3.8l0.5 3.8h0.2zM524 275.8h-0.1l-0.4 3.8l0.4 3.8h0.1zM524.9 275.8h-0.1l-0.3 3.8l0.3 3.8h0.1zM525.3 275.8h-0.1l-0.2 3.8l0.2 3.8h0.1zM525.8 275.8h-0.1l-0.3 3.8l0.3 3.8h0.1zM526.2 275.8h-0.1l-0.2 3.8l0.2 3.8h0.1zM526.2 275.8h0.1l0.4 3.8l-0.4 3.8h-0.1zM526.9 275.8h0.1l0.2 3.8l-0.2 3.8h-0.1zM528.2 275.8h-0.2l-0.6 3.8l0.6 3.8h0.2zM529 275.8h-0.2l-0.5 3.8l0.5 3.8h0.2zM529.9 275.8h-0.1l-0.2 3.8l0.2 3.8h0.1zM530.1 275.8h0.3l0.8 3.8l-0.8 3.8h-0.3zM531.5 275.8h-0.1l-0.2 3.8l0.2 3.8h0.1zM531.9 275.8h-0.1l-0.2 3.8l0.2 3.8h0.1zM532 275.8h0.2l0.5 3.8l-0.5 3.8h-0.2zM533.3 275.8h-0.1l-0.4 3.8l0.4 3.8h0.1zM533.8 275.8h-0.1l-0.2 3.8l0.2 3.8h0.1zM534.2 275.8h-0.1l-0.2 3.8l0.2 3.8h0.1zM534.8 275.8h-0.1l-0.4 3.8l0.4 3.8h0.1zM535.2 275.8h-0.1l-0.3 3.8l0.3 3.8h0.1zM535.3 275.8h0.1l0.2 3.8l-0.2 3.8h-0.1zM535.7 275.8h0.1l0.4 3.8l-0.4 3.8h-0.1zM536.8 275.8h-0.1l-0.4 3.8l0.4 3.8h0.1zM536.8 275.8h0.2l0.5 3.8l-0.5 3.8h-0.2zM538 275.8h-0.1l-0.2 3.8l0.2 3.8h0.1zM538 275.8h0.2l0.5 3.8l-0.5 3.8h-0.2zM539.5 275.8h-0.1l-0.2 3.8l0.2 3.8h0.1zM541.2 275.8h0.1l0.3 3.8l-0.3 3.8h-0.1zM542 275.8h-0.1l-0.3 3.8l0.3 3.8h0.1zM542.7 275.8h-0.1l-0.4 3.8l0.4 3.8h0.1zM542.8 275.8h0.1l0.2 3.8l-0.2 3.8h-0.1zM544.3 275.8h-0.1l-0.2 3.8l0.2 3.8h0.1zM544.8 275.8h-0.1l-0.3 3.8l0.3 3.8h0.1zM544.9 275.8h0.1l0.3 3.8l-0.3 3.8h-0.1zM545.7 275.8h-0.1l-0.2 3.8l0.2 3.8h0.1zM546.5 275.8h-0.2l-0.5 3.8l0.5 3.8h0.2zM546.6 275.8h0.1l0.2 3.8l-0.2 3.8h-0.1zM546.9 275.8h0.2l0.5 3.8l-0.5 3.8h-0.2zM547.9 275.8h-0.1l-0.2 3.8l0.2 3.8h0.1zM548 275.8h0.2l0.5 3.8l-0.5 3.8h-0.2zM548.7 275.8h0.1l0.2 3.8l-0.2 3.8h-0.1zM549.6 275.8h-0.1l-0.4 3.8l0.4 3.8h0.1zM549.7 275.8h0.1l0.3 3.8l-0.3 3.8h-0.1zM550.2 275.8h0.1l0.2 3.8l-0.2 3.8h-0.1zM550.9 275.8h-0.1l-0.2 3.8l0.2 3.8h0.1zM551.4 275.8h-0.1l-0.4 3.8l0.4 3.8h0.1zM552.5 275.8h-0.2l-0.7 3.8l0.7 3.8h0.2zM552.7 275.8h0.2l0.7 3.8l-0.7 3.8h-0.2zM554 275.8h-0.1l-0.3 3.8l0.3 3.8h0.1zM554.2 275.8h0.2l0.7 3.8l-0.7 3.8h-0.2zM555.2 275.8h0.1l0.2 3.8l-0.2 3.8h-0.1zM556 275.8h-0.1l-0.3 3.8l0.3 3.8h0.1zM556.1 275.8h0.1l0.3 3.8l-0.3 3.8h-0.1zM557.5 275.8h-0.3l-0.8 3.8l0.8 3.8h0.3zM557.7 275.8h0.2l0.5 3.8l-0.5 3.8h-0.2zM559.5 275.8h-0.3l-0.8 3.8l0.8 3.8h0.3zM559.9 275.8h-0.1l-0.3 3.8l0.3 3.8h0.1zM560.2 275.8h-0.1l-0.2 3.8l0.2 3.8h0.1zM560.3 275.8h0.1l0.3 3.8l-0.3 3.8h-0.1zM560.8 275.8h0.1l0.3 3.8l-0.3 3.8h-0.1zM561.8 275.8h-0.1l-0.3 3.8l0.3 3.8h0.1zM562.5 275.8h-0.2l-0.5 3.8l0.5 3.8h0.2zM562.6 275.8h0.1l0.2 3.8l-0.2 3.8h-0.1zM563 275.8h0.2l0.7 3.8l-0.7 3.8h-0.2zM564.4 275.8h-0.1l-0.2 3.8l0.2 3.8h0.1zM565.6 275.8h0.1l0.3 3.8l-0.3 3.8h-0.1zM566.1 275.8h0.1l0.4 3.8l-0.4 3.8h-0.1zM567 275.8h-0.1l-0.2 3.8l0.2 3.8h0.1zM567.6 275.8h-0.1l-0.3 3.8l0.3 3.8h0.1zM567.6 275.8h0.3l0.9 3.8l-0.9 3.8h-0.3zM568.9 275.8h0.2l0.5 3.8l-0.5 3.8h-0.2zM570 275.8h-0.1l-0.3 3.8l0.3 3.8h0.1zM570.7 275.8h-0.2l-0.5 3.8l0.5 3.8h0.2zM571.5 275.8h-0.2l-0.5 3.8l0.5 3.8h0.2zM572.3 275.8h-0.2l-0.6 3.8l0.6 3.8h0.2zM573.1 275.8h-0.2l-0.5 3.8l0.5 3.8h0.2zM573.5 275.8h-0.1l-0.2 3.8l0.2 3.8h0.1zM573.9 275.8h-0.1l-0.2 3.8l0.2 3.8h0.1zM573.9 275.8h0.1l0.2 3.8l-0.2 3.8h-0.1zM574.3 275.8h0.1l0.2 3.8l-0.2 3.8h-0.1zM574.7 275.8h0.2l0.6 3.8l-0.6 3.8h-0.2zM576.1 275.8h-0.1l-0.4 3.8l0.4 3.8h0.1zM576.5 275.8h-0.1l-0.3 3.8l0.3 3.8h0.1zM577.9 275.8h-0.1l-0.3 3.8l0.3 3.8h0.1zM578 275.8h0.2l0.5 3.8l-0.5 3.8h-0.2zM578.8 275.8h0.2l0.5 3.8l-0.5 3.8h-0.2zM579.5 275.8h0.1l0.3 3.8l-0.3 3.8h-0.1zM580.5 275.8h-0.2l-0.5 3.8l0.5 3.8h0.2zM581 275.8h-0.1l-0.3 3.8l0.3 3.8h0.1zM581 275.8h0.1l0.4 3.8l-0.4 3.8h-0.1zM581.6 275.8h0.2l0.6 3.8l-0.6 3.8h-0.2zM582.5 275.8h0.1l0.2 3.8l-0.2 3.8h-0.1zM583.6 275.8h-0.2l-0.5 3.8l0.5 3.8h0.2zM584 275.8h-0.1l-0.2 3.8l0.2 3.8h0.1zM584.4 275.8h-0.1l-0.2 3.8l0.2 3.8h0.1zM585.1 275.8h0.1l0.2 3.8l-0.2 3.8h-0.1zM585.4 275.8h0.3l0.8 3.8l-0.8 3.8h-0.3zM587.2 275.8h-0.1l-0.4 3.8l0.4 3.8h0.1zM587.3 275.8h0.1l0.3 3.8l-0.3 3.8h-0.1zM588 275.8h0.2l0.6 3.8l-0.6 3.8h-0.2zM588.9 275.8h0.3l0.9 3.8l-0.9 3.8h-0.3zM590.7 275.8h-0.1l-0.4 3.8l0.4 3.8h0.1zM591.1 275.8h-0.1l-0.3 3.8l0.3 3.8h0.1zM591.6 275.8h-0.1l-0.2 3.8l0.2 3.8h0.1zM591.7 275.8h0.2l0.5 3.8l-0.5 3.8h-0.2zM592.4 275.8h0.1l0.4 3.8l-0.4 3.8h-0.1z" fill="#bfbfbf"/>
<path d="M293 275.8h-0.1l-0.2 3.8l0.2 3.8h0.1zM294 275.8h-0.1l-0.3 3.8l0.3 3.8h0.1zM301.5 275.8h-0.2l-0.5 3.8l0.5 3.8h0.2zM309.2 275.8h0.5l1.4 3.8l-1.4 3.8h-0.5zM312.1 275.8h0.1l0.2 3.8l-0.2 3.8h-0.1zM313.9 275.8h0.1l0.2 3.8l-0.2 3.8h-0.1zM314.3 275.8h0.2l0.6 3.8l-0.6 3.8h-0.2zM323.7 275.8h-0.1l-0.2 3.8l0.2 3.8h0.1zM329.1 275.8h-0.2l-0.7 3.8l0.7 3.8h0.2zM332 275.8h-0.2l-0.7 3.8l0.7 3.8h0.2zM340.7 275.8h-0.3l-0.8 3.8l0.8 3.8h0.3zM344.5 275.8h-0.1l-0.3 3.8l0.3 3.8h0.1zM346.8 275.8h-0.3l-0.8 3.8l0.8 3.8h0.3zM351.7 275.8h-0.3l-1 3.8l1 3.8h0.3zM353.9 275.8h0.2l0.5 3.8l-0.5 3.8h-0.2zM383 275.8h-0.3l-0.9 3.8l0.9 3.8h0.3zM389.3 275.8h0.1l0.3 3.8l-0.3 3.8h-0.1zM400.6 275.8h0.2l0.7 3.8l-0.7 3.8h-0.2zM402.1 275.8h-0.1l-0.2 3.8l0.2 3.8h0.1zM403.4 275.8h-0.1l-0.4 3.8l0.4 3.8h0.1zM404.9 275.8h-0.2l-0.5 3.8l0.5 3.8h0.2zM410.9 275.8h-0.1l-0.4 3.8l0.4 3.8h0.1zM412.6 275.8h0.1l0.2 3.8l-0.2 3.8h-0.1zM421.4 275.8h-0.1l-0.3 3.8l0.3 3.8h0.1zM433 275.8h0.1l0.4 3.8l-0.4 3.8h-0.1zM438.8 275.8h0.1l0.2 3.8l-0.2 3.8h-0.1zM447 275.8h0.1l0.4 3.8l-0.4 3.8h-0.1zM451 275.8h-0.1l-0.4 3.8l0.4 3.8h0.1zM457.2 275.8h-0.2l-0.5 3.8l0.5 3.8h0.2zM460.3 275.8h-0.1l-0.3 3.8l0.3 3.8h0.1zM461.7 275.8h0.1l0.3 3.8l-0.3 3.8h-0.1zM467.6 275.8h0.2l0.5 3.8l-0.5 3.8h-0.2zM471.3 275.8h-0.1l-0.3 3.8l0.3 3.8h0.1zM473.7 275.8h0.1l0.2 3.8l-0.2 3.8h-0.1zM477.6 275.8h0.3l0.8 3.8l-0.8 3.8h-0.3zM478.6 275.8h0.1l0.2 3.8l-0.2 3.8h-0.1zM479.3 275.8h0.1l0.3 3.8l-0.3 3.8h-0.1zM486.3 275.8h-0.1l-0.4 3.8l0.4 3.8h0.1zM488.3 275.8h0.2l0.5 3.8l-0.5 3.8h-0.2zM492.5 275.8h0.1l0.2 3.8l-0.2 3.8h-0.1zM502.7 275.8h0.1l0.2 3.8l-0.2 3.8h-0.1zM509.3 275.8h-0.2l-0.5 3.8l0.5 3.8h0.2zM509.3 275.8h0.2l0.5 3.8l-0.5 3.8h-0.2zM516.9 275.8h-0.1l-0.4 3.8l0.4 3.8h0.1zM524.1 275.8h0.1l0.3 3.8l-0.3 3.8h-0.1zM529.6 275.8h-0.1l-0.4 3.8l0.4 3.8h0.1zM539.1 275.8h-0.1l-0.3 3.8l0.3 3.8h0.1zM543.4 275.8h-0.1l-0.2 3.8l0.2 3.8h0.1zM543.9 275.8h-0.1l-0.3 3.8l0.3 3.8h0.1zM565 275.8h-0.1l-0.4 3.8l0.4 3.8h0.1zM565.5 275.8h-0.1l-0.3 3.8l0.3 3.8h0.1zM577.5 275.8h-0.2l-0.7 3.8l0.7 3.8h0.2zM584.5 275.8h0.1l0.4 3.8l-0.4 3.8h-0.1zM587.7 275.8h0.1l0.2 3.8l-0.2 3.8h-0.1zM593.8 275.8h-0.2l-0.6 3.8l0.6 3.8h0.2z" fill="#000"/>
<path d="M284 232.2h3.6M470.3 234.1h3.5M492 237.7h2.9M465 239.5h5.9M377.4 246.6h3.1M544.8 248.2h2.7M502.3 250.3h3.1M367.2 253.6h2.2M291 259.1h2.6M296 261.2h4.5M485.8 264.5h4.6M520.8 264.4h4.8M419.2 266.3h4.4M481.3 266.4h3.8M335.2 268.3h3.6M284 270.2h4.3M298 271.7h3.6M501.3 271.8h4.7M509.2 273.5h4.3" stroke="#1b9e77" stroke-width="1.35" stroke-opacity="0.85"/>
<path d="M290.7 232h1.5M569.3 232h7.9M436.2 233.9h2.4M533 234h2.3M552.9 242.9h2.8M397.1 248.4h4M447.2 250.1h4.8M454 252.1h3.3M327.9 254h3M284 257.2h1.5M402.4 259.3h10.2M461.7 259h3.7M487.5 259.3h2.1M492.6 264.7h4.9M340.8 268h5.7M549.5 268.4h3.9M539.1 271.8h0.7M335.5 273.8h2.7M592.4 273.4h1.4" stroke="#bc80bd" stroke-width="1.35" stroke-opacity="0.85"/>
<path d="M292.5 232.2h2.8M532.6 232.4h2.7M444 233.8h3.4M289.2 237.8h4.5M511.9 237.8h3.2M322.5 239.4h4.2M375.6 239.5h2.5M589.5 241.3h4.3M373.2 243.1h3.5M333.7 244.8h4M339.4 244.6h5.9M391.9 248.6h1.5M515.5 253.9h3.7M494.7 257.3h4.4M332.7 259h1.9M431.1 262.7h3.8M452.9 262.7h3.7M379.8 264.4h5.6M476.6 264.4h2.5M530.7 266.5h4.5M472.4 268.3h2.9M366.8 272h4.8M304.5 275.2h3M323.4 275.2h1.5" stroke="#b3de69" stroke-width="1.35" stroke-opacity="0.85"/>
<path d="M295.8 232.4h4.1M462 232.1h5M563.5 232.4h4.1M503.7 234.1h5.1M549.2 233.9h4.3M531.3 237.5h4.6M445.6 239.3h4.5M406.7 248.2h5.2M531.1 248.4h3.7M304.3 253.6h3.9M542 259.2h1.5M556.5 264.8h9M512.1 271.9h5.8M476.6 273.5h3.5M290.1 275.6h3.6" stroke="#fb8072" stroke-width="1.35" stroke-opacity="0.85"/>
<path d="M302.9 232.2h0.9M376.4 233.9h1.7M425.1 237.5h4.1M520 237.5h4.6M414.3 239.4h1.5M479.1 241.3h3.1M566.2 244.7h4.4M489.7 250.4h1M510.1 250.4h3.7M392.9 253.9h1.7M538.1 253.9h1.7M410.3 255.7h4.3M362 259.1h2.3M517.8 259.1h3.7M286.9 262.9h2.7M285.3 266.5h3.6M409.2 268.3h4M397.6 269.8h3.7M321.8 271.6h3.3M520.9 273.6h3.8" stroke="#80b1d3" stroke-width="1.35" stroke-opacity="0.85"/>
<path d="M304.3 232h4.5M288.8 235.8h2.5M324.9 242.9h5.3M441.2 242.8h3.7M582.4 243.2h7.4M316.1 248.4h4.2M454.2 248.6h4.4M479.3 250.3h5M361.3 252.1h3.9M521.4 252.2h5.9M571.9 253.6h2.5M332.3 255.8h2.1M444.4 255.7h5.5M298 259h3.6M417.7 264.7h1.5M357.7 266.2h4.2M386 268.1h5.4M473.7 271.6h1.6M551.4 273.6h4.2" stroke="#5aae61" stroke-width="1.35" stroke-opacity="0.85"/>
<path d="M316.1 232h5.3M400.7 232.1h3.8M538.6 234h1.2M458.7 237.7h3.1M471.9 237.6h3.4M507 237.4h3.3M425.6 246.6h6.1M496.7 246.4h5M535.1 246.7h4.7M531.9 252.1h5M548.4 254h2.2M565.2 254h3.5M588.4 255.7h4.3M512.6 257.4h4.7M521.9 259.1h2.7M579.7 259.1h3.1M302.9 260.8h1.1M389.3 261h4.9M402.5 263h7M506.2 262.7h4.6M470.7 266.3h2.7M527 266.5h3.4M516.3 270.2h1.5M372 272h4.1M440.4 273.7h4.8" stroke="#ffd92f" stroke-width="1.35" stroke-opacity="0.85"/>
<path d="M324.2 232.2h2.5M469.8 232.1h4.2M380.2 233.8h3.1M486.9 233.8h3.8M321.9 236h2.7M484.2 239.2h1.5M493.6 239.3h2.3M529.1 239.4h5.5M456 241.2h2.5M304.1 250.1h3.1M351.4 250.2h3.7M386.7 252h4.4M564.4 255.8h3M587 257.2h4.7M346.4 259.2h3.4M410.2 264.6h4.7M372.7 266.3h3M415.7 266.4h2.6M587.5 271.7h3.8M486.1 273.5h4.1M530.3 273.7h2.2" stroke="#c51b7d" stroke-width="1.35" stroke-opacity="0.85"/>
<path d="M327.5 232.3h4.1M592.8 233.9h1M397.5 237.4h6.1M407.6 237.5h2.4M484.2 237.6h3.4M508.1 242.8h9.5M453.4 244.8h1.7M453.6 246.8h9.4M524.7 246.5h3.8M575.1 250h2.6M286.1 252h5.9M357.7 252.1h2.6M392.3 252.1h7.6M463.6 252h1.5M570.6 252.2h2.8M580.7 253.6h2.7M422.6 257.6h2.8M436.2 259h3.6M553.3 259.4h2.9M355.9 261.1h3.3M541.1 262.9h1M592.7 262.7h1.1M352.6 266.3h3.6M492 266.3h3M315.1 270.1h5.2M376.2 270h3.7M568.3 273.8h1.5M541.1 275.3h0.9" stroke="#f781bf" stroke-width="1.35" stroke-opacity="0.85"/>
<path d="M340.6 232.3h1.8M440.2 232h4.6M526.9 248.2h3.5M584.8 248.3h4.6M432.4 251.8h2.5M514.1 252.2h2.6M339.3 254h2.7M521.5 255.6h5.3M286 257.4h3.6M436.2 257.4h2.4M584.6 257.2h1.6M583.2 259h3.1M333 262.8h4.8M374.7 262.8h2M476.6 262.9h1.6M361.6 271.9h3.4M549.6 271.7h3.8M284 275.5h2.8M365.4 275.2h4.4" stroke="#e31a1c" stroke-width="1.35" stroke-opacity="0.85"/>
<path d="M343.6 232h1.7M498.8 234.1h4M533.4 241.3h3.7M445.8 246.5h3.5M559.8 251.9h3.1M560.4 253.7h3.9M322.9 255.4h3.5M335 255.5h3.5M536.3 257.3h1.5M367 259.2h4.7M510 260.8h3.3M577.4 260.8h2.8M489.4 263h1.3M425.4 264.8h4.4M367.6 266.2h3.4M570.8 268.3h4.4M320.8 273.4h8M374.2 275.2h3.2M381 275.4h3M537 275.2h2.3" stroke="#b2df8a" stroke-width="1.35" stroke-opacity="0.85"/>
<path d="M353.1 232h5.6M384.4 232.4h6.2M568.9 234.1h3.4M389.6 236h1.8M343.1 239.3h4.1M377 242.9h2.6M548.1 243h4.2M367.2 244.7h2.2M359.5 246.4h3.3M488.2 248.5h2.5M554.5 252.1h4.7M312 253.9h11.6M410 254h4.1M467.1 253.6h4.3M554 254h4.7M287.8 255.8h4.2M578.4 255.7h4M500.9 257.5h4.3M327.5 259.4h4.9M379.6 259.3h3.4M477.9 261.2h5.5M513.9 260.8h4.8M366.5 262.7h3.1M378.9 266.2h2.8M479 268.3h2.2M470.8 269.9h3.2M541.1 269.8h1.7M442.4 271.7h4.6M500.3 273.4h5.3M533.7 273.4h2.7M470.8 275.3h4.5" stroke="#a65628" stroke-width="1.35" stroke-opacity="0.85"/>
<path d="M366.1 232.1h3.2M453.9 232.3h3M403.3 236h3.3M465.4 235.8h4.7M448.8 237.6h6.8M378.4 239.6h3M438.8 239.4h2.7M513.4 241h3M484.1 242.9h1.5M576.3 242.9h3.1M286.6 244.7h4.7M396.2 244.8h5.9M440.5 245h3.3M562.1 244.8h3.8M298.4 246.6h3.2M494.2 248.4h4.1M295.7 252.2h3.4M542.9 253.6h2.6M297.2 255.7h3.4M593 255.8h0.8M383.9 259h1.5M327.4 266.4h4.4M398.4 271.8h3.7M551.9 275.4h2.7M556.8 275.5h4.2" stroke="#3288bd" stroke-width="1.35" stroke-opacity="0.85"/>
<path d="M371.1 232h3.8M564.6 234.1h2.8M397.8 236h4.2M559 235.7h3.6M563.6 237.8h2.1M400 239.4h4.2M464.8 241h3.4M415.1 243.1h3.9M492.2 244.6h2.3M389.1 246.6h4.9M569.2 248.6h5.2M317.6 250.1h5M396.6 257.4h2.6M321.5 262.6h4.7M394.4 268.3h3.6M519.8 268.2h3.9M500.3 269.9h3.3M505.8 273.8h2.7" stroke="#01665e" stroke-width="1.35" stroke-opacity="0.85"/>
<path d="M394.4 232.2h4.2M433.4 232.2h1.5M514.4 232.3h4.6M495.6 237.6h3.9M557.5 241.3h5M506.8 246.7h3M438.6 250.4h4.2M290 257.5h5.4M343.1 262.8h5M403.3 268.1h1.5M463.1 270.2h3M473.5 273.7h1.5M570.8 273.5h4.4M525.4 275.4h2.3" stroke="#bebada" stroke-width="1.35" stroke-opacity="0.85"/>
<path d="M405.6 232.1h1.9M566.1 235.9h3.6M578.3 235.9h2.4M584.9 235.7h5.4M590.1 237.7h3.7M302.9 241.2h1.2M421.3 244.9h4.8M317.3 246.8h3.4M590 253.7h3.6M356.3 259.4h3.5M410.3 262.8h2.8M396.5 264.4h3.4M503.4 264.4h4.1M569.1 266.4h3.3" stroke="#ff7f00" stroke-width="1.35" stroke-opacity="0.85"/>
<path d="M408.1 232h4.3M588.8 232h2.2M560.1 234.1h3.8M523.9 235.9h4M500.8 237.4h4.1M543.7 237.8h4.3M436.2 241h2.7M492.2 241.3h4.9M297.9 250.2h3.7M309.7 252.1h5.1M541.1 252.2h2.4M591.8 251.8h1.5M351.2 253.9h3.6M546.1 255.5h3.7M496.9 259.2h3.4M422.2 263h4.1M338.4 266.3h3.2M548.1 266.6h3.5M592.1 268.4h1.7M442 270.2h1.8M384.2 271.7h3.7M567.3 271.7h4.6M470.7 273.5h2.5M513.9 275.2h3.8" stroke="#8dd3c7" stroke-width="1.35" stroke-opacity="0.85"/>
<path d="M425.6 232.3h3.8M303.3 237.8h2.6M476.6 242.9h2.8M558 244.6h2.3M351.4 248.3h6.4M460.4 250.4h3.3M436.5 253.7h3.2M327.7 255.8h1.8M519 255.4h2.1M406.9 257.3h2.5M409.9 257.5h2.8M528.7 260.9h6.5M532.4 262.6h2.6M404.3 266.5h4.4M469.1 268.2h2.7M452.4 269.9h4.6M484.3 270.2h4.6M439.2 271.6h2.1M455.5 271.6h4.6M433 273.4h1.9" stroke="#4daf4a" stroke-width="1.35" stroke-opacity="0.85"/>
<path d="M447 232.2h1.5M476.6 232h2.6M369.8 239.3h4.4M417.4 239.5h2.1M436.2 239.6h2.3M308.7 250.2h3.3M380.1 250.2h10.4M354.7 251.8h2.5M478.1 259.3h2.2M373 260.8h4M504.8 261.2h4.8M448.4 262.7h1.9M465.5 271.8h5.2M507.9 271.6h1.9M388.4 273.6h3.4M465.1 273.5h4" stroke="#e41a1c" stroke-width="1.35" stroke-opacity="0.85"/>
<path d="M493.1 232.4h5.1M407.4 233.9h4.9M575.9 241.2h2.3M357.5 244.7h2.1M485.8 244.7h3.9M579.4 246.4h3.2M286.2 248.5h4.3M427.8 253.9h3.1M355.1 255.8h4.4M383.2 255.7h3.2M465.4 255.5h2M284 259.2h2.3M555.4 262.9h4.4M330.7 264.8h4.5M526.7 264.8h2.9M295.9 266.6h5.3M313.6 268.2h2.6M525.1 273.6h3.7M575.8 273.8h4" stroke="#a6761d" stroke-width="1.35" stroke-opacity="0.85"/>
<path d="M499.6 232.1h3.8M543.9 234h4.3M460.9 235.8h2.6M574.4 235.6h2.9M554 237.4h4.4M385.6 242.8h2.8M499.6 243.1h4.9M425.1 250.3h4M440.2 251.9h3.3M373 253.9h3.5M526.3 253.9h1.5M570.9 257.6h7.2M286.6 259.2h4.1M318.6 259.1h3.5M284 262.7h1.9M542.4 263h5M315.9 266.4h4M286.5 273.5h3.6M406.4 273.5h5M492.9 273.8h4.5M518.8 275.4h4.7" stroke="#fb9a99" stroke-width="1.35" stroke-opacity="0.85"/>
<path d="M505.2 232h3.2M559.1 232.1h4.2M293.1 234.2h3.6M421.9 235.9h3.5M529.8 236h1.5M284.9 239.3h3.1M361.4 239.5h4.7M447.5 241h3M482.5 241.1h4.4M393.2 244.6h2.5M481.6 245h3.9M524.7 244.6h4.4M538.1 244.8h1.7M449 248.5h4.5M559.8 250.2h2.8M518.8 251.9h1.8M285.5 253.8h2.9M473.3 253.7h2M528.7 253.6h4.4M340.2 255.5h4.8M527.1 255.5h4.7M542.6 255.7h3.2M577.4 262.8h5.5M505 268.1h4.2M578.2 268.2h4M485.8 271.7h4.2M325.2 275.6h2.8M542.4 275.2h8.3" stroke="#8da0cb" stroke-width="1.35" stroke-opacity="0.85"/>
<path d="M508.7 232h1.9M513 233.8h3.8M298.5 235.9h3.1M456.1 235.7h3.9M419.9 239.5h4.8M476.6 239.2h4.4M557.7 239.2h4.5M553.6 241.3h3M312.1 242.9h2.3M478.4 245h2.7M531.2 244.9h4M449.8 246.7h2.2M467.3 250h4.6M424.4 252.1h3.6M322.1 261.1h6M498.7 262.6h4.5M442.1 264.6h3.4M585.6 264.8h2.8M325.1 268h2.1M497.1 270h2.9M374.9 273.7h2.4" stroke="#7570b3" stroke-width="1.35" stroke-opacity="0.85"/>
<path d="M512.3 232h1.6M492 234h3.6M382.5 235.7h4.5M343.4 237.8h4.6M360 237.8h4M462.3 239.5h2.4M537.7 241h2.1M410.3 243h3.4M429.6 248.4h2.8M436.2 248.2h4M372.8 250h2.3M506.8 250.4h2.3M419.9 251.8h3M477.3 254h2.1M392.3 257.3h1.8M457.4 260.9h6.2M560.6 260.9h3.9M393.6 262.8h3.2M444.1 269.8h4.5M479.3 269.9h3.9M496.5 271.8h4.2M294.1 275.4h5" stroke="#fdbf6f" stroke-width="1.35" stroke-opacity="0.85"/>
<path d="M526 232.3h2.7M336.6 234.2h4.7M570.2 235.9h2.6M308.5 237.7h2.9M436.6 243.1h2.2M531.4 242.8h4.6M332.8 246.6h4M483 246.8h3.9M341.4 250.2h2.9M358.8 253.6h4.5M432 254h2.9M560.7 255.5h1.9M500.2 260.8h3.7M322.9 264.4h4.7M454.2 264.8h4.1M444.6 266.4h5.7M432.1 268.1h2.8M525.5 268.2h4M307.9 269.9h3.9M287.3 271.6h3.2M284.3 273.7h2M396.8 275.2h1.5" stroke="#377eb8" stroke-width="1.35" stroke-opacity="0.85"/>
<path d="M538 232.1h1.8M415.7 236h5.5M555.1 236h2M366.5 239.3h3M311.6 241.4h4.6M300.6 242.9h1M378.1 244.9h2.7M364.6 246.6h2.9M580.3 248.6h2.3M295.8 250.4h1.8M346.8 250h3.6M448.6 252.1h2.2M554.2 255.4h3.4M384.7 257.5h3.1M305.6 262.7h2.8M438.4 262.6h1.8M535.4 262.8h3.6M392.4 266.5h1.5M377.8 268.2h1.5M370.1 269.8h2.9M403.1 269.9h2.5M558.3 271.8h3.7M484.4 275.4h3.8" stroke="#e5c494" stroke-width="1.35" stroke-opacity="0.85"/>
<path d="M545.7 232.4h7.6M318.8 234h1.5M516.6 239.6h4.2M323.6 241.3h3.6M543.7 241.4h2.4M304.7 242.9h4.2M340.9 242.8h6.2M388.7 242.9h5M462.2 243.2h1.5M520.8 244.6h3.6M585.8 245h4.3M376 252h1.8M384.6 253.8h4.5M341.9 264.8h3.6M406.2 270.2h5.4M492.1 271.6h3.1M521 271.7h4.1M418.5 275.2h5.2" stroke="#a6cee3" stroke-width="1.35" stroke-opacity="0.85"/>
<path d="M584.8 232.4h3.7M347.5 234h4.7M314.7 235.9h3.4M392.2 235.8h1.5M486.8 239.4h3.9M501.9 246.7h4.6M420.8 248.3h5.2M552.5 248.6h4.3M338.1 250.4h3M584.2 253.6h3.5M515.9 255.7h2.8M584.5 255.6h3.6M457.8 270h3.5" stroke="#66a61e" stroke-width="1.35" stroke-opacity="0.85"/>
<path d="M591.4 232.3h2.4M472.2 235.8h3.1M500.6 235.7h2.9M317.4 239.5h3.5M362.9 243.2h2.9M367.2 242.8h5.6M571.1 242.8h4.9M328.6 246.6h3.7M373.7 246.8h3.1M335.6 248.6h4.3M312.4 250.3h2.1M578.8 250.1h4.5M583.6 252.2h3.4M346 255.5h4.8M389.5 259.1h3M393.4 259.1h3.7M483.4 259.1h3.8M480.3 262.9h4.2M524.5 262.9h4M314.4 264.6h3.5M366.1 264.7h3.1M392.4 264.7h2.4M436.3 264.6h4.8M394.7 266.5h3.7M339.7 270h4.8M580.4 269.8h6.8M392 271.6h3.8M583.8 273.8h7.5M463.1 275.2h2.3" stroke="#d95f02" stroke-width="1.35" stroke-opacity="0.85"/>
<path d="M285.3 233.8h3M344.7 235.7h4.9M377.3 235.9h3.5M500.7 244.7h5.2M550.5 244.7h5.5M362.3 248.2h3M334.4 250.4h1.5M458.7 252.1h2.2M550.3 251.9h3.8M417.6 255.4h4M414 257.4h6.6M544.2 268.4h2.6M438.1 269.8h3.6M391.6 275.5h4.7M575.7 275.3h5.1" stroke="#d6604d" stroke-width="1.35" stroke-opacity="0.85"/>
<path d="M302.9 233.9h0.8M312.6 233.9h3.3M365.1 234h5.2M444.9 236h3M545.3 239.6h5.3M345.6 246.5h4.8M284 248.6h1.9M460.6 248.3h6.1M507.5 248.5h3.3M519.1 248.2h4.3M397.3 250.4h2.9M526 250.3h4.4M541.1 250.2h7.8M344.2 252.2h3.3M487.2 253.7h3.5M468.9 255.7h5.2M556.7 257.6h5.1M504.3 259.3h5.2M284 261.1h2.6M289.9 262.9h3.3M589.4 262.6h3M307.9 264.5h2.7M481.1 264.5h3.6M543.7 264.8h3.9M308.4 268.4h3.9M562.6 268h2.6M349.8 270.1h3.2M290.7 271.8h4.9M418.4 271.7h4.8M414.2 275.4h3.2" stroke="#b15928" stroke-width="1.35" stroke-opacity="0.85"/>
<path d="M305 234h4.7M584.9 233.8h5.4M363.6 235.9h1.8M433 235.6h1.9M478.4 237.6h5.3M419.9 242.9h5.6M560.2 242.8h5.3M590.4 248.2h2.8M287.8 250.4h1.5M303.2 251.8h3.7M322.7 252.2h4.6M575.9 252h4.8M379 253.8h3.4M443.2 259h4.3M547.4 261h3M350 264.4h4.4M375.9 264.6h3.5M324.4 266.3h2.3M284 268h4.2M558.9 273.4h3.9M494.3 275.4h3.4" stroke="#a6d854" stroke-width="1.35" stroke-opacity="0.85"/>
<path d="M321.6 234h9.7M572.6 234h3.9M334.1 235.9h4.3M438.4 235.9h2.5M416.4 237.4h3.3M566 241.4h4.8M480.3 248.6h2.1M334.4 251.8h1.5M383 252.1h3.4M472.5 252h2.8M551 255.6h2.5M513.3 259h4.2M300.5 264.6h1.1M419.5 264.8h3.7M461.8 264.6h2.8M524.1 270.2h4.6M424.3 272h4.1M481.6 271.8h2.8M367.7 273.8h4M380 273.4h2.7" stroke="#6a3d9a" stroke-width="1.35" stroke-opacity="0.85"/>
<path d="M388.1 234.1h5.8M448.6 235.6h5.6M447 237.6h1.5M560.1 237.6h1.8M332.1 239.2h2.9M285.2 241h6.2M504.8 241.2h5M317.3 243.1h2.2M347.4 242.9h3M391.1 245h1.5M546.5 246.7h3.6M378.3 251.9h3M309.8 255.7h3.8M439.7 255.6h4.4M567.2 257.2h2M510.4 259.4h1.9M387.9 262.6h4.9M445.3 262.6h2.8M287.3 264.4h3.3M446.3 264.4h2.7M592.7 266.2h1.1M482.4 268h4.1M403 271.8h4.8M352.3 275.5h3.6" stroke="#984ea3" stroke-width="1.35" stroke-opacity="0.85"/>
<path d="M416.5 234.2h3.2M449.2 234.2h1.5M365.7 235.6h6.4M389.9 239.3h7.7M528.5 241.3h3M405.1 244.9h4.5M499.7 248.5h3M453.9 253.7h2.9M464.7 257.2h2.9M541.1 257.5h1.7M546.8 257.5h3.6M551.6 257.3h2.4M421.4 259.3h5.7M492 259h1.8M560.1 259.4h2.2M384.1 261h4M423.6 260.8h4.9M467 264.7h3.8M503.2 266.4h5.4M317.2 268.2h4.4M380.3 268.2h3.9M412.1 270.1h6.3M317.3 273.5h2.7M517.4 273.7h2.7M387 275.2h4.3M400.1 275.3h5.7M409.8 275.6h2.1" stroke="#8c510a" stroke-width="1.35" stroke-opacity="0.85"/>
<path d="M421.2 234h2.8M296.5 235.7h1.7M353.1 235.7h4.4M456.9 239.5h5.1M297.4 241.4h3.6M351.6 241.4h3.5M404.6 241.4h4.6M327.7 244.9h3.6M441 253.9h2.7M346.5 257.3h5.2M581.7 257.2h2.1M449.1 259h2.7M466.8 259.1h6M307.2 260.9h4.1M448.6 260.9h3.4M359 262.8h4.9M441.2 262.9h3.6M354 268.1h3.2M427.8 268.3h2.9M461.2 271.7h3.3M544.7 273.4h4.6M313.4 275.4h3.4M329.2 275.3h2.2" stroke="#d53e4f" stroke-width="1.35" stroke-opacity="0.85"/>
<path d="M451.3 234.2h5.5M544.1 235.8h3.3M422.7 241.4h4.8M586 241.2h3.1M471.9 242.9h3.4M510.7 246.5h2.5M326.4 250.4h4.8M509.7 253.7h2.5M470.6 257.4h4.7M400.6 264.5h3.8M433.1 266.3h1.8M468.3 266.2h2.1M541.1 268h2.1M532 269.8h3M565.5 270h4.8M430.2 271.7h4.7M345.5 273.5h3.3" stroke="#33a02c" stroke-width="1.35" stroke-opacity="0.85"/>
<path d="M466 234.1h3.1M310.9 235.7h2.4M566.7 237.5h2.8M302.9 239.6h2.3M443.1 241.1h3.3M578.4 241.3h5.6M405.8 243h4.1M455.4 244.9h4.1M322.6 246.7h3.6M383.9 248.5h4.2M520.3 250.3h3.7M489.9 252.2h0.8M395.4 254h3.4M332.5 257.5h3M341.2 259.4h2.5M378.6 260.8h5.2M444.9 261.2h3.4M589.8 261h3.8M316.5 263h4.5M418.5 262.9h2.1M382.1 266.4h5.9M419.9 268.3h3M452.4 268h4.4M354.2 270.1h3.5M396.3 273.8h3.4" stroke="#cab2d6" stroke-width="1.35" stroke-opacity="0.85"/>
<path d="M476.6 233.9h2.5M410.3 237.8h2.4M496.2 239.2h4.5M576.5 239.6h4.4M409.5 241h4.6M365.7 248.2h4.6M482 255.7h8M562.1 257.2h3.3M543.8 259.2h3.2M314.1 260.8h3.4M318.4 261.1h3.1M326.9 262.8h3.5M381.1 262.9h4.8M432.2 264.4h2.1M513.8 264.5h5.4M549.9 264.5h4.5M588.5 268.3h3.2M298.5 270h3.1M308.9 273.4h4.5M498.2 275.3h4.3" stroke="#e6ab02" stroke-width="1.35" stroke-opacity="0.85"/>
<path d="M284 235.8h3.7M318.9 235.6h2.3M466.7 237.7h3M458.2 243.2h2.8M464.6 243.2h4.6M385.9 245h4M590.5 244.7h3.3M407.1 250.4h4M340.1 251.9h3.3M416 252.1h3.5M484.3 253.7h2.1M577.4 253.8h2.1M302.9 255.6h3.3M457.2 255.6h5.4M534 255.8h3.4M457.2 259.3h3.1M440.7 261h3.5M522.9 260.9h3.4M565.6 263h4.4M292.1 264.5h4.5M541.1 266.3h1.3M542.9 266.2h3.6M334.1 269.9h2.6M448.4 273.6h4" stroke="#e7298a" stroke-width="1.35" stroke-opacity="0.85"/>
<path d="M292.9 235.9h2.6M325.8 235.9h4.9M286.7 237.8h1.8M436.2 237.8h2.5M453.6 241.2h2.1M510.1 241.3h3M572.6 241h2.8M321.2 242.9h2.5M556.6 243h2.6M369.5 246.7h2.4M382.8 246.7h5M291.8 250.2h3M328.8 251.8h5.3M331.5 253.6h5.5M420.1 253.9h4.7M315.5 255.5h5.8M452.3 261.1h2M348.4 262.9h3.6M516.6 262.8h3.1M558 266.4h2.6M372.5 268.4h2.6M541.4 271.7h2.4M392.7 273.5h1.5M418.5 273.7h4.2M465.7 275.2h3.3" stroke="#fdb462" stroke-width="1.35" stroke-opacity="0.85"/>
<path d="M427.9 235.7h4.6M483.5 236h3.9M317.8 237.8h5.2M399.5 241.3h4.7M458.9 241h3.3M285.7 243.1h3.8M497.1 243h1.9M381.9 244.8h2.6M445 244.6h4.5M395.7 246.6h12.5M320.5 248.6h3.9M393.7 248.3h2.6M557 248.4h4.4M436.2 250.4h1.2M336.4 251.8h3.1M500.4 252.2h3.9M395.2 255.8h5.4M555.2 260.8h3.8M577.8 266.2h3.9" stroke="#fc8d62" stroke-width="1.35" stroke-opacity="0.85"/>
<path d="M508.7 235.8h4.7M516.9 237.8h2.2M349.6 239.6h4.7M306 241.3h3.3M285.3 246.4h6.7M537.2 248.3h2.6M584.8 250h4.2M494.5 253.9h4.1M526.7 259h4.1M399.8 260.8h1.6M467.5 262.8h2.8M321.1 269.8h5.6M467.4 270h1.7M450 271.9h3.8M331.8 275.3h3.3M531.4 275.2h2.2" stroke="#66c2a5" stroke-width="1.35" stroke-opacity="0.85"/>
<path d="M532.1 236h4.3M541.1 235.9h2.7M579.9 237.4h4.6M297.3 239.4h1.8M430.4 239.4h3.5M537.8 243.2h2M436.2 244.7h2.3M572.8 246.7h4.7M483.9 248.4h3M494.6 252.1h5M520 253.6h3.2M293.2 255.6h1.9M341 257.3h4.6M450.9 257.5h2.6M342.5 261h6M290.5 266.3h3.5M439.1 266.6h2.9M317.3 271.6h1.8M309.1 275.4h2.6M340.5 275.5h3.9M510.6 275.4h1.6M566.7 275.5h5.6" stroke="#35978f" stroke-width="1.35" stroke-opacity="0.85"/>
<path d="M369.3 237.4h3.7M392.4 237.4h4.1M350.7 244.7h6.4M362 244.8h4.9M492 246.5h3.4M583.1 246.4h3.7M298.2 248.3h3.4M402.8 250.3h3.3M412.2 252.2h3M575.1 253.7h1.5M541.1 255.6h0.6M426.5 257.5h3.5M315.4 259.1h2.1M401.9 260.9h4.2M371.3 264.8h4M331.9 268.2h1.6M364 268h3.5M367.8 268.3h2.9M551.4 270.2h4.3M559.2 269.9h4.3M314.9 271.8h1.5M319.4 272h2.1M544.1 271.6h4.7M506.4 275.3h2.6" stroke="#4393c3" stroke-width="1.35" stroke-opacity="0.85"/>
<path d="M528.9 237.4h2.1M384.7 239.3h2.2M450.4 239.2h4.1M328 241.3h4.2M343.8 241.1h3.4M429 241.4h3.8M591.1 246.7h2.7M556.3 250.3h1.5M570.5 250h4.2M503.1 253.9h4.1M563 259.4h5.4M573.9 259.2h3.8M290.2 260.9h4M296.6 268h5M558.3 268.4h3.4M291.3 269.9h3.9M327.6 272h4.1M457.9 273.6h3M359.7 275.4h4.8" stroke="#e78ac3" stroke-width="1.35" stroke-opacity="0.85"/>
<path d="M537.5 237.7h2.3M574.5 237.6h4.6M333.6 241h7M355.4 241.2h3.1M361.2 241.4h4.7M488.4 242.9h2.3M369.7 245h5.2M507.8 245h5M541.4 244.7h3.6M350.6 246.5h4.8M326.9 248.4h5.9M296.8 253.8h2.1M406.1 253.6h3.5M464 253.8h1.8M432.2 255.8h2.7M443 257.5h3.5M303.6 259h3.6M590.3 259.3h3.5M581.8 260.9h3.9M295.1 262.9h2M459.9 262.9h4.8M541.1 264.5h0.9M493.9 268.4h4.2M429.5 270.1h3.5M518.1 270.2h3M356.2 273.6h4.9M541.1 273.5h2.1" stroke="#1f78b4" stroke-width="1.35" stroke-opacity="0.85"/>
<line x1="268.6" y1="176.4" x2="268.6" y2="284.9" stroke="#000" stroke-width="1.1"/>
<line x1="268.1" y1="284.4" x2="608.6" y2="284.4" stroke="#000" stroke-width="1.1"/>
<line x1="266.3" y1="230.3" x2="268.6" y2="230.3" stroke="#333" stroke-width="0.9"/>
<text x="264" y="233" font-size="7.6" text-anchor="end" fill="#4d4d4d">0</text>
<line x1="266.3" y1="205.5" x2="268.6" y2="205.5" stroke="#333" stroke-width="0.9"/>
<text x="264" y="208.2" font-size="7.6" text-anchor="end" fill="#4d4d4d">50</text>
<line x1="266.3" y1="180.8" x2="268.6" y2="180.8" stroke="#333" stroke-width="0.9"/>
<text x="264" y="183.5" font-size="7.6" text-anchor="end" fill="#4d4d4d">100</text>
<line x1="284" y1="284.4" x2="284" y2="286.9" stroke="#222" stroke-width="1.0"/>
<text x="284" y="294.7" font-size="7.6" text-anchor="middle" fill="#4d4d4d">0kb</text>
<line x1="363" y1="284.4" x2="363" y2="286.9" stroke="#222" stroke-width="1.0"/>
<text x="363" y="294.7" font-size="7.6" text-anchor="middle" fill="#4d4d4d">200kb</text>
<line x1="442" y1="284.4" x2="442" y2="286.9" stroke="#222" stroke-width="1.0"/>
<text x="442" y="294.7" font-size="7.6" text-anchor="middle" fill="#4d4d4d">400kb</text>
<line x1="521" y1="284.4" x2="521" y2="286.9" stroke="#222" stroke-width="1.0"/>
<text x="521" y="294.7" font-size="7.6" text-anchor="middle" fill="#4d4d4d">600kb</text>
<line x1="600" y1="284.4" x2="600" y2="286.9" stroke="#222" stroke-width="1.0"/>
<text x="600" y="294.7" font-size="7.6" text-anchor="middle" fill="#4d4d4d">800kb</text>
<text x="438.6" y="304.8" font-size="9.6" text-anchor="middle">Scaffold coordinate</text>
<text x="241.9" y="230.4" font-size="9.6" text-anchor="middle" transform="rotate(-90 241.9 230.4)">Coverage</text>
<text x="250.8" y="212.1" font-size="7.8" text-anchor="middle" transform="rotate(-90 250.8 212.1)">Illumina</text>
<text x="253.6" y="255.5" font-size="7.8" text-anchor="middle" transform="rotate(-90 253.6 255.5)">Nanopore</text>
<text x="269.5" y="169.2" font-size="11.1"><tspan font-style="italic">Faecalibacterium longum</tspan> 928_bin.13</text>
<path transform="matrix(0.25 0 0 -0.25 280.1 386.8)" d="M0 0L0 30 1 29 2 29 3 37 4 32 5 23 6 50 7 30 8 33 9 38 10 38 11 49 12 38 13 30 14 35 15 50 16 32 17 56 18 21 19 33 20 43 21 36 22 27 23 33 24 33 25 41 26 44 27 44 28 26 29 37 30 32 31 30 32 29 33 35 34 26 35 54 36 20 37 48 38 35 39 31 40 27 41 24 42 24 43 38 44 33 45 36 46 32 47 45 48 32 49 37 50 46 51 37 52 36 53 38 54 23 55 28 56 34 57 39 58 19 59 34 60 38 61 36 62 33 63 42 64 31 65 34 66 36 67 33 68 29 69 39 70 56 71 38 72 63 73 48 74 89 75 76 76 46 77 98 78 75 79 48 80 60 81 66 82 71 83 71 84 55 85 57 86 62 87 48 88 56 89 95 90 53 91 56 92 67 93 74 94 104 95 103 96 59 97 55 98 77 99 107 100 56 101 91 102 93 103 53 104 63 105 97 106 54 107 67 108 87 109 56 110 107 111 75 112 77 113 101 114 84 115 61 116 82 117 57 118 55 119 68 120 78 121 72 122 75 123 67 124 95 125 85 126 70 127 83 128 50 129 68 130 61 131 73 132 70 133 60 134 64 135 108 136 79 137 75 138 40 139 85 140 73 141 99 142 67 143 100 144 92 145 69 146 88 147 47 148 75 149 76 150 90 151 54 152 58 153 48 154 63 155 80 156 66 157 103 158 60 159 48 160 64 161 75 162 56 163 56 164 50 165 66 166 81 167 63 168 60 169 52 170 85 171 75 172 70 173 48 174 55 175 35 176 86 177 60 178 88 179 78 180 102 181 69 182 81 183 51 184 45 185 96 186 64 187 54 188 48 189 75 190 79 191 44 192 88 193 88 194 109 195 71 196 107 197 42 198 57 199 55 200 38 201 60 202 66 203 55 204 35 205 93 206 108 207 57 208 54 209 83 210 56 211 52 212 72 213 74 214 110 215 66 216 72 217 50 218 98 219 110 220 60 221 69 222 80 223 55 224 79 225 104 226 110 227 52 228 42 229 75 230 50 231 104 232 105 233 61 234 88 235 87 236 79 237 73 238 108 239 63 240 49 241 59 242 91 243 107 244 63 245 71 246 59 247 74 248 61 249 99 250 43 251 103 252 57 253 59 254 50 255 43 256 78 257 105 258 53 259 50 260 91 261 92 262 69 263 63 264 30 265 83 266 61 267 77 268 57 269 59 270 62 271 80 272 76 273 81 274 83 275 77 276 64 277 92 278 73 279 73 280 49 281 88 282 48 283 62 284 74 285 105 286 84 287 77 288 72 289 56 290 60 291 111 292 74 293 95 294 45 295 54 296 88 297 55 298 67 299 78 300 79 301 80 302 57 303 60 304 73 305 90 306 68 307 64 308 112 309 45 310 69 311 69 312 84 313 99 314 88 315 111 316 52 317 51 318 58 319 48 320 38 321 68 322 68 323 85 324 76 325 47 326 107 327 99 328 68 329 95 330 52 331 61 332 67 333 112 334 55 335 48 336 87 337 57 338 46 339 41 340 70 341 109 342 33 343 53 344 87 345 112 346 55 347 79 348 68 349 96 350 107 351 41 352 56 353 75 354 58 355 79 356 57 357 61 358 56 359 95 360 65 361 75 362 65 363 58 364 86 365 84 366 72 367 75 368 61 369 69 370 52 371 73 372 105 373 56 374 73 375 54 376 78 377 64 378 84 379 93 380 90 381 113 382 85 383 32 384 58 385 43 386 65 387 52 388 59 389 63 390 69 391 68 392 88 393 79 394 58 395 88 396 65 397 59 398 88 399 85 400 114 401 52 402 105 403 43 404 96 405 75 406 100 407 83 408 91 409 61 410 83 411 102 412 107 413 49 414 68 415 47 416 85 417 54 418 57 419 49 420 66 421 66 422 62 423 56 424 60 425 61 426 56 427 107 428 114 429 46 430 37 431 57 432 56 433 32 434 57 435 52 436 47 437 90 438 85 439 53 440 78 441 73 442 70 443 70 444 64 445 81 446 72 447 94 448 74 449 58 450 101 451 58 452 76 453 66 454 51 455 115 456 82 457 61 458 60 459 54 460 73 461 115 462 82 463 94 464 79 465 115 466 68 467 85 468 76 469 48 470 74 471 71 472 64 473 65 474 50 475 84 476 68 477 72 478 67 479 89 480 63 481 53 482 115 483 105 484 74 485 90 486 88 487 65 488 101 489 55 490 115 491 52 492 61 493 93 494 89 495 89 496 81 497 85 498 85 499 66 500 116 501 64 502 69 503 67 504 64 505 59 506 67 507 93 508 48 509 66 510 61 511 56 512 102 513 67 514 63 515 116 516 49 517 116 518 55 519 88 520 106 521 116 522 84 523 58 524 85 525 116 526 99 527 116 528 69 529 105 530 67 531 99 532 72 533 56 534 94 535 89 536 68 537 91 538 117 539 117 540 87 541 89 542 118 543 118 544 118 545 118 546 66 547 116 548 100 549 73 550 102 551 77 552 97 553 72 554 78 555 96 556 69 557 81 558 63 559 68 560 79 561 52 562 95 563 72 564 57 565 49 566 75 567 104 568 71 569 54 570 98 571 91 572 88 573 35 574 78 575 81 576 59 577 63 578 64 579 62 580 84 581 48 582 35 583 95 584 68 585 108 586 72 587 69 588 99 589 81 590 68 591 66 592 80 593 74 594 75 595 62 596 62 597 68 598 60 599 64 600 106 601 80 602 57 603 58 604 59 605 63 606 80 607 68 608 95 609 104 610 118 611 61 612 75 613 78 614 101 615 97 616 87 617 66 618 95 619 89 620 61 621 73 622 104 623 90 624 50 625 76 626 108 627 70 628 54 629 85 630 68 631 44 632 70 633 84 634 80 635 119 636 55 637 36 638 44 639 74 640 83 641 93 642 56 643 63 644 77 645 99 646 48 647 62 648 84 649 84 650 119 651 56 652 81 653 97 654 72 655 82 656 79 657 98 658 73 659 70 660 96 661 86 662 111 663 60 664 50 665 89 666 85 667 78 668 103 669 54 670 73 671 85 672 86 673 63 674 80 675 52 676 119 677 92 678 70 679 104 680 67 681 52 682 47 683 120 684 100 685 50 686 66 687 76 688 46 689 110 690 44 691 120 692 70 693 78 694 80 695 105 696 63 697 69 698 116 699 81 700 93 701 107 702 108 703 58 704 70 705 76 706 77 707 100 708 108 709 78 710 61 711 84 712 103 713 90 714 115 715 76 716 93 717 60 718 84 719 56 720 78 721 92 722 82 723 103 724 72 725 86 726 75 727 82 728 81 729 71 730 90 731 54 732 51 733 83 734 65 735 40 736 56 737 72 738 70 739 81 740 64 741 73 742 97 743 85 744 57 745 75 746 90 747 79 748 45 749 43 750 121 751 77 752 96 753 78 754 74 755 78 756 68 757 68 758 67 759 72 760 114 761 96 762 115 763 106 764 99 765 78 766 76 767 85 768 55 769 113 770 69 771 48 772 88 773 69 774 91 775 96 776 100 777 100 778 80 779 111 780 81 781 41 782 115 783 64 784 114 785 71 786 82 787 80 788 122 789 47 790 78 791 106 792 71 793 62 794 69 795 82 796 42 797 73 798 108 799 87 800 89 801 53 802 48 803 81 804 73 805 54 806 62 807 71 808 82 809 62 810 44 811 85 812 66 813 62 814 70 815 118 816 68 817 85 818 60 819 73 820 63 821 81 822 67 823 72 824 123 825 70 826 63 827 96 828 65 829 95 830 51 831 68 832 76 833 122 834 65 835 52 836 109 837 51 838 71 839 71 840 60 841 71 842 54 843 86 844 52 845 89 846 98 847 95 848 75 849 115 850 94 851 87 852 123 853 72 854 103 855 67 856 87 857 54 858 108 859 100 860 58 861 112 862 64 863 72 864 73 865 79 866 77 867 79 868 102 869 60 870 123 871 105 872 71 873 69 874 55 875 115 876 52 877 50 878 95 879 78 880 124 881 77 882 58 883 67 884 52 885 80 886 80 887 82 888 67 889 101 890 64 891 74 892 100 893 65 894 121 895 47 896 96 897 61 898 58 899 78 900 91 901 66 902 66 903 96 904 48 905 79 906 86 907 63 908 72 909 69 910 68 911 89 912 80 913 66 914 58 915 77 916 112 917 88 918 96 919 81 920 125 921 97 922 71 923 87 924 54 925 124 926 50 927 85 928 125 929 47 930 75 931 59 932 96 933 67 934 76 935 51 936 74 937 81 938 102 939 55 940 62 941 103 942 88 943 62 944 92 945 72 946 74 947 99 948 58 949 72 950 79 951 101 952 53 953 57 954 57 955 74 956 62 957 81 958 98 959 101 960 65 961 99 962 64 963 57 964 64 965 62 966 80 967 53 968 66 969 68 970 105 971 84 972 91 973 103 974 104 975 91 976 56 977 77 978 71 979 126 980 82 981 78 982 88 983 98 984 74 985 111 986 39 987 99 988 115 989 89 990 61 991 74 992 118 993 83 994 96 995 70 996 64 997 68 998 126 999 82 1000 78 1001 56 1002 95 1003 89 1004 67 1005 36 1006 44 1007 52 1008 68 1009 86 1010 51 1011 56 1012 78 1013 70 1014 93 1015 74 1016 126 1017 69 1018 70 1019 88 1020 76 1021 68 1022 55 1023 67 1024 89 1025 109 1026 98 1027 65 1028 74 1029 52 1030 53 1031 57 1032 68 1033 73 1034 69 1035 75 1036 105 1037 86 1038 44 1039 75 1040 82 1041 126 1042 90 1043 55 1044 69 1045 89 1046 71 1047 93 1048 84 1049 73 1050 74 1051 71 1052 127 1053 55 1054 59 1055 78 1056 94 1057 52 1058 48 1059 104 1060 52 1061 68 1062 80 1063 76 1064 53 1065 104 1066 125 1067 86 1068 99 1069 82 1070 59 1071 108 1072 88 1073 43 1074 77 1075 89 1076 67 1077 87 1078 111 1079 87 1080 80 1081 85 1082 82 1083 57 1084 47 1085 71 1086 79 1087 84 1088 91 1089 50 1090 49 1091 67 1092 91 1093 71 1094 85 1095 76 1096 89 1097 104 1098 94 1099 73 1100 75 1101 118 1102 128 1103 69 1104 75 1105 74 1106 120 1107 71 1108 109 1109 100 1110 129 1111 64 1112 86 1113 75 1114 105 1115 49 1116 79 1117 68 1118 86 1119 103 1120 81 1121 82 1122 85 1123 91 1124 83 1125 95 1126 76 1127 74 1128 99 1129 115 1130 66 1131 84 1132 65 1133 63 1134 55 1135 115 1136 106 1137 104 1138 81 1139 69 1140 100 1141 99 1142 64 1143 62 1144 98 1145 46 1146 79 1147 80 1148 66 1149 70 1150 82 1151 81 1152 57 1153 38 1154 72 1155 98 1156 103 1157 94 1158 86 1159 74 1160 65 1161 60 1162 130 1163 88 1164 69 1165 80 1166 76 1167 97 1168 74 1169 78 1170 82 1171 112 1172 125 1173 82 1174 70 1175 57 1176 88 1177 97 1178 130 1179 64 1180 63 1181 85 1182 91 1183 122 1184 76 1185 78 1186 78 1187 82 1188 80 1189 84 1190 78 1191 84 1192 81 1193 61 1194 58 1195 77 1196 102 1197 72 1198 96 1199 60 1200 53 1201 52 1202 89 1203 113 1204 55 1205 57 1206 99 1207 63 1208 70 1209 96 1210 95 1211 72 1212 97 1213 131 1214 83 1215 55 1216 111 1217 67 1218 61 1219 70 1220 40 1221 101 1222 131 1223 48 1224 66 1225 131 1226 92 1227 82 1228 96 1229 85 1230 89 1231 85 1232 88 1233 75 1234 101 1235 42 1236 105 1237 122 1238 56 1239 42 1240 66 1241 78 1242 92 1243 84 1244 60 1245 49 1246 91 1247 106 1248 117 1249 77 1250 90 1251 87 1252 74 1253 132 1254 80L1254 0Z" fill="#ff1493" fill-opacity="0.5"/>
<path transform="matrix(0.25 0 0 -0.25 280.1 386.8)" d="M0 0L0 73 1 104 2 79 3 86 4 74 5 66 6 70 7 93 8 89 9 76 10 86 11 51 12 108 13 66 14 52 15 77 16 64 17 89 18 88 19 52 20 53 21 66 22 65 23 78 24 74 25 95 26 89 27 90 28 80 29 91 30 92 31 70 32 84 33 77 34 69 35 67 36 100 37 57 38 58 39 95 40 56 41 60 42 58 43 65 44 67 45 87 46 84 47 82 48 58 49 68 50 95 51 81 52 70 53 88 54 61 55 97 56 42 57 75 58 68 59 63 60 101 61 61 62 82 63 65 64 75 65 89 66 92 67 78 68 73 69 74 70 56 71 77 72 112 73 132 74 134 75 109 76 141 77 129 78 201 79 79 80 165 81 168 82 139 83 122 84 146 85 154 86 132 87 109 88 161 89 113 90 96 91 110 92 138 93 136 94 105 95 121 96 134 97 131 98 166 99 157 100 137 101 102 102 121 103 106 104 97 105 202 106 160 107 100 108 98 109 198 110 145 111 105 112 106 113 128 114 110 115 122 116 140 117 165 118 132 119 139 120 153 121 107 122 137 123 180 124 132 125 125 126 135 127 114 128 147 129 117 130 162 131 166 132 117 133 144 134 82 135 157 136 196 137 98 138 109 139 92 140 126 141 143 142 171 143 142 144 136 145 81 146 95 147 127 148 76 149 153 150 169 151 107 152 101 153 131 154 161 155 125 156 127 157 116 158 117 159 150 160 151 161 118 162 139 163 135 164 114 165 184 166 148 167 134 168 106 169 95 170 138 171 115 172 98 173 124 174 120 175 102 176 121 177 169 178 120 179 180 180 161 181 184 182 135 183 111 184 116 185 133 186 94 187 151 188 127 189 129 190 176 191 162 192 147 193 135 194 212 195 189 196 128 197 115 198 89 199 87 200 132 201 99 202 144 203 111 204 109 205 139 206 149 207 99 208 100 209 142 210 126 211 81 212 137 213 149 214 135 215 124 216 85 217 143 218 99 219 145 220 144 221 92 222 179 223 140 224 108 225 111 226 141 227 126 228 79 229 152 230 186 231 149 232 153 233 150 234 122 235 130 236 125 237 100 238 182 239 92 240 107 241 76 242 113 243 117 244 127 245 119 246 156 247 125 248 166 249 104 250 104 251 103 252 131 253 169 254 119 255 124 256 150 257 169 258 91 259 144 260 133 261 179 262 124 263 102 264 88 265 155 266 106 267 116 268 122 269 110 270 120 271 134 272 106 273 163 274 147 275 167 276 123 277 102 278 107 279 176 280 135 281 84 282 147 283 125 284 97 285 110 286 114 287 140 288 123 289 136 290 94 291 138 292 116 293 118 294 128 295 155 296 108 297 184 298 84 299 160 300 147 301 135 302 121 303 112 304 134 305 143 306 135 307 160 308 202 309 100 310 209 311 108 312 131 313 145 314 121 315 171 316 101 317 92 318 147 319 143 320 171 321 155 322 117 323 129 324 104 325 137 326 116 327 140 328 120 329 132 330 102 331 182 332 109 333 164 334 144 335 126 336 188 337 110 338 128 339 117 340 100 341 133 342 153 343 109 344 140 345 155 346 115 347 149 348 130 349 151 350 144 351 149 352 130 353 191 354 105 355 118 356 156 357 134 358 239 359 156 360 146 361 188 362 115 363 167 364 101 365 151 366 111 367 140 368 130 369 211 370 86 371 143 372 102 373 175 374 159 375 109 376 130 377 149 378 150 379 142 380 166 381 98 382 162 383 123 384 102 385 136 386 132 387 108 388 162 389 147 390 135 391 194 392 168 393 166 394 196 395 99 396 119 397 186 398 127 399 120 400 164 401 116 402 117 403 130 404 114 405 166 406 125 407 180 408 142 409 174 410 136 411 140 412 173 413 114 414 132 415 145 416 108 417 86 418 114 419 80 420 177 421 139 422 147 423 161 424 117 425 145 426 203 427 130 428 150 429 155 430 167 431 157 432 171 433 122 434 97 435 111 436 133 437 203 438 127 439 110 440 92 441 96 442 154 443 112 444 157 445 99 446 141 447 129 448 128 449 114 450 122 451 183 452 100 453 95 454 113 455 102 456 184 457 186 458 134 459 110 460 98 461 142 462 105 463 171 464 91 465 103 466 147 467 131 468 157 469 131 470 106 471 143 472 176 473 141 474 214 475 132 476 166 477 165 478 171 479 116 480 152 481 173 482 101 483 133 484 121 485 139 486 146 487 116 488 139 489 129 490 238 491 104 492 205 493 151 494 185 495 120 496 85 497 197 498 106 499 155 500 189 501 132 502 143 503 131 504 155 505 148 506 152 507 130 508 215 509 215 510 159 511 113 512 118 513 115 514 115 515 153 516 105 517 139 518 126 519 191 520 116 521 117 522 198 523 126 524 97 525 200 526 120 527 134 528 148 529 192 530 125 531 216 532 129 533 113 534 139 535 137 536 106 537 128 538 149 539 154 540 136 541 136 542 216 543 216 544 216 545 216 546 120 547 169 548 191 549 128 550 158 551 96 552 124 553 178 554 143 555 151 556 185 557 126 558 110 559 140 560 217 561 82 562 166 563 167 564 95 565 134 566 113 567 106 568 149 569 157 570 183 571 140 572 135 573 121 574 144 575 168 576 126 577 191 578 106 579 110 580 110 581 105 582 103 583 151 584 144 585 164 586 181 587 109 588 158 589 140 590 107 591 119 592 135 593 87 594 143 595 130 596 152 597 100 598 162 599 127 600 127 601 146 602 96 603 162 604 113 605 190 606 130 607 144 608 81 609 103 610 188 611 168 612 154 613 159 614 127 615 111 616 130 617 118 618 110 619 119 620 202 621 160 622 147 623 83 624 143 625 126 626 100 627 132 628 107 629 177 630 110 631 122 632 199 633 132 634 127 635 179 636 111 637 152 638 131 639 124 640 110 641 103 642 102 643 196 644 175 645 128 646 159 647 105 648 134 649 160 650 133 651 142 652 149 653 188 654 187 655 123 656 134 657 117 658 123 659 122 660 123 661 135 662 104 663 165 664 151 665 191 666 146 667 111 668 111 669 141 670 107 671 92 672 118 673 106 674 121 675 161 676 229 677 197 678 202 679 188 680 107 681 106 682 144 683 130 684 142 685 108 686 140 687 190 688 142 689 113 690 123 691 167 692 100 693 120 694 102 695 126 696 208 697 124 698 122 699 133 700 101 701 207 702 127 703 182 704 122 705 129 706 92 707 158 708 93 709 178 710 145 711 126 712 179 713 200 714 123 715 140 716 132 717 200 718 195 719 134 720 149 721 121 722 144 723 99 724 192 725 128 726 144 727 116 728 94 729 161 730 129 731 169 732 154 733 151 734 159 735 168 736 145 737 133 738 158 739 137 740 107 741 127 742 151 743 95 744 120 745 146 746 165 747 119 748 136 749 126 750 208 751 124 752 99 753 164 754 129 755 186 756 180 757 100 758 147 759 170 760 172 761 124 762 159 763 172 764 130 765 160 766 149 767 155 768 117 769 192 770 141 771 173 772 157 773 102 774 167 775 128 776 88 777 122 778 139 779 124 780 178 781 125 782 192 783 111 784 160 785 175 786 134 787 168 788 124 789 138 790 110 791 164 792 137 793 214 794 160 795 170 796 122 797 80 798 158 799 133 800 90 801 131 802 105 803 137 804 130 805 238 806 124 807 124 808 113 809 121 810 134 811 142 812 92 813 130 814 126 815 116 816 190 817 133 818 118 819 150 820 95 821 110 822 196 823 120 824 112 825 128 826 162 827 110 828 148 829 183 830 113 831 142 832 107 833 126 834 138 835 104 836 173 837 122 838 113 839 108 840 136 841 149 842 88 843 141 844 164 845 102 846 144 847 149 848 132 849 157 850 106 851 226 852 123 853 121 854 174 855 97 856 133 857 209 858 226 859 119 860 168 861 166 862 147 863 191 864 147 865 130 866 165 867 226 868 177 869 117 870 134 871 129 872 135 873 132 874 194 875 196 876 138 877 176 878 183 879 140 880 155 881 202 882 124 883 169 884 90 885 160 886 161 887 128 888 135 889 106 890 123 891 117 892 101 893 80 894 102 895 152 896 154 897 119 898 201 899 152 900 111 901 156 902 137 903 103 904 114 905 131 906 97 907 125 908 159 909 126 910 144 911 163 912 124 913 148 914 144 915 153 916 225 917 180 918 168 919 171 920 150 921 185 922 155 923 199 924 175 925 142 926 116 927 162 928 100 929 165 930 166 931 127 932 158 933 134 934 205 935 184 936 148 937 123 938 128 939 172 940 108 941 102 942 161 943 110 944 156 945 86 946 220 947 107 948 168 949 202 950 130 951 170 952 111 953 134 954 138 955 135 956 253 957 147 958 91 959 125 960 152 961 179 962 118 963 196 964 128 965 161 966 150 967 223 968 155 969 150 970 107 971 130 972 166 973 149 974 137 975 196 976 157 977 192 978 124 979 112 980 128 981 209 982 140 983 138 984 138 985 94 986 173 987 164 988 164 989 145 990 180 991 106 992 100 993 183 994 135 995 230 996 170 997 201 998 131 999 103 1000 128 1001 117 1002 151 1003 148 1004 203 1005 190 1006 135 1007 195 1008 144 1009 153 1010 164 1011 120 1012 157 1013 136 1014 151 1015 231 1016 206 1017 102 1018 104 1019 146 1020 96 1021 103 1022 189 1023 102 1024 186 1025 158 1026 104 1027 114 1028 217 1029 123 1030 126 1031 98 1032 133 1033 152 1034 165 1035 123 1036 170 1037 126 1038 114 1039 130 1040 232 1041 106 1042 112 1043 232 1044 134 1045 134 1046 132 1047 155 1048 144 1049 216 1050 158 1051 159 1052 131 1053 134 1054 109 1055 121 1056 123 1057 154 1058 135 1059 101 1060 132 1061 230 1062 209 1063 136 1064 121 1065 119 1066 134 1067 133 1068 130 1069 197 1070 152 1071 124 1072 120 1073 211 1074 139 1075 156 1076 157 1077 144 1078 125 1079 206 1080 118 1081 121 1082 146 1083 132 1084 127 1085 188 1086 110 1087 95 1088 123 1089 76 1090 133 1091 143 1092 210 1093 118 1094 212 1095 161 1096 138 1097 199 1098 106 1099 138 1100 119 1101 97 1102 108 1103 87 1104 93 1105 121 1106 176 1107 115 1108 160 1109 121 1110 138 1111 138 1112 122 1113 138 1114 173 1115 116 1116 137 1117 117 1118 87 1119 125 1120 167 1121 123 1122 144 1123 149 1124 181 1125 134 1126 118 1127 190 1128 141 1129 149 1130 135 1131 151 1132 95 1133 162 1134 123 1135 178 1136 196 1137 114 1138 122 1139 176 1140 149 1141 121 1142 154 1143 183 1144 150 1145 119 1146 140 1147 132 1148 136 1149 151 1150 186 1151 107 1152 174 1153 123 1154 178 1155 197 1156 143 1157 146 1158 114 1159 97 1160 121 1161 123 1162 174 1163 113 1164 136 1165 162 1166 132 1167 125 1168 166 1169 175 1170 236 1171 163 1172 112 1173 120 1174 147 1175 118 1176 162 1177 138 1178 160 1179 158 1180 111 1181 112 1182 165 1183 142 1184 146 1185 150 1186 170 1187 142 1188 190 1189 161 1190 209 1191 236 1192 132 1193 164 1194 140 1195 152 1196 156 1197 126 1198 181 1199 129 1200 198 1201 144 1202 189 1203 139 1204 112 1205 163 1206 117 1207 202 1208 175 1209 186 1210 187 1211 151 1212 143 1213 231 1214 133 1215 117 1216 221 1217 171 1218 145 1219 143 1220 163 1221 189 1222 144 1223 131 1224 140 1225 153 1226 172 1227 204 1228 175 1229 162 1230 134 1231 138 1232 132 1233 125 1234 165 1235 189 1236 177 1237 128 1238 222 1239 134 1240 129 1241 157 1242 145 1243 165 1244 143 1245 162 1246 131 1247 189 1248 182 1249 148 1250 168 1251 211 1252 160 1253 183 1254 151L1254 0Z" fill="#00bfff" fill-opacity="0.5"/>
<path transform="matrix(0.25 0 0 -0.25 280.1 386.8)" d="M0 0L0 19 1 9 2 12 3 3 4 8 5 19 6 19 7 5 8 4 9 19 10 19 11 19 12 11 13 15 14 7 15 19 16 6 17 12 18 17 19 11 20 4 21 19 22 14 23 7 24 19 25 19 26 10 27 1 28 15 29 4 30 19 31 19 32 16 33 6 34 7 35 7 36 3 37 19 38 3 39 3 40 19 41 19 42 19 43 19 44 19 45 19 46 3 47 19 48 8 49 8 50 19 51 6 52 19 53 5 54 77 55 10 56 13 57 16 58 19 59 46 60 7 61 19 62 9 63 12 64 8 65 20 66 8 67 2 68 12 69 19 70 4 71 5 72 5 73 9 74 17 75 13 76 7 77 10 78 6 79 19 80 15 81 13 82 16 83 3 84 19 85 19 86 7 87 9 88 2 89 19 90 27 91 8 92 19 93 19 94 19 95 8 96 7 97 13 98 5 99 13 100 6 101 12 102 10 103 19 104 19 105 6 106 8 107 5 108 8 109 9 110 8 111 19 112 19 113 4 114 3 115 2 116 12 117 12 118 19 119 11 120 2 121 4 122 11 123 1 124 1 125 9 126 19 127 19 128 6 129 19 130 13 131 19 132 8 133 2 134 9 135 8 136 19 137 19 138 19 139 2 140 19 141 6 142 21 143 5 144 10 145 9 146 10 147 19 148 19 149 9 150 19 151 17 152 11 153 19 154 15 155 9 156 3 157 4 158 12 159 19 160 8 161 5 162 19 163 19 164 7 165 6 166 15 167 19 168 3 169 9 170 8 171 19 172 8 173 11 174 6 175 19 176 19 177 19 178 6 179 3 180 19 181 19 182 19 183 3 184 13 185 4 186 19 187 3 188 19 189 4 190 19 191 8 192 19 193 9 194 14 195 7 196 17 197 10 198 10 199 19 200 3 201 5 202 12 203 14 204 19 205 19 206 3 207 6 208 19 209 7 210 13 211 19 212 5 213 6 214 5 215 19 216 19 217 8 218 9 219 12 220 14 221 19 222 10 223 13 224 19 225 15 226 4 227 14 228 14 229 19 230 8 231 3 232 19 233 19 234 11 235 5 236 19 237 13 238 10 239 6 240 5 241 19 242 5 243 3 244 3 245 19 246 5 247 19 248 9 249 7 250 3 251 19 252 5 253 9 254 2 255 6 256 6 257 19 258 10 259 18 260 13 261 5 262 11 263 3 264 4 265 19 266 19 267 13 268 19 269 5 270 9 271 6 272 4 273 12 274 19 275 12 276 1 277 10 278 11 279 8 280 19 281 11 282 19 283 11 284 17 285 3 286 14 287 6 288 2 289 11 290 9 291 15 292 7 293 17 294 19 295 5 296 7 297 19 298 19 299 6 300 19 301 19 302 19 303 2 304 16 305 19 306 16 307 2 308 19 309 1 310 4 311 9 312 2 313 5 314 14 315 19 316 15 317 19 318 19 319 5 320 19 321 10 322 19 323 19 324 19 325 19 326 11 327 14 328 2 329 6 330 12 331 14 332 12 333 9 334 10 335 17 336 19 337 9 338 14 339 19 340 19 341 19 342 9 343 12 344 5 345 9 346 11 347 19 348 38 349 19 350 6 351 19 352 8 353 19 354 19 355 13 356 7 357 7 358 14 359 19 360 19 361 19 362 14 363 19 364 19 365 12 366 13 367 14 368 7 369 4 370 9 371 19 372 10 373 18 374 4 375 2 376 17 377 7 378 19 379 11 380 16 381 19 382 14 383 5 384 7 385 15 386 14 387 19 388 9 389 16 390 5 391 19 392 7 393 16 394 5 395 2 396 11 397 19 398 16 399 11 400 19 401 19 402 19 403 19 404 19 405 19 406 19 407 3 408 6 409 10 410 8 411 19 412 4 413 11 414 23 415 2 416 19 417 3 418 17 419 19 420 19 421 19 422 6 423 10 424 19 425 6 426 26 427 19 428 8 429 19 430 4 431 19 432 13 433 4 434 19 435 12 436 19 437 19 438 13 439 19 440 4 441 1 442 19 443 19 444 3 445 19 446 11 447 10 448 19 449 4 450 21 451 5 452 9 453 5 454 19 455 4 456 6 457 9 458 17 459 19 460 8 461 4 462 10 463 18 464 3 465 6 466 1 467 4 468 8 469 5 470 19 471 4 472 19 473 4 474 6 475 4 476 10 477 19 478 19 479 19 480 7 481 19 482 17 483 19 484 3 485 19 486 18 487 19 488 8 489 6 490 9 491 19 492 19 493 33 494 12 495 19 496 15 497 15 498 14 499 19 500 8 501 85 502 9 503 7 504 8 505 19 506 7 507 5 508 3 509 19 510 19 511 6 512 5 513 19 514 12 515 4 516 3 517 19 518 12 519 19 520 4 521 19 522 5 523 1 524 19 525 9 526 4 527 19 528 6 529 19 530 6 531 70 532 2 533 1 534 13 535 4 536 11 537 12 538 19 539 7 540 14 541 16 542 176 543 176 544 176 545 176 546 14 547 13 548 19 549 16 550 8 551 6 552 16 553 3 554 19 555 6 556 9 557 19 558 6 559 1 560 19 561 20 562 19 563 4 564 19 565 5 566 19 567 11 568 8 569 19 570 15 571 9 572 19 573 4 574 7 575 19 576 19 577 3 578 12 579 14 580 14 581 6 582 19 583 9 584 19 585 7 586 12 587 19 588 48 589 19 590 10 591 19 592 19 593 19 594 19 595 16 596 19 597 12 598 19 599 14 600 6 601 19 602 6 603 5 604 8 605 19 606 13 607 5 608 19 609 11 610 6 611 8 612 19 613 16 614 1 615 5 616 13 617 19 618 19 619 19 620 19 621 6 622 2 623 19 624 19 625 18 626 19 627 19 628 19 629 6 630 9 631 19 632 19 633 19 634 14 635 7 636 19 637 4 638 16 639 19 640 19 641 2 642 19 643 37 644 5 645 5 646 15 647 5 648 19 649 19 650 19 651 4 652 5 653 14 654 19 655 71 656 19 657 19 658 2 659 8 660 19 661 19 662 19 663 19 664 6 665 19 666 15 667 13 668 19 669 79 670 5 671 19 672 19 673 2 674 19 675 7 676 6 677 12 678 6 679 19 680 86 681 9 682 5 683 19 684 19 685 19 686 93 687 19 688 1 689 9 690 5 691 13 692 12 693 4 694 9 695 9 696 19 697 3 698 14 699 16 700 10 701 12 702 11 703 11 704 12 705 7 706 19 707 14 708 19 709 19 710 3 711 19 712 19 713 35 714 19 715 11 716 14 717 4 718 14 719 3 720 19 721 9 722 17 723 2 724 18 725 13 726 6 727 19 728 19 729 6 730 19 731 4 732 19 733 4 734 7 735 13 736 5 737 7 738 4 739 6 740 3 741 4 742 19 743 12 744 14 745 19 746 7 747 19 748 13 749 19 750 17 751 10 752 6 753 19 754 7 755 16 756 19 757 1 758 6 759 1 760 10 761 4 762 3 763 19 764 19 765 7 766 4 767 13 768 12 769 19 770 19 771 19 772 19 773 17 774 19 775 19 776 19 777 5 778 15 779 19 780 10 781 12 782 4 783 10 784 19 785 4 786 19 787 19 788 6 789 19 790 3 791 3 792 10 793 19 794 6 795 7 796 5 797 101 798 19 799 19 800 6 801 4 802 19 803 16 804 19 805 1 806 17 807 13 808 8 809 5 810 10 811 19 812 12 813 9 814 10 815 4 816 10 817 11 818 8 819 3 820 13 821 19 822 9 823 1 824 19 825 8 826 3 827 19 828 6 829 1 830 13 831 19 832 11 833 4 834 3 835 19 836 5 837 12 838 9 839 8 840 19 841 9 842 29 843 19 844 19 845 16 846 19 847 3 848 11 849 14 850 5 851 10 852 19 853 19 854 19 855 13 856 3 857 19 858 6 859 9 860 18 861 19 862 18 863 19 864 19 865 19 866 4 867 14 868 13 869 19 870 8 871 11 872 11 873 17 874 11 875 8 876 12 877 8 878 26 879 18 880 2 881 19 882 8 883 8 884 4 885 11 886 7 887 8 888 19 889 5 890 10 891 11 892 19 893 6 894 9 895 19 896 19 897 3 898 9 899 2 900 2 901 15 902 5 903 10 904 19 905 14 906 27 907 2 908 19 909 1 910 11 911 8 912 3 913 19 914 19 915 9 916 4 917 11 918 13 919 17 920 19 921 19 922 3 923 2 924 13 925 18 926 10 927 69 928 19 929 9 930 11 931 19 932 7 933 13 934 12 935 19 936 19 937 19 938 12 939 13 940 18 941 3 942 12 943 4 944 5 945 19 946 13 947 19 948 19 949 4 950 11 951 19 952 19 953 2 954 4 955 19 956 4 957 7 958 3 959 9 960 6 961 7 962 3 963 4 964 18 965 4 966 8 967 9 968 19 969 14 970 2 971 5 972 2 973 19 974 8 975 19 976 19 977 10 978 3 979 15 980 4 981 5 982 12 983 12 984 19 985 4 986 17 987 19 988 9 989 9 990 19 991 19 992 8 993 10 994 2 995 4 996 19 997 9 998 7 999 4 1000 3 1001 8 1002 19 1003 16 1004 5 1005 14 1006 10 1007 19 1008 4 1009 5 1010 1 1011 12 1012 7 1013 19 1014 3 1015 8 1016 2 1017 16 1018 5 1019 8 1020 6 1021 5 1022 8 1023 5 1024 19 1025 10 1026 4 1027 4 1028 3 1029 18 1030 10 1031 9 1032 9 1033 19 1034 8 1035 3 1036 19 1037 11 1038 19 1039 1 1040 19 1041 19 1042 19 1043 13 1044 8 1045 4 1046 6 1047 6 1048 19 1049 19 1050 9 1051 19 1052 5 1053 8 1054 2 1055 8 1056 40 1057 19 1058 19 1059 19 1060 10 1061 3 1062 19 1063 7 1064 9 1065 19 1066 19 1067 9 1068 15 1069 19 1070 6 1071 9 1072 19 1073 16 1074 31 1075 19 1076 6 1077 19 1078 2 1079 19 1080 2 1081 19 1082 19 1083 19 1084 4 1085 3 1086 19 1087 7 1088 14 1089 3 1090 9 1091 19 1092 19 1093 3 1094 8 1095 4 1096 19 1097 19 1098 19 1099 3 1100 4 1101 10 1102 4 1103 23 1104 2 1105 3 1106 5 1107 3 1108 11 1109 6 1110 4 1111 1 1112 4 1113 6 1114 14 1115 19 1116 6 1117 8 1118 2 1119 11 1120 19 1121 15 1122 19 1123 19 1124 8 1125 10 1126 15 1127 19 1128 19 1129 10 1130 19 1131 12 1132 13 1133 18 1134 19 1135 18 1136 19 1137 12 1138 19 1139 12 1140 19 1141 4 1142 19 1143 8 1144 15 1145 19 1146 19 1147 3 1148 17 1149 14 1150 6 1151 2 1152 3 1153 8 1154 2 1155 7 1156 61 1157 19 1158 16 1159 19 1160 10 1161 9 1162 19 1163 19 1164 12 1165 19 1166 13 1167 16 1168 17 1169 19 1170 36 1171 16 1172 84 1173 11 1174 7 1175 41 1176 17 1177 19 1178 19 1179 63 1180 13 1181 3 1182 19 1183 19 1184 17 1185 19 1186 19 1187 19 1188 15 1189 19 1190 18 1191 9 1192 15 1193 10 1194 3 1195 8 1196 19 1197 10 1198 40 1199 6 1200 19 1201 3 1202 19 1203 9 1204 19 1205 7 1206 19 1207 3 1208 9 1209 10 1210 10 1211 6 1212 4 1213 11 1214 3 1215 12 1216 19 1217 19 1218 4 1219 51 1220 10 1221 3 1222 19 1223 19 1224 5 1225 3 1226 19 1227 19 1228 19 1229 8 1230 12 1231 12 1232 19 1233 5 1234 4 1235 19 1236 19 1237 6 1238 9 1239 19 1240 13 1241 16 1242 11 1243 19 1244 19 1245 19 1246 19 1247 19 1248 19 1249 19 1250 4 1251 17 1252 5 1253 1 1254 19L1254 0Z" fill="#bebebe" fill-opacity="0.5"/>
<path d="M280.5 432.3h0.1l0.3 3.8l-0.3 3.8h-0.1zM281 432.3h0.3l0.8 3.8l-0.8 3.8h-0.3zM282.2 432.3h0.1l0.2 3.8l-0.2 3.8h-0.1zM282.6 432.3h0.2l0.5 3.8l-0.5 3.8h-0.2zM283.9 432.3h-0.1l-0.4 3.8l0.4 3.8h0.1zM284.6 432.3h0.1l0.3 3.8l-0.3 3.8h-0.1zM286.1 432.3h0.2l0.6 3.8l-0.6 3.8h-0.2zM287 432.3h0.1l0.4 3.8l-0.4 3.8h-0.1zM287.5 432.3h0.1l0.2 3.8l-0.2 3.8h-0.1zM288.4 432.3h-0.1l-0.4 3.8l0.4 3.8h0.1zM288.4 432.3h0.1l0.3 3.8l-0.3 3.8h-0.1zM290.6 432.3h-0.3l-0.8 3.8l0.8 3.8h0.3zM292.1 432.3h-0.3l-0.8 3.8l0.8 3.8h0.3zM292.2 432.3h0.1l0.4 3.8l-0.4 3.8h-0.1zM293.2 432.3h-0.1l-0.4 3.8l0.4 3.8h0.1zM293.3 432.3h0.1l0.3 3.8l-0.3 3.8h-0.1zM293.8 432.3h0.1l0.3 3.8l-0.3 3.8h-0.1zM294.2 432.3h0.1l0.2 3.8l-0.2 3.8h-0.1zM294.6 432.3h0.2l0.6 3.8l-0.6 3.8h-0.2zM296.7 432.3h-0.1l-0.4 3.8l0.4 3.8h0.1zM296.7 432.3h0.2l0.5 3.8l-0.5 3.8h-0.2zM297.8 432.3h-0.1l-0.2 3.8l0.2 3.8h0.1zM297.9 432.3h0.2l0.6 3.8l-0.6 3.8h-0.2zM299.1 432.3h-0.1l-0.2 3.8l0.2 3.8h0.1zM299.2 432.3h0.1l0.2 3.8l-0.2 3.8h-0.1zM300.2 432.3h-0.1l-0.4 3.8l0.4 3.8h0.1zM302 432.3h-0.3l-0.9 3.8l0.9 3.8h0.3zM302.4 432.3h0.1l0.2 3.8l-0.2 3.8h-0.1zM303.6 432.3h-0.2l-0.6 3.8l0.6 3.8h0.2zM303.7 432.3h0.1l0.4 3.8l-0.4 3.8h-0.1zM305 432.3h-0.1l-0.2 3.8l0.2 3.8h0.1zM305.6 432.3h0.1l0.2 3.8l-0.2 3.8h-0.1zM305.9 432.3h0.1l0.4 3.8l-0.4 3.8h-0.1zM306.5 432.3h0.1l0.3 3.8l-0.3 3.8h-0.1zM306.9 432.3h0.1l0.4 3.8l-0.4 3.8h-0.1zM309 432.3h-0.1l-0.4 3.8l0.4 3.8h0.1zM309.1 432.3h0.2l0.5 3.8l-0.5 3.8h-0.2zM310.1 432.3h-0.1l-0.2 3.8l0.2 3.8h0.1zM311.2 432.3h-0.3l-0.8 3.8l0.8 3.8h0.3zM311.3 432.3h0.2l0.5 3.8l-0.5 3.8h-0.2zM312.5 432.3h-0.1l-0.4 3.8l0.4 3.8h0.1zM312.8 432.3h-0.1l-0.2 3.8l0.2 3.8h0.1zM312.9 432.3h0.1l0.2 3.8l-0.2 3.8h-0.1zM313.3 432.3h0.1l0.2 3.8l-0.2 3.8h-0.1zM314.4 432.3h0.1l0.4 3.8l-0.4 3.8h-0.1zM315.5 432.3h-0.1l-0.4 3.8l0.4 3.8h0.1zM315.9 432.3h-0.1l-0.2 3.8l0.2 3.8h0.1zM316 432.3h0.2l0.6 3.8l-0.6 3.8h-0.2zM317.2 432.3h-0.1l-0.3 3.8l0.3 3.8h0.1zM317.8 432.3h-0.1l-0.4 3.8l0.4 3.8h0.1zM318.3 432.3h-0.1l-0.2 3.8l0.2 3.8h0.1zM318.4 432.3h0.1l0.4 3.8l-0.4 3.8h-0.1zM320.5 432.3h-0.1l-0.2 3.8l0.2 3.8h0.1zM321.3 432.3h-0.2l-0.5 3.8l0.5 3.8h0.2zM321.8 432.3h0.2l0.5 3.8l-0.5 3.8h-0.2zM323.4 432.3h-0.1l-0.3 3.8l0.3 3.8h0.1zM324.4 432.3h-0.1l-0.4 3.8l0.4 3.8h0.1zM324.5 432.3h0.1l0.2 3.8l-0.2 3.8h-0.1zM325.7 432.3h-0.1l-0.3 3.8l0.3 3.8h0.1zM328.3 432.3h-0.2l-0.5 3.8l0.5 3.8h0.2zM329.3 432.3h-0.2l-0.6 3.8l0.6 3.8h0.2zM329.9 432.3h-0.1l-0.4 3.8l0.4 3.8h0.1zM330.7 432.3h-0.2l-0.6 3.8l0.6 3.8h0.2zM330.8 432.3h0.2l0.7 3.8l-0.7 3.8h-0.2zM331.8 432.3h0.3l0.9 3.8l-0.9 3.8h-0.3zM333 432.3h0.3l0.8 3.8l-0.8 3.8h-0.3zM334.6 432.3h-0.1l-0.4 3.8l0.4 3.8h0.1zM335.8 432.3h-0.1l-0.4 3.8l0.4 3.8h0.1zM336.4 432.3h-0.1l-0.4 3.8l0.4 3.8h0.1zM337.3 432.3h-0.2l-0.6 3.8l0.6 3.8h0.2zM337.4 432.3h0.1l0.4 3.8l-0.4 3.8h-0.1zM338 432.3h0.1l0.3 3.8l-0.3 3.8h-0.1zM338.8 432.3h-0.1l-0.2 3.8l0.2 3.8h0.1zM338.9 432.3h0.4l1.1 3.8l-1.1 3.8h-0.4zM340.5 432.3h0.1l0.2 3.8l-0.2 3.8h-0.1zM340.9 432.3h0.1l0.4 3.8l-0.4 3.8h-0.1zM341.8 432.3h0.1l0.2 3.8l-0.2 3.8h-0.1zM342.8 432.3h-0.1l-0.4 3.8l0.4 3.8h0.1zM342.9 432.3h0.1l0.3 3.8l-0.3 3.8h-0.1zM343.9 432.3h0.1l0.2 3.8l-0.2 3.8h-0.1zM344.9 432.3h-0.1l-0.4 3.8l0.4 3.8h0.1zM344.9 432.3h0.1l0.3 3.8l-0.3 3.8h-0.1zM346.5 432.3h-0.1l-0.4 3.8l0.4 3.8h0.1zM346.6 432.3h0.1l0.4 3.8l-0.4 3.8h-0.1zM347.7 432.3h-0.1l-0.3 3.8l0.3 3.8h0.1zM347.8 432.3h0.3l1 3.8l-1 3.8h-0.3zM349.5 432.3h-0.1l-0.3 3.8l0.3 3.8h0.1zM349.6 432.3h0.2l0.6 3.8l-0.6 3.8h-0.2zM350.9 432.3h0.1l0.2 3.8l-0.2 3.8h-0.1zM352.1 432.3h-0.1l-0.3 3.8l0.3 3.8h0.1zM352.8 432.3h0.1l0.4 3.8l-0.4 3.8h-0.1zM353.4 432.3h0.3l0.8 3.8l-0.8 3.8h-0.3zM354.8 432.3h-0.1l-0.3 3.8l0.3 3.8h0.1zM355.3 432.3h0.1l0.2 3.8l-0.2 3.8h-0.1zM356.8 432.3h-0.3l-0.9 3.8l0.9 3.8h0.3zM357.5 432.3h-0.2l-0.5 3.8l0.5 3.8h0.2zM357.9 432.3h-0.1l-0.3 3.8l0.3 3.8h0.1zM358.1 432.3h0.2l0.7 3.8l-0.7 3.8h-0.2zM359.4 432.3h0.1l0.2 3.8l-0.2 3.8h-0.1zM360.1 432.3h-0.1l-0.2 3.8l0.2 3.8h0.1zM360.2 432.3h0.1l0.3 3.8l-0.3 3.8h-0.1zM360.6 432.3h0.3l0.9 3.8l-0.9 3.8h-0.3zM361.8 432.3h0.1l0.2 3.8l-0.2 3.8h-0.1zM363.1 432.3h-0.1l-0.3 3.8l0.3 3.8h0.1zM363.1 432.3h0.1l0.4 3.8l-0.4 3.8h-0.1zM363.8 432.3h0.1l0.3 3.8l-0.3 3.8h-0.1zM365.4 432.3h-0.2l-0.7 3.8l0.7 3.8h0.2zM365.9 432.3h-0.1l-0.3 3.8l0.3 3.8h0.1zM366 432.3h0.1l0.3 3.8l-0.3 3.8h-0.1zM366.4 432.3h0.1l0.3 3.8l-0.3 3.8h-0.1zM369.2 432.3h-0.1l-0.2 3.8l0.2 3.8h0.1zM369.3 432.3h0.3l0.8 3.8l-0.8 3.8h-0.3zM370.7 432.3h0.1l0.2 3.8l-0.2 3.8h-0.1zM371.7 432.3h-0.2l-0.5 3.8l0.5 3.8h0.2zM372.2 432.3h-0.1l-0.2 3.8l0.2 3.8h0.1zM372.3 432.3h0.1l0.2 3.8l-0.2 3.8h-0.1zM372.6 432.3h0.1l0.4 3.8l-0.4 3.8h-0.1zM375.1 432.3h-0.1l-0.4 3.8l0.4 3.8h0.1zM376.3 432.3h-0.1l-0.3 3.8l0.3 3.8h0.1zM376.4 432.3h0.1l0.2 3.8l-0.2 3.8h-0.1zM376.7 432.3h0.1l0.2 3.8l-0.2 3.8h-0.1zM377.1 432.3h0.2l0.6 3.8l-0.6 3.8h-0.2zM378 432.3h0.1l0.2 3.8l-0.2 3.8h-0.1zM381.4 432.3h-0.1l-0.3 3.8l0.3 3.8h0.1zM381.8 432.3h-0.1l-0.3 3.8l0.3 3.8h0.1zM381.9 432.3h0.1l0.3 3.8l-0.3 3.8h-0.1zM384.2 432.3h-0.2l-0.6 3.8l0.6 3.8h0.2zM385.1 432.3h0.1l0.4 3.8l-0.4 3.8h-0.1zM385.7 432.3h0.2l0.5 3.8l-0.5 3.8h-0.2zM389.1 432.3h-0.2l-0.5 3.8l0.5 3.8h0.2zM390.2 432.3h-0.1l-0.4 3.8l0.4 3.8h0.1zM392.8 432.3h-0.2l-0.7 3.8l0.7 3.8h0.2zM392.9 432.3h0.1l0.2 3.8l-0.2 3.8h-0.1zM393.3 432.3h0.1l0.2 3.8l-0.2 3.8h-0.1zM394.1 432.3h0.3l0.9 3.8l-0.9 3.8h-0.3zM395.3 432.3h0.1l0.2 3.8l-0.2 3.8h-0.1zM395.8 432.3h0.1l0.3 3.8l-0.3 3.8h-0.1zM396.5 432.3h-0.1l-0.2 3.8l0.2 3.8h0.1zM396.9 432.3h-0.1l-0.3 3.8l0.3 3.8h0.1zM397 432.3h0.1l0.2 3.8l-0.2 3.8h-0.1zM397.5 432.3h0.1l0.2 3.8l-0.2 3.8h-0.1zM398.6 432.3h-0.2l-0.5 3.8l0.5 3.8h0.2zM398.7 432.3h0.1l0.4 3.8l-0.4 3.8h-0.1zM400.6 432.3h-0.1l-0.3 3.8l0.3 3.8h0.1zM400.7 432.3h0.1l0.4 3.8l-0.4 3.8h-0.1zM401.3 432.3h0.1l0.3 3.8l-0.3 3.8h-0.1zM401.8 432.3h0.1l0.2 3.8l-0.2 3.8h-0.1zM404.1 432.3h-0.1l-0.2 3.8l0.2 3.8h0.1zM404.1 432.3h0.1l0.3 3.8l-0.3 3.8h-0.1zM405.3 432.3h-0.2l-0.6 3.8l0.6 3.8h0.2zM406.1 432.3h-0.2l-0.5 3.8l0.5 3.8h0.2zM406.5 432.3h-0.1l-0.2 3.8l0.2 3.8h0.1zM407 432.3h-0.1l-0.4 3.8l0.4 3.8h0.1zM408.6 432.3h-0.1l-0.3 3.8l0.3 3.8h0.1zM409 432.3h-0.1l-0.2 3.8l0.2 3.8h0.1zM410.8 432.3h-0.2l-0.5 3.8l0.5 3.8h0.2zM411.4 432.3h0.1l0.3 3.8l-0.3 3.8h-0.1zM412.1 432.3h-0.1l-0.2 3.8l0.2 3.8h0.1zM412.4 432.3h-0.1l-0.2 3.8l0.2 3.8h0.1zM412.5 432.3h0.1l0.3 3.8l-0.3 3.8h-0.1zM414.4 432.3h-0.2l-0.7 3.8l0.7 3.8h0.2zM415.8 432.3h-0.1l-0.2 3.8l0.2 3.8h0.1zM417.2 432.3h-0.1l-0.2 3.8l0.2 3.8h0.1zM417.7 432.3h-0.1l-0.3 3.8l0.3 3.8h0.1zM417.8 432.3h0.1l0.3 3.8l-0.3 3.8h-0.1zM418.7 432.3h-0.1l-0.4 3.8l0.4 3.8h0.1zM419.4 432.3h-0.2l-0.5 3.8l0.5 3.8h0.2zM419.5 432.3h0.1l0.2 3.8l-0.2 3.8h-0.1zM419.8 432.3h0.2l0.5 3.8l-0.5 3.8h-0.2zM423.3 432.3h0.3l0.8 3.8l-0.8 3.8h-0.3zM424.8 432.3h-0.1l-0.3 3.8l0.3 3.8h0.1zM425.9 432.3h-0.3l-0.8 3.8l0.8 3.8h0.3zM426.9 432.3h-0.1l-0.2 3.8l0.2 3.8h0.1zM427.3 432.3h-0.1l-0.2 3.8l0.2 3.8h0.1zM427.8 432.3h0.2l0.5 3.8l-0.5 3.8h-0.2zM429.2 432.3h-0.1l-0.2 3.8l0.2 3.8h0.1zM429.3 432.3h0.2l0.7 3.8l-0.7 3.8h-0.2zM430.3 432.3h0.1l0.4 3.8l-0.4 3.8h-0.1zM432.1 432.3h-0.3l-1 3.8l1 3.8h0.3zM432.2 432.3h0.2l0.7 3.8l-0.7 3.8h-0.2zM433.2 432.3h0.1l0.2 3.8l-0.2 3.8h-0.1zM434 432.3h-0.1l-0.3 3.8l0.3 3.8h0.1zM435 432.3h0.1l0.3 3.8l-0.3 3.8h-0.1zM436.1 432.3h-0.1l-0.4 3.8l0.4 3.8h0.1zM436.1 432.3h0.1l0.3 3.8l-0.3 3.8h-0.1zM437.6 432.3h-0.3l-0.8 3.8l0.8 3.8h0.3zM438.3 432.3h0.1l0.2 3.8l-0.2 3.8h-0.1zM438.6 432.3h0.2l0.6 3.8l-0.6 3.8h-0.2zM440.8 432.3h0.1l0.2 3.8l-0.2 3.8h-0.1zM441.2 432.3h0.1l0.2 3.8l-0.2 3.8h-0.1zM441.6 432.3h0.1l0.3 3.8l-0.3 3.8h-0.1zM443.3 432.3h0.1l0.3 3.8l-0.3 3.8h-0.1zM444.1 432.3h-0.1l-0.3 3.8l0.3 3.8h0.1zM444.6 432.3h-0.1l-0.3 3.8l0.3 3.8h0.1zM444.7 432.3h0.1l0.4 3.8l-0.4 3.8h-0.1zM446.6 432.3h-0.3l-1 3.8l1 3.8h0.3zM446.7 432.3h0.3l0.9 3.8l-0.9 3.8h-0.3zM449.1 432.3h-0.2l-0.5 3.8l0.5 3.8h0.2zM449.1 432.3h0.1l0.3 3.8l-0.3 3.8h-0.1zM449.9 432.3h-0.1l-0.2 3.8l0.2 3.8h0.1zM450.7 432.3h0.1l0.2 3.8l-0.2 3.8h-0.1zM451.1 432.3h0.1l0.3 3.8l-0.3 3.8h-0.1zM453.6 432.3h-0.3l-1 3.8l1 3.8h0.3zM453.7 432.3h0.2l0.5 3.8l-0.5 3.8h-0.2zM454.8 432.3h-0.1l-0.3 3.8l0.3 3.8h0.1zM455.4 432.3h-0.1l-0.3 3.8l0.3 3.8h0.1zM456.2 432.3h0.1l0.4 3.8l-0.4 3.8h-0.1zM456.9 432.3h0.1l0.3 3.8l-0.3 3.8h-0.1zM458.2 432.3h0.3l0.8 3.8l-0.8 3.8h-0.3zM460.3 432.3h-0.2l-0.7 3.8l0.7 3.8h0.2zM460.4 432.3h0.1l0.2 3.8l-0.2 3.8h-0.1zM461.2 432.3h0.1l0.4 3.8l-0.4 3.8h-0.1zM463.7 432.3h0.1l0.3 3.8l-0.3 3.8h-0.1zM464.8 432.3h-0.1l-0.4 3.8l0.4 3.8h0.1zM464.8 432.3h0.7l2 3.8l-2 3.8h-0.7zM467.6 432.3h0.1l0.4 3.8l-0.4 3.8h-0.1zM469.6 432.3h-0.1l-0.2 3.8l0.2 3.8h0.1zM469.6 432.3h0.1l0.2 3.8l-0.2 3.8h-0.1zM470.4 432.3h0.1l0.4 3.8l-0.4 3.8h-0.1zM471 432.3h0.1l0.2 3.8l-0.2 3.8h-0.1zM471.7 432.3h-0.1l-0.2 3.8l0.2 3.8h0.1zM471.7 432.3h0.1l0.3 3.8l-0.3 3.8h-0.1zM472.9 432.3h-0.1l-0.2 3.8l0.2 3.8h0.1zM473.3 432.3h-0.1l-0.3 3.8l0.3 3.8h0.1zM473.9 432.3h-0.1l-0.4 3.8l0.4 3.8h0.1zM475.7 432.3h-0.3l-1 3.8l1 3.8h0.3zM475.8 432.3h0.1l0.2 3.8l-0.2 3.8h-0.1zM476.4 432.3h-0.1l-0.2 3.8l0.2 3.8h0.1zM479 432.3h-0.1l-0.4 3.8l0.4 3.8h0.1zM479 432.3h0.2l0.7 3.8l-0.7 3.8h-0.2zM481.5 432.3h-0.1l-0.3 3.8l0.3 3.8h0.1zM482 432.3h-0.1l-0.3 3.8l0.3 3.8h0.1zM482.1 432.3h0.1l0.3 3.8l-0.3 3.8h-0.1zM482.9 432.3h-0.1l-0.3 3.8l0.3 3.8h0.1zM484.5 432.3h-0.4l-1.2 3.8l1.2 3.8h0.4zM485.6 432.3h0.1l0.4 3.8l-0.4 3.8h-0.1zM487.2 432.3h-0.2l-0.7 3.8l0.7 3.8h0.2zM487.3 432.3h0.1l0.4 3.8l-0.4 3.8h-0.1zM487.9 432.3h0.1l0.2 3.8l-0.2 3.8h-0.1zM488.6 432.3h-0.1l-0.2 3.8l0.2 3.8h0.1zM488.6 432.3h0.1l0.3 3.8l-0.3 3.8h-0.1zM489.8 432.3h-0.1l-0.2 3.8l0.2 3.8h0.1zM490.3 432.3h-0.1l-0.2 3.8l0.2 3.8h0.1zM490.7 432.3h-0.1l-0.2 3.8l0.2 3.8h0.1zM491 432.3h-0.1l-0.2 3.8l0.2 3.8h0.1zM491.6 432.3h0.2l0.5 3.8l-0.5 3.8h-0.2zM492.4 432.3h0.2l0.7 3.8l-0.7 3.8h-0.2zM493.9 432.3h-0.1l-0.4 3.8l0.4 3.8h0.1zM494.1 432.3h0.2l0.6 3.8l-0.6 3.8h-0.2zM496.5 432.3h0.2l0.7 3.8l-0.7 3.8h-0.2zM499 432.3h0.1l0.2 3.8l-0.2 3.8h-0.1zM499.5 432.3h0.1l0.2 3.8l-0.2 3.8h-0.1zM499.8 432.3h0.2l0.6 3.8l-0.6 3.8h-0.2zM500.7 432.3h0.1l0.2 3.8l-0.2 3.8h-0.1zM501.8 432.3h-0.2l-0.5 3.8l0.5 3.8h0.2zM502.3 432.3h-0.1l-0.3 3.8l0.3 3.8h0.1zM503.1 432.3h-0.2l-0.6 3.8l0.6 3.8h0.2zM505.1 432.3h-0.1l-0.3 3.8l0.3 3.8h0.1zM505.2 432.3h0.2l0.5 3.8l-0.5 3.8h-0.2zM505.9 432.3h0.1l0.2 3.8l-0.2 3.8h-0.1zM506.4 432.3h0.1l0.2 3.8l-0.2 3.8h-0.1zM507.3 432.3h0.1l0.4 3.8l-0.4 3.8h-0.1zM508.8 432.3h-0.2l-0.7 3.8l0.7 3.8h0.2zM510 432.3h-0.1l-0.2 3.8l0.2 3.8h0.1zM510.1 432.3h0.1l0.3 3.8l-0.3 3.8h-0.1zM510.6 432.3h0.1l0.2 3.8l-0.2 3.8h-0.1zM511 432.3h0.2l0.5 3.8l-0.5 3.8h-0.2zM513 432.3h-0.1l-0.4 3.8l0.4 3.8h0.1zM513.3 432.3h-0.1l-0.2 3.8l0.2 3.8h0.1zM513.9 432.3h-0.1l-0.3 3.8l0.3 3.8h0.1zM514 432.3h0.2l0.7 3.8l-0.7 3.8h-0.2zM515.3 432.3h-0.1l-0.2 3.8l0.2 3.8h0.1zM515.3 432.3h0.2l0.7 3.8l-0.7 3.8h-0.2zM516.3 432.3h0.1l0.4 3.8l-0.4 3.8h-0.1zM517.9 432.3h-0.1l-0.3 3.8l0.3 3.8h0.1zM520 432.3h-0.1l-0.3 3.8l0.3 3.8h0.1zM521.3 432.3h-0.3l-0.9 3.8l0.9 3.8h0.3zM521.9 432.3h-0.1l-0.4 3.8l0.4 3.8h0.1zM522.3 432.3h-0.1l-0.2 3.8l0.2 3.8h0.1zM522.7 432.3h-0.1l-0.3 3.8l0.3 3.8h0.1zM523.2 432.3h-0.1l-0.3 3.8l0.3 3.8h0.1zM523.2 432.3h0.1l0.2 3.8l-0.2 3.8h-0.1zM524 432.3h0.1l0.3 3.8l-0.3 3.8h-0.1zM524.6 432.3h0.1l0.4 3.8l-0.4 3.8h-0.1zM525.2 432.3h0.1l0.4 3.8l-0.4 3.8h-0.1zM528 432.3h-0.1l-0.2 3.8l0.2 3.8h0.1zM528.5 432.3h-0.1l-0.3 3.8l0.3 3.8h0.1zM528.5 432.3h0.1l0.3 3.8l-0.3 3.8h-0.1zM529.3 432.3h-0.1l-0.2 3.8l0.2 3.8h0.1zM529.4 432.3h0.3l1 3.8l-1 3.8h-0.3zM532 432.3h-0.2l-0.5 3.8l0.5 3.8h0.2zM533.1 432.3h-0.3l-0.8 3.8l0.8 3.8h0.3zM533.2 432.3h0.2l0.5 3.8l-0.5 3.8h-0.2zM535.2 432.3h-0.3l-0.8 3.8l0.8 3.8h0.3zM535.8 432.3h-0.1l-0.4 3.8l0.4 3.8h0.1zM537.8 432.3h0.2l0.6 3.8l-0.6 3.8h-0.2zM540 432.3h-0.1l-0.3 3.8l0.3 3.8h0.1zM540.1 432.3h0.1l0.4 3.8l-0.4 3.8h-0.1zM541.4 432.3h-0.1l-0.4 3.8l0.4 3.8h0.1zM541.8 432.3h-0.1l-0.2 3.8l0.2 3.8h0.1zM544.7 432.3h-0.3l-0.9 3.8l0.9 3.8h0.3zM545.7 432.3h-0.2l-0.7 3.8l0.7 3.8h0.2zM545.8 432.3h0.2l0.5 3.8l-0.5 3.8h-0.2zM546.5 432.3h0.1l0.2 3.8l-0.2 3.8h-0.1zM546.9 432.3h0.1l0.2 3.8l-0.2 3.8h-0.1zM547.5 432.3h-0.1l-0.2 3.8l0.2 3.8h0.1zM547.6 432.3h0.1l0.2 3.8l-0.2 3.8h-0.1zM549.2 432.3h-0.1l-0.4 3.8l0.4 3.8h0.1zM549.7 432.3h0.1l0.3 3.8l-0.3 3.8h-0.1zM550.3 432.3h0.1l0.3 3.8l-0.3 3.8h-0.1zM551.8 432.3h-0.3l-0.8 3.8l0.8 3.8h0.3zM552.9 432.3h-0.2l-0.5 3.8l0.5 3.8h0.2zM553.4 432.3h0.3l1 3.8l-1 3.8h-0.3zM555.4 432.3h0.1l0.2 3.8l-0.2 3.8h-0.1zM555.8 432.3h0.2l0.5 3.8l-0.5 3.8h-0.2zM556.9 432.3h-0.1l-0.2 3.8l0.2 3.8h0.1zM559.3 432.3h-0.2l-0.7 3.8l0.7 3.8h0.2zM559.6 432.3h-0.1l-0.2 3.8l0.2 3.8h0.1zM559.8 432.3h0.1l0.2 3.8l-0.2 3.8h-0.1zM561.5 432.3h0.1l0.4 3.8l-0.4 3.8h-0.1zM562.6 432.3h-0.1l-0.3 3.8l0.3 3.8h0.1zM562.6 432.3h0.1l0.2 3.8l-0.2 3.8h-0.1zM564 432.3h-0.3l-0.8 3.8l0.8 3.8h0.3zM564.1 432.3h0.1l0.2 3.8l-0.2 3.8h-0.1zM564.8 432.3h-0.1l-0.2 3.8l0.2 3.8h0.1zM564.9 432.3h0.1l0.3 3.8l-0.3 3.8h-0.1zM565.9 432.3h-0.2l-0.5 3.8l0.5 3.8h0.2zM566 432.3h0.1l0.4 3.8l-0.4 3.8h-0.1zM567.8 432.3h-0.1l-0.4 3.8l0.4 3.8h0.1zM568.3 432.3h0.1l0.2 3.8l-0.2 3.8h-0.1zM568.6 432.3h0.1l0.4 3.8l-0.4 3.8h-0.1zM570.2 432.3h-0.2l-0.7 3.8l0.7 3.8h0.2zM570.9 432.3h-0.1l-0.2 3.8l0.2 3.8h0.1zM571 432.3h0.2l0.6 3.8l-0.6 3.8h-0.2zM571.8 432.3h0.1l0.3 3.8l-0.3 3.8h-0.1zM573.7 432.3h-0.3l-1 3.8l1 3.8h0.3zM576.9 432.3h-0.4l-1.3 3.8l1.3 3.8h0.4zM577.3 432.3h-0.1l-0.3 3.8l0.3 3.8h0.1zM578.9 432.3h-0.1l-0.3 3.8l0.3 3.8h0.1zM580.3 432.3h-0.1l-0.4 3.8l0.4 3.8h0.1zM580.6 432.3h-0.1l-0.2 3.8l0.2 3.8h0.1zM580.7 432.3h0.1l0.2 3.8l-0.2 3.8h-0.1zM581.1 432.3h0.1l0.4 3.8l-0.4 3.8h-0.1zM583 432.3h0.1l0.2 3.8l-0.2 3.8h-0.1zM583.5 432.3h0.1l0.2 3.8l-0.2 3.8h-0.1zM584.3 432.3h-0.1l-0.3 3.8l0.3 3.8h0.1zM584.4 432.3h0.1l0.4 3.8l-0.4 3.8h-0.1zM585 432.3h0.1l0.3 3.8l-0.3 3.8h-0.1zM586.1 432.3h-0.2l-0.5 3.8l0.5 3.8h0.2zM587.9 432.3h0.5l1.6 3.8l-1.6 3.8h-0.5zM591.8 432.3h-0.3l-0.8 3.8l0.8 3.8h0.3zM592.4 432.3h-0.1l-0.4 3.8l0.4 3.8h0.1zM592.8 432.3h-0.1l-0.3 3.8l0.3 3.8h0.1z" fill="#bfbfbf"/>
<path d="M280.5 432.3h-0.1l-0.3 3.8l0.3 3.8h0.1zM284.5 432.3h-0.1l-0.4 3.8l0.4 3.8h0.1zM285.4 432.3h-0.1l-0.2 3.8l0.2 3.8h0.1zM285.5 432.3h0.1l0.4 3.8l-0.4 3.8h-0.1zM289 432.3h0.1l0.3 3.8l-0.3 3.8h-0.1zM290.9 432.3h-0.1l-0.2 3.8l0.2 3.8h0.1zM296.1 432.3h-0.2l-0.5 3.8l0.5 3.8h0.2zM300.3 432.3h0.1l0.3 3.8l-0.3 3.8h-0.1zM302.3 432.3h-0.1l-0.2 3.8l0.2 3.8h0.1zM304.3 432.3h0.1l0.2 3.8l-0.2 3.8h-0.1zM305.1 432.3h0.1l0.2 3.8l-0.2 3.8h-0.1zM308.4 432.3h-0.2l-0.6 3.8l0.6 3.8h0.2zM314 432.3h-0.1l-0.2 3.8l0.2 3.8h0.1zM314 432.3h0.1l0.2 3.8l-0.2 3.8h-0.1zM319.1 432.3h0.1l0.3 3.8l-0.3 3.8h-0.1zM320.2 432.3h-0.2l-0.5 3.8l0.5 3.8h0.2zM321.4 432.3h0.1l0.2 3.8l-0.2 3.8h-0.1zM323 432.3h-0.1l-0.4 3.8l0.4 3.8h0.1zM323.8 432.3h-0.1l-0.2 3.8l0.2 3.8h0.1zM324.9 432.3h0.1l0.2 3.8l-0.2 3.8h-0.1zM325.8 432.3h0.1l0.4 3.8l-0.4 3.8h-0.1zM327.7 432.3h-0.3l-0.9 3.8l0.9 3.8h0.3zM335.2 432.3h-0.1l-0.4 3.8l0.4 3.8h0.1zM341.8 432.3h-0.1l-0.2 3.8l0.2 3.8h0.1zM343.8 432.3h-0.1l-0.4 3.8l0.4 3.8h0.1zM345.5 432.3h0.1l0.3 3.8l-0.3 3.8h-0.1zM350.5 432.3h0.1l0.3 3.8l-0.3 3.8h-0.1zM351.3 432.3h0.1l0.2 3.8l-0.2 3.8h-0.1zM352.8 432.3h-0.1l-0.4 3.8l0.4 3.8h0.1zM354.9 432.3h0.1l0.2 3.8l-0.2 3.8h-0.1zM359.3 432.3h-0.1l-0.2 3.8l0.2 3.8h0.1zM362.6 432.3h-0.1l-0.3 3.8l0.3 3.8h0.1zM367.8 432.3h-0.2l-0.7 3.8l0.7 3.8h0.2zM367.9 432.3h0.2l0.7 3.8l-0.7 3.8h-0.2zM370.6 432.3h-0.1l-0.2 3.8l0.2 3.8h0.1zM373.2 432.3h0.1l0.4 3.8l-0.4 3.8h-0.1zM373.8 432.3h0.2l0.5 3.8l-0.5 3.8h-0.2zM375.1 432.3h0.2l0.5 3.8l-0.5 3.8h-0.2zM378.3 432.3h0.3l0.8 3.8l-0.8 3.8h-0.3zM379.8 432.3h-0.1l-0.3 3.8l0.3 3.8h0.1zM380 432.3h0.2l0.7 3.8l-0.7 3.8h-0.2zM383.3 432.3h-0.3l-0.8 3.8l0.8 3.8h0.3zM385 432.3h-0.2l-0.5 3.8l0.5 3.8h0.2zM386.9 432.3h-0.1l-0.4 3.8l0.4 3.8h0.1zM387 432.3h0.2l0.6 3.8l-0.6 3.8h-0.2zM388 432.3h0.1l0.4 3.8l-0.4 3.8h-0.1zM389.2 432.3h0.1l0.3 3.8l-0.3 3.8h-0.1zM390.9 432.3h-0.1l-0.4 3.8l0.4 3.8h0.1zM391 432.3h0.1l0.2 3.8l-0.2 3.8h-0.1zM391.8 432.3h-0.1l-0.3 3.8l0.3 3.8h0.1zM394.1 432.3h-0.1l-0.3 3.8l0.3 3.8h0.1zM399.3 432.3h0.2l0.6 3.8l-0.6 3.8h-0.2zM403.7 432.3h-0.4l-1.1 3.8l1.1 3.8h0.4zM407.1 432.3h0.3l0.8 3.8l-0.8 3.8h-0.3zM410 432.3h-0.2l-0.7 3.8l0.7 3.8h0.2zM410.8 432.3h0.1l0.3 3.8l-0.3 3.8h-0.1zM413 432.3h0.1l0.3 3.8l-0.3 3.8h-0.1zM414.5 432.3h0.2l0.6 3.8l-0.6 3.8h-0.2zM415.8 432.3h0.2l0.5 3.8l-0.5 3.8h-0.2zM416.5 432.3h0.1l0.2 3.8l-0.2 3.8h-0.1zM422 432.3h-0.3l-1 3.8l1 3.8h0.3zM422.5 432.3h-0.1l-0.3 3.8l0.3 3.8h0.1zM423.3 432.3h-0.2l-0.5 3.8l0.5 3.8h0.2zM426.6 432.3h-0.1l-0.3 3.8l0.3 3.8h0.1zM427.7 432.3h-0.1l-0.2 3.8l0.2 3.8h0.1zM428.9 432.3h-0.1l-0.2 3.8l0.2 3.8h0.1zM434.1 432.3h0.2l0.7 3.8l-0.7 3.8h-0.2zM437.7 432.3h0.1l0.4 3.8l-0.4 3.8h-0.1zM440.1 432.3h-0.2l-0.5 3.8l0.5 3.8h0.2zM440.2 432.3h0.1l0.4 3.8l-0.4 3.8h-0.1zM442.7 432.3h-0.2l-0.5 3.8l0.5 3.8h0.2zM442.7 432.3h0.1l0.3 3.8l-0.3 3.8h-0.1zM447.9 432.3h0.1l0.2 3.8l-0.2 3.8h-0.1zM450.6 432.3h-0.2l-0.5 3.8l0.5 3.8h0.2zM452.2 432.3h-0.2l-0.5 3.8l0.5 3.8h0.2zM455.4 432.3h0.1l0.4 3.8l-0.4 3.8h-0.1zM458.1 432.3h-0.2l-0.6 3.8l0.6 3.8h0.2zM461.2 432.3h-0.1l-0.3 3.8l0.3 3.8h0.1zM462.3 432.3h-0.1l-0.3 3.8l0.3 3.8h0.1zM463.7 432.3h-0.3l-0.9 3.8l0.9 3.8h0.3zM468.6 432.3h-0.1l-0.2 3.8l0.2 3.8h0.1zM468.7 432.3h0.1l0.4 3.8l-0.4 3.8h-0.1zM470 432.3h0.1l0.2 3.8l-0.2 3.8h-0.1zM472.5 432.3h-0.1l-0.2 3.8l0.2 3.8h0.1zM474 432.3h0.1l0.2 3.8l-0.2 3.8h-0.1zM477.1 432.3h-0.1l-0.4 3.8l0.4 3.8h0.1zM477.2 432.3h0.1l0.4 3.8l-0.4 3.8h-0.1zM478.4 432.3h-0.2l-0.5 3.8l0.5 3.8h0.2zM480 432.3h0.3l0.8 3.8l-0.8 3.8h-0.3zM485.1 432.3h-0.1l-0.4 3.8l0.4 3.8h0.1zM485.6 432.3h-0.1l-0.2 3.8l0.2 3.8h0.1zM489.2 432.3h0.1l0.2 3.8l-0.2 3.8h-0.1zM491.4 432.3h-0.1l-0.2 3.8l0.2 3.8h0.1zM494.9 432.3h0.1l0.3 3.8l-0.3 3.8h-0.1zM496.4 432.3h-0.3l-0.8 3.8l0.8 3.8h0.3zM498.6 432.3h-0.2l-0.7 3.8l0.7 3.8h0.2zM499 432.3h-0.1l-0.2 3.8l0.2 3.8h0.1zM504.6 432.3h-0.4l-1.1 3.8l1.1 3.8h0.4zM507.2 432.3h-0.1l-0.4 3.8l0.4 3.8h0.1zM508.9 432.3h0.1l0.3 3.8l-0.3 3.8h-0.1zM509.3 432.3h0.1l0.2 3.8l-0.2 3.8h-0.1zM511.7 432.3h0.2l0.5 3.8l-0.5 3.8h-0.2zM517.4 432.3h-0.1l-0.3 3.8l0.3 3.8h0.1zM518 432.3h0.3l0.8 3.8l-0.8 3.8h-0.3zM519.4 432.3h-0.1l-0.2 3.8l0.2 3.8h0.1zM523.9 432.3h-0.1l-0.2 3.8l0.2 3.8h0.1zM525.8 432.3h0.2l0.6 3.8l-0.6 3.8h-0.2zM526.7 432.3h0.2l0.7 3.8l-0.7 3.8h-0.2zM531.2 432.3h-0.1l-0.4 3.8l0.4 3.8h0.1zM537.2 432.3h-0.3l-1 3.8l1 3.8h0.3zM537.7 432.3h-0.1l-0.3 3.8l0.3 3.8h0.1zM538.6 432.3h0.1l0.3 3.8l-0.3 3.8h-0.1zM539.4 432.3h-0.1l-0.2 3.8l0.2 3.8h0.1zM542.7 432.3h-0.2l-0.6 3.8l0.6 3.8h0.2zM543.5 432.3h-0.2l-0.5 3.8l0.5 3.8h0.2zM548.6 432.3h-0.1l-0.4 3.8l0.4 3.8h0.1zM549.6 432.3h-0.1l-0.2 3.8l0.2 3.8h0.1zM552.2 432.3h-0.1l-0.2 3.8l0.2 3.8h0.1zM553 432.3h0.1l0.2 3.8l-0.2 3.8h-0.1zM554.7 432.3h0.2l0.5 3.8l-0.5 3.8h-0.2zM557 432.3h0.1l0.3 3.8l-0.3 3.8h-0.1zM557.4 432.3h0.2l0.6 3.8l-0.6 3.8h-0.2zM560.5 432.3h-0.1l-0.3 3.8l0.3 3.8h0.1zM560.7 432.3h0.2l0.6 3.8l-0.6 3.8h-0.2zM567.3 432.3h-0.2l-0.5 3.8l0.5 3.8h0.2zM568.2 432.3h-0.1l-0.3 3.8l0.3 3.8h0.1zM570.6 432.3h-0.1l-0.3 3.8l0.3 3.8h0.1zM574.1 432.3h-0.1l-0.3 3.8l0.3 3.8h0.1zM574.2 432.3h0.2l0.7 3.8l-0.7 3.8h-0.2zM578.4 432.3h-0.2l-0.7 3.8l0.7 3.8h0.2zM579 432.3h0.2l0.5 3.8l-0.5 3.8h-0.2zM583 432.3h-0.3l-0.9 3.8l0.9 3.8h0.3zM586.1 432.3h0.4l1.2 3.8l-1.2 3.8h-0.4zM590.1 432.3h0.2l0.5 3.8l-0.5 3.8h-0.2zM593.8 432.3h-0.2l-0.7 3.8l0.7 3.8h0.2z" fill="#000"/>
<path d="M284.1 388.4h1M421.8 388.6h2.3M520.1 390.7h2M471.1 394.4h1.4M482.6 394.6h1.7M286.3 404.5h3.5M565.7 418.7h1.8M302.6 428.7h5.4M338.7 430.7h1.7" stroke="#fdb462" stroke-width="1.35" stroke-opacity="0.85"/>
<path d="M321 388.8h2.8M498.4 388.6h1.7M283.1 396.6h3.1M490.6 396.8h1.6M560.8 396.4h5.3M351.2 398.6h2.6M301 414.8h2.8M482.7 428.7h2.6" stroke="#35978f" stroke-width="1.35" stroke-opacity="0.85"/>
<path d="M330.9 388.8h2.4M319.8 390.4h3.5M491.8 398.5h1.6M285.7 408.7h2.6M323.5 424.8h3.6" stroke="#66c2a5" stroke-width="1.35" stroke-opacity="0.85"/>
<path d="M454.4 388.4h3.1M521.5 392.7h2.8M574 398.5h2.5M476.1 402.6h1.9M434.1 416.7h1.7M324.7 422.5h2.6M390.6 428.5h1.5M334.1 430.7h1.2M450.4 430.8h1.6" stroke="#7570b3" stroke-width="1.35" stroke-opacity="0.85"/>
<path d="M512.4 388.4h4.5M317 392.4h1M494.2 400.4h2.9M452.8 402.5h2.4M572.8 402.7h1.8M349.2 404.7h1.1M416 408.5h3M499.1 410.7h1M580.8 412.5h3M314.8 424.6h2.6" stroke="#e7298a" stroke-width="1.35" stroke-opacity="0.85"/>
<path d="M291.3 390.4h2.7M422.5 396.5h2.2M500 420.4h2.2M539.2 422.4h1.4M398.2 428.5h1.6" stroke="#8c510a" stroke-width="1.35" stroke-opacity="0.85"/>
<path d="M429.5 390.7h2.2M505.5 390.4h1.2M304.1 402.4h2.8M564.3 404.7h2.7M453 412.4h2.3" stroke="#bc80bd" stroke-width="1.35" stroke-opacity="0.85"/>
<path d="M451.6 390.5h2.3M508.2 402.4h1.8M471.4 416.6h3.1M575.5 428.6h1.5" stroke="#b2df8a" stroke-width="1.35" stroke-opacity="0.85"/>
<path d="M472.9 390.8h1.8M570.6 392.4h2.2M405.3 402.5h2.8M431.3 412.6h2M557.1 418.6h1M521.5 430.8h2.9" stroke="#fb8072" stroke-width="1.35" stroke-opacity="0.85"/>
<path d="M482.2 390.6h2.7M427.6 402.8h2M310.1 406.7h2.3M351.4 410.8h1.3M344.5 416.4h2.3M450.8 418.8h2M375.5 420.8h2.7" stroke="#8dd3c7" stroke-width="1.35" stroke-opacity="0.85"/>
<path d="M499 390.8h1.7M344.1 392.5h1M459 392.5h2.2M280.1 400.6h0.7M552.7 400.7h2.3M587.1 406.8h1M552.2 416.6h2.5M511.6 426.8h3.1M336.5 430.8h1.5" stroke="#cab2d6" stroke-width="1.35" stroke-opacity="0.85"/>
<path d="M554.7 390.4h2M471 392.5h1.9M346.5 408.7h1.6M506.8 410.5h3.7M400.8 426.6h3.9M428.5 430.7h2.1" stroke="#e31a1c" stroke-width="1.35" stroke-opacity="0.85"/>
<path d="M291.1 392.7h1M286.7 394.7h1.7M454.8 406.4h2.9M304 410.5h1.2M403.7 412.4h1.4" stroke="#8da0cb" stroke-width="1.35" stroke-opacity="0.85"/>
<path d="M328.6 392.6h2M381.6 392.4h3.4M455.4 410.6h2.3M493.8 410.6h1" stroke="#01665e" stroke-width="1.35" stroke-opacity="0.85"/>
<path d="M340.3 392.8h1.6M418.6 396.8h1M281.6 412.6h1.7M398.5 418.8h2.1M513.5 418.5h1.9M301.4 422.6h2.1" stroke="#fb9a99" stroke-width="1.35" stroke-opacity="0.85"/>
<path d="M468.7 392.7h1.4M536.8 396.8h2M556.6 398.5h2.1M535 410.7h1.1M280.1 424.8h1.6" stroke="#fdbf6f" stroke-width="1.35" stroke-opacity="0.85"/>
<path d="M508.8 392.6h3.2M560.7 410.4h3.4M424.2 414.6h1.8" stroke="#a65628" stroke-width="1.35" stroke-opacity="0.85"/>
<path d="M512.7 392.4h3.8M435.1 394.7h1.6M398.3 416.6h1.8M517.1 416.6h1M328.9 418.8h2.4M294 424.4h2.3" stroke="#e6ab02" stroke-width="1.35" stroke-opacity="0.85"/>
<path d="M528.6 392.4h1M329.7 396.6h2.1M569.6 402.8h1M534.6 406.6h1M495.2 420.6h2" stroke="#ffd92f" stroke-width="1.35" stroke-opacity="0.85"/>
<path d="M563.7 392.5h2M486.5 396.4h1.7M507 404.5h2.4M352.4 414.5h1M467.2 414.4h2M498.8 416.7h1.7M283.9 428.7h2.7" stroke="#fc8d62" stroke-width="1.35" stroke-opacity="0.85"/>
<path d="M581.1 392.8h2.8M491 394.6h2.2M563.4 394.6h2.8M360.5 410.7h2.4M295.8 420.8h2.1M405.8 424.8h2.5M549.6 428.6h2.7" stroke="#1f78b4" stroke-width="1.35" stroke-opacity="0.85"/>
<path d="M315.6 394.6h1.6M513 398.4h1.7M365.4 404.6h1.3M301.1 416.4h1.8" stroke="#bebada" stroke-width="1.35" stroke-opacity="0.85"/>
<path d="M359.8 394.5h1M446.4 394.7h1M573.3 410.8h2.9M437.5 418.4h2.4M392 422.7h2.5M310.4 426.7h1M510.9 428.4h1.3" stroke="#4393c3" stroke-width="1.35" stroke-opacity="0.85"/>
<path d="M361.6 394.4h2M438.6 402.5h1M323.3 408.7h2.1M587.7 414.7h1M577.2 422.8h3.4" stroke="#984ea3" stroke-width="1.35" stroke-opacity="0.85"/>
<path d="M450.2 394.8h1M310.6 410.5h3.6M339 416.6h1.5M292.7 428.4h1" stroke="#d95f02" stroke-width="1.35" stroke-opacity="0.85"/>
<path d="M459.2 394.8h3.5M441.9 406.4h2.8M401 416.4h1.7M499.5 426.4h1" stroke="#a6cee3" stroke-width="1.35" stroke-opacity="0.85"/>
<path d="M591.9 394.7h1.9M563.8 400.4h1M534 420.8h1.9" stroke="#4daf4a" stroke-width="1.35" stroke-opacity="0.85"/>
<path d="M280.1 396.6h1.4" stroke="#ff7f00" stroke-width="1.35" stroke-opacity="0.85"/>
<path d="M306.3 396.6h2.2" stroke="#6a3d9a" stroke-width="1.35" stroke-opacity="0.85"/>
<path d="M504.8 396.4h2M362.4 414.7h2.4M367.2 420.4h2.7M518.8 420.6h2.7" stroke="#e78ac3" stroke-width="1.35" stroke-opacity="0.85"/>
<path d="M285.4 398.7h2.6" stroke="#3288bd" stroke-width="1.35" stroke-opacity="0.85"/>
<path d="M306.8 398.7h3.1M308.5 406.6h1.3M548 416.7h1.4" stroke="#c51b7d" stroke-width="1.35" stroke-opacity="0.85"/>
<path d="M501.4 398.5h1.8M346.5 400.7h1.7M468.6 400.8h2.2M588.5 406.6h3.2M536.3 414.5h1.9M375.3 430.6h2.2" stroke="#33a02c" stroke-width="1.35" stroke-opacity="0.85"/>
<path d="M315.3 400.5h2.1M299.6 414.8h1M466.2 418.4h2.4M520.1 422.7h2.5" stroke="#b15928" stroke-width="1.35" stroke-opacity="0.85"/>
<path d="M372.4 400.4h2M472.4 400.8h2.4M330.2 410.8h2.7M301.3 426.5h2.3M544.3 428.5h1.5" stroke="#66a61e" stroke-width="1.35" stroke-opacity="0.85"/>
<path d="M283.2 402.5h1M377 404.8h3M447.2 410.6h2.4M387.7 412.7h2.2M525 414.8h1M325.5 428.4h1.4M287.3 430.8h1.9" stroke="#d53e4f" stroke-width="1.35" stroke-opacity="0.85"/>
<path d="M329.1 402.5h2.6M549.3 408.8h2.7M586.8 408.4h1.8M343.4 428.4h1.7" stroke="#e5c494" stroke-width="1.35" stroke-opacity="0.85"/>
<path d="M562.8 402.8h1.8M584.9 402.6h2.7M346.8 404.7h1.4M504.9 412.8h2.8M315.6 418.8h2.4" stroke="#b3de69" stroke-width="1.35" stroke-opacity="0.85"/>
<path d="M386.3 406.4h1.9M434.7 430.8h1" stroke="#a6761d" stroke-width="1.35" stroke-opacity="0.85"/>
<path d="M397.8 406.5h1.6M380 430.4h1.2" stroke="#a6d854" stroke-width="1.35" stroke-opacity="0.85"/>
<path d="M386.6 408.6h2.2M499.6 414.6h1.4M480.4 420.7h1.5M471.5 426.5h1.8" stroke="#e41a1c" stroke-width="1.35" stroke-opacity="0.85"/>
<path d="M327.3 412.6h2.4M320 426.6h2.5M485.9 426.5h1M471.4 428.8h3.4M349.6 430.6h2.2M384.6 430.5h4" stroke="#f781bf" stroke-width="1.35" stroke-opacity="0.85"/>
<path d="M519.7 412.6h2.7M572 422.5h2.5M564 428.7h1.7M282.1 430.6h2.6" stroke="#377eb8" stroke-width="1.35" stroke-opacity="0.85"/>
<path d="M404.5 416.6h1.4M485.1 416.8h3.2M336.1 418.6h3.2" stroke="#80b1d3" stroke-width="1.35" stroke-opacity="0.85"/>
<path d="M299.2 422.7h1.9M424.9 428.6h3.1" stroke="#1b9e77" stroke-width="1.35" stroke-opacity="0.85"/>
<path d="M500.9 426.5h2.2M347.7 428.8h3M437.4 430.8h2.3" stroke="#d6604d" stroke-width="1.35" stroke-opacity="0.85"/>
<path d="M515.9 428.4h1.8" stroke="#5aae61" stroke-width="1.35" stroke-opacity="0.85"/>
<line x1="264" y1="332.9" x2="264" y2="441.4" stroke="#000" stroke-width="1.1"/>
<line x1="263.5" y1="440.9" x2="608.6" y2="440.9" stroke="#000" stroke-width="1.1"/>
<line x1="261.7" y1="386.8" x2="264" y2="386.8" stroke="#333" stroke-width="0.9"/>
<text x="259.4" y="389.5" font-size="7.6" text-anchor="end" fill="#4d4d4d">0</text>
<line x1="261.7" y1="362.3" x2="264" y2="362.3" stroke="#333" stroke-width="0.9"/>
<text x="259.4" y="365" font-size="7.6" text-anchor="end" fill="#4d4d4d">25</text>
<line x1="261.7" y1="337.8" x2="264" y2="337.8" stroke="#333" stroke-width="0.9"/>
<text x="259.4" y="340.5" font-size="7.6" text-anchor="end" fill="#4d4d4d">50</text>
<line x1="280.1" y1="440.9" x2="280.1" y2="443.4" stroke="#222" stroke-width="1.0"/>
<text x="280.1" y="451.2" font-size="7.6" text-anchor="middle" fill="#4d4d4d">0kb</text>
<line x1="368.8" y1="440.9" x2="368.8" y2="443.4" stroke="#222" stroke-width="1.0"/>
<text x="368.8" y="451.2" font-size="7.6" text-anchor="middle" fill="#4d4d4d">200kb</text>
<line x1="457.5" y1="440.9" x2="457.5" y2="443.4" stroke="#222" stroke-width="1.0"/>
<text x="457.5" y="451.2" font-size="7.6" text-anchor="middle" fill="#4d4d4d">400kb</text>
<line x1="546.2" y1="440.9" x2="546.2" y2="443.4" stroke="#222" stroke-width="1.0"/>
<text x="546.2" y="451.2" font-size="7.6" text-anchor="middle" fill="#4d4d4d">600kb</text>
<text x="436.3" y="461.3" font-size="9.6" text-anchor="middle">Scaffold coordinate</text>
<text x="241.9" y="386.9" font-size="9.6" text-anchor="middle" transform="rotate(-90 241.9 386.9)">Coverage</text>
<text x="250.8" y="373" font-size="7.8" text-anchor="middle" transform="rotate(-90 250.8 373)">Illumina</text>
<text x="253.6" y="415.6" font-size="7.8" text-anchor="middle" transform="rotate(-90 253.6 415.6)">Nanopore</text>
<text x="264.9" y="325.7" font-size="11.1"><tspan font-style="italic">Faecalibacterium sp.</tspan></text>
<path transform="matrix(0.4 0 0 -0.25 284 543.3)" d="M0 0L0 0 1 1 2 0 3 0 4 1 5 1 6 1 7 0 8 1 9 0 10 0 11 0 12 1 13 0 14 0 15 0 16 1 17 1 18 1 19 1 20 0 21 0 22 0 23 1 24 0 25 1 26 1 27 0 28 0 29 0 30 1 31 1 32 1 33 0 34 0 35 1 36 0 37 0 38 0 39 1 40 0 41 1 42 0 43 1 44 1 45 1 46 0 47 0 48 1 49 1 50 0 51 0 52 0 53 0 54 0 55 0 56 0 57 1 58 0 59 0 60 1 61 0 62 1 63 0 64 1 65 1 66 0 67 1 68 1 69 0 70 0 71 1 72 0 73 1 74 0 75 0 76 0 77 0 78 1 79 0 80 0 81 0 82 0 83 1 84 0 85 0 86 0 87 0 88 1 89 1 90 1 91 0 92 0 93 0 94 1 95 0 96 0 97 1 98 0 99 1 100 0 101 0 102 1 103 0 104 1 105 1 106 1 107 0 108 1 109 0 110 0 111 1 112 1 113 0 114 0 115 0 116 0 117 0 118 1 119 0 120 1 121 0 122 0 123 1 124 0 125 0 126 1 127 1 128 0 129 0 130 0 131 1 132 1 133 0 134 0 135 0 136 1 137 0 138 0 139 1 140 1 141 0 142 1 143 1 144 1 145 1 146 1 147 1 148 1 149 0 150 1 151 0 152 1 153 0 154 1 155 1 156 0 157 0 158 0 159 0 160 0 161 1 162 0 163 0 164 0 165 0 166 0 167 1 168 0 169 0 170 1 171 0 172 0 173 0 174 0 175 0 176 0 177 0 178 1 179 0 180 0 181 1 182 0 183 1 184 1 185 0 186 0 187 0 188 1 189 0 190 1 191 0 192 0 193 0 194 1 195 1 196 1 197 0 198 0 199 0 200 0 201 1 202 1 203 1 204 0 205 0 206 1 207 1 208 1 209 0 210 0 211 1 212 1 213 1 214 0 215 1 216 0 217 1 218 1 219 1 220 0 221 1 222 0 223 1 224 1 225 1 226 1 227 0 228 1 229 1 230 0 231 1 232 0 233 1 234 1 235 0 236 0 237 0 238 1 239 1 240 1 241 0 242 0 243 1 244 1 245 0 246 0 247 0 248 1 249 0 250 0 251 1 252 0 253 0 254 0 255 1 256 1 257 0 258 0 259 0 260 0 261 1 262 1 263 1 264 0 265 1 266 0 267 1 268 0 269 0 270 0 271 0 272 1 273 1 274 1 275 0 276 1 277 0 278 1 279 1 280 0 281 1 282 0 283 0 284 1 285 1 286 1 287 1 288 0 289 0 290 0 291 0 292 1 293 1 294 1 295 0 296 0 297 1 298 1 299 1 300 1 301 1 302 0 303 1 304 0 305 1 306 0 307 0 308 1 309 0 310 0 311 0 312 1 313 0 314 0 315 0 316 1 317 0 318 1 319 1 320 1 321 0 322 1 323 0 324 0 325 0 326 0 327 0 328 0 329 0 330 0 331 1 332 0 333 1 334 0 335 0 336 1 337 0 338 1 339 1 340 1 341 1 342 1 343 1 344 0 345 0 346 1 347 1 348 0 349 1 350 1 351 0 352 0 353 0 354 0 355 1 356 1 357 0 358 1 359 0 360 1 361 0 362 1 363 0 364 1 365 0 366 0 367 1 368 0 369 0 370 0 371 0L371 0ZM376 0L376 1 377 0 378 0 379 0 380 1 381 0 382 0 383 1 384 0 385 1 386 1 387 0 388 1 389 1 390 1 391 0 392 1 393 0 394 0 395 0 396 0 397 0L397 0ZM403 0L403 0 404 0 405 1 406 0 407 0 408 1 409 0 410 0 411 1 412 1 413 1 414 0 415 1 416 1 417 0 418 0 419 1 420 0 421 1 422 1 423 0 424 0 425 0 426 0 427 1 428 1 429 0 430 1 431 0 432 0 433 0 434 0 435 0 436 0 437 1 438 1 439 1 440 0 441 1 442 1 443 0 444 1 445 0 446 0 447 0 448 1 449 0 450 0 451 0 452 0 453 1 454 0 455 1 456 0 457 0 458 0 459 1L459 0ZM473 0L473 1 474 0 475 1 476 1 477 0 478 0 479 0 480 0 481 0 482 0 483 1 484 1 485 1 486 0 487 1 488 1 489 0 490 1 491 1 492 0 493 0 494 0 495 1 496 0 497 1 498 1 499 0 500 0 501 0 502 1 503 1 504 0 505 1 506 1 507 1 508 1 509 0 510 1 511 0 512 1 513 1 514 1 515 1 516 1 517 1 518 0 519 0 520 1 521 0 522 0 523 0 524 0 525 0 526 1 527 0 528 0 529 1 530 0 531 0 532 1 533 1 534 1 535 0 536 0 537 0 538 0 539 0 540 1 541 1 542 1 543 1 544 1 545 0 546 0 547 0 548 0 549 0 550 0 551 1 552 0 553 0 554 0 555 1 556 0 557 1 558 0 559 1 560 0 561 1 562 1 563 0 564 0 565 1 566 1 567 1 568 1 569 1 570 1 571 0 572 0 573 1 574 0 575 0 576 1 577 1 578 0 579 0 580 0 581 1 582 0 583 1 584 1 585 0 586 0 587 1 588 1 589 1 590 1 591 1 592 0 593 1 594 0 595 0 596 1 597 0 598 1 599 0 600 1 601 0 602 0 603 0 604 0 605 0 606 1 607 1 608 1 609 1 610 0 611 1 612 1 613 1 614 1 615 1 616 0 617 0 618 0 619 0 620 0 621 0 622 1 623 1 624 1 625 0 626 1 627 1 628 1 629 0 630 0 631 0 632 0 633 0 634 0 635 1 636 1 637 1 638 1 639 1 640 0 641 0 642 1 643 0 644 0 645 0 646 1 647 1 648 1 649 1 650 0 651 1 652 1 653 1 654 1 655 0 656 0 657 1 658 1 659 0 660 0 661 0 662 0 663 0 664 0 665 0 666 0 667 0 668 1 669 0 670 1 671 1 672 0 673 1 674 0 675 1 676 1 677 0 678 0 679 0 680 1 681 1 682 1 683 1 684 1L684 0ZM693 0L693 0 694 0 695 1 696 1 697 0 698 0 699 1 700 0 701 1 702 1 703 0 704 0 705 1 706 0 707 1 708 0 709 1 710 1 711 0 712 0 713 1 714 1 715 0 716 0 717 0 718 0 719 0 720 0 721 0 722 1 723 1 724 1 725 0 726 1 727 0 728 1 729 1 730 1 731 0 732 0 733 0 734 0 735 1 736 1 737 1 738 0 739 0 740 1 741 0 742 0 743 0 744 0 745 0 746 1 747 1 748 0 749 0 750 1 751 0 752 1 753 0 754 1 755 1 756 1 757 0 758 1 759 0 760 1 761 0 762 0 763 0 764 1 765 1 766 0 767 1 768 0 769 0 770 1 771 1 772 1 773 1 774 0L774 0Z" fill="#ff1493" fill-opacity="0.5"/>
<path transform="matrix(0.4 0 0 -0.25 284 543.3)" d="M0 0L0 23 1 22 2 17 3 21 4 16 5 24 6 20 7 19 8 17 9 26 10 13 11 16 12 20 13 20 14 22 15 17 16 12 17 13 18 13 19 15 20 21 21 15 22 19 23 26 24 18 25 22 26 21 27 21 28 16 29 14 30 13 31 20 32 18 33 27 34 22 35 31 36 22 37 16 38 21 39 16 40 15 41 15 42 21 43 18 44 16 45 28 46 20 47 18 48 20 49 15 50 20 51 16 52 13 53 16 54 11 55 17 56 23 57 16 58 23 59 15 60 14 61 18 62 19 63 24 64 13 65 34 66 31 67 38 68 32 69 35 70 29 71 27 72 23 73 47 74 39 75 33 76 46 77 26 78 40 79 28 80 18 81 41 82 34 83 30 84 36 85 47 86 33 87 24 88 37 89 30 90 50 91 31 92 48 93 25 94 26 95 41 96 46 97 28 98 21 99 29 100 39 101 34 102 23 103 36 104 32 105 33 106 25 107 37 108 32 109 37 110 45 111 53 112 27 113 23 114 33 115 45 116 34 117 38 118 25 119 27 120 21 121 31 122 29 123 28 124 39 125 27 126 28 127 25 128 35 129 39 130 35 131 33 132 29 133 38 134 28 135 37 136 24 137 43 138 37 139 32 140 35 141 45 142 32 143 39 144 32 145 25 146 45 147 38 148 27 149 29 150 26 151 38 152 23 153 23 154 39 155 36 156 38 157 36 158 42 159 35 160 37 161 28 162 45 163 38 164 34 165 31 166 38 167 37 168 38 169 28 170 26 171 34 172 43 173 28 174 40 175 28 176 31 177 37 178 35 179 35 180 32 181 49 182 28 183 27 184 35 185 50 186 31 187 31 188 18 189 31 190 48 191 36 192 21 193 19 194 19 195 31 196 30 197 30 198 26 199 34 200 31 201 30 202 39 203 29 204 26 205 36 206 30 207 26 208 32 209 22 210 50 211 26 212 24 213 44 214 36 215 36 216 22 217 32 218 29 219 27 220 20 221 40 222 43 223 28 224 38 225 33 226 33 227 29 228 36 229 31 230 27 231 40 232 32 233 41 234 34 235 32 236 43 237 32 238 44 239 34 240 29 241 36 242 39 243 30 244 33 245 24 246 40 247 40 248 37 249 44 250 49 251 24 252 38 253 31 254 40 255 31 256 32 257 16 258 27 259 36 260 42 261 41 262 35 263 27 264 25 265 25 266 41 267 31 268 47 269 25 270 37 271 27 272 41 273 37 274 32 275 34 276 31 277 26 278 28 279 30 280 29 281 27 282 29 283 33 284 30 285 38 286 30 287 42 288 34 289 40 290 16 291 14 292 18 293 16 294 21 295 20 296 23 297 18 298 20 299 16 300 17 301 14 302 22 303 16 304 17 305 15 306 15 307 14 308 22 309 19 310 26 311 28 312 22 313 12 314 19 315 19 316 13 317 15 318 13 319 28 320 16 321 18 322 17 323 15 324 20 325 20 326 18 327 14 328 15 329 22 330 19 331 21 332 31 333 18 334 8 335 20 336 18 337 19 338 17 339 16 340 25 341 19 342 27 343 18 344 22 345 17 346 17 347 19 348 18 349 16 350 17 351 22 352 16 353 18 354 16 355 25 356 16 357 13 358 16 359 18 360 18 361 16 362 28 363 22 364 15 365 16 366 20 367 16 368 16 369 28 370 24 371 20L371 0ZM376 0L376 21 377 78 378 14 379 18 380 25 381 27 382 18 383 17 384 12 385 17 386 18 387 19 388 19 389 21 390 15 391 23 392 24 393 14 394 18 395 16 396 18 397 23L397 0ZM403 0L403 16 404 18 405 25 406 21 407 21 408 28 409 17 410 20 411 24 412 14 413 16 414 33 415 16 416 20 417 16 418 18 419 20 420 21 421 25 422 17 423 19 424 20 425 19 426 26 427 20 428 20 429 22 430 25 431 13 432 23 433 18 434 13 435 18 436 21 437 29 438 19 439 19 440 16 441 17 442 19 443 19 444 18 445 29 446 20 447 16 448 25 449 33 450 32 451 13 452 16 453 16 454 20 455 21 456 26 457 29 458 29 459 23L459 0ZM473 0L473 32 474 53 475 63 476 52 477 51 478 39 479 47 480 40 481 37 482 47 483 37 484 42 485 40 486 38 487 43 488 45 489 48 490 59 491 42 492 47 493 61 494 46 495 57 496 68 497 38 498 41 499 38 500 43 501 55 502 35 503 60 504 40 505 42 506 52 507 64 508 43 509 50 510 45 511 55 512 52 513 43 514 57 515 43 516 38 517 28 518 29 519 49 520 58 521 54 522 53 523 44 524 35 525 63 526 24 527 36 528 38 529 53 530 41 531 45 532 39 533 54 534 39 535 33 536 31 537 32 538 36 539 33 540 41 541 63 542 44 543 48 544 56 545 33 546 50 547 38 548 70 549 81 550 76 551 63 552 76 553 58 554 51 555 122 556 60 557 74 558 49 559 71 560 60 561 64 562 103 563 100 564 103 565 66 566 53 567 65 568 48 569 34 570 57 571 62 572 54 573 46 574 64 575 64 576 83 577 82 578 81 579 67 580 54 581 43 582 45 583 73 584 75 585 61 586 49 587 49 588 48 589 64 590 93 591 63 592 75 593 71 594 80 595 84 596 79 597 69 598 63 599 75 600 73 601 64 602 55 603 91 604 51 605 65 606 56 607 54 608 66 609 59 610 64 611 52 612 61 613 88 614 85 615 61 616 71 617 63 618 56 619 61 620 90 621 67 622 70 623 43 624 72 625 76 626 56 627 79 628 72 629 79 630 81 631 90 632 56 633 53 634 71 635 64 636 64 637 45 638 84 639 80 640 56 641 59 642 77 643 72 644 51 645 51 646 64 647 71 648 63 649 61 650 73 651 79 652 56 653 52 654 56 655 53 656 49 657 48 658 70 659 65 660 54 661 77 662 55 663 49 664 74 665 53 666 53 667 72 668 102 669 69 670 46 671 87 672 57 673 56 674 47 675 63 676 64 677 90 678 66 679 43 680 103 681 44 682 86 683 72 684 69L684 0ZM693 0L693 69 694 62 695 66 696 91 697 72 698 90 699 80 700 48 701 56 702 59 703 51 704 56 705 75 706 76 707 78 708 60 709 42 710 51 711 54 712 69 713 63 714 59 715 66 716 55 717 62 718 48 719 47 720 71 721 39 722 63 723 66 724 54 725 63 726 69 727 63 728 60 729 78 730 32 731 60 732 61 733 46 734 32 735 64 736 85 737 46 738 57 739 45 740 59 741 58 742 68 743 216 744 46 745 63 746 78 747 78 748 62 749 67 750 69 751 81 752 82 753 42 754 52 755 60 756 59 757 68 758 67 759 58 760 40 761 75 762 71 763 68 764 73 765 61 766 25 767 37 768 62 769 69 770 54 771 61 772 49 773 46 774 53L774 0Z" fill="#00bfff" fill-opacity="0.5"/>
<path transform="matrix(0.4 0 0 -0.25 284 543.3)" d="M0 0L0 21 1 19 2 15 3 19 4 14 5 22 6 18 7 18 8 15 9 21 10 12 11 14 12 18 13 18 14 20 15 15 16 11 17 12 18 12 19 13 20 19 21 13 22 17 23 23 24 16 25 19 26 19 27 19 28 14 29 12 30 12 31 18 32 16 33 24 34 19 35 27 36 20 37 15 38 18 39 15 40 13 41 13 42 19 43 16 44 14 45 23 46 18 47 16 48 18 49 14 50 18 51 14 52 12 53 14 54 10 55 15 56 21 57 15 58 20 59 14 60 13 61 16 62 17 63 22 64 12 65 26 66 25 67 24 68 23 69 24 70 26 71 22 72 21 73 22 74 21 75 28 76 25 77 23 78 26 79 24 80 16 81 23 82 26 83 22 84 21 85 24 86 28 87 19 88 22 89 24 90 24 91 23 92 26 93 22 94 23 95 23 96 27 97 25 98 19 99 24 100 25 101 26 102 21 103 28 104 28 105 23 106 23 107 24 108 26 109 26 110 23 111 20 112 25 113 21 114 24 115 23 116 20 117 22 118 23 119 24 120 19 121 26 122 22 123 26 124 27 125 24 126 19 127 22 128 26 129 26 130 25 131 29 132 25 133 27 134 24 135 22 136 22 137 33 138 20 139 28 140 29 141 31 142 29 143 29 144 25 145 22 146 25 147 23 148 24 149 25 150 23 151 25 152 21 153 21 154 26 155 24 156 25 157 28 158 29 159 27 160 21 161 25 162 21 163 28 164 23 165 24 166 24 167 31 168 27 169 21 170 23 171 26 172 23 173 25 174 24 175 25 176 24 177 27 178 26 179 24 180 23 181 27 182 21 183 24 184 24 185 32 186 28 187 24 188 16 189 25 190 27 191 23 192 19 193 17 194 17 195 23 196 23 197 22 198 24 199 22 200 22 201 25 202 24 203 26 204 23 205 21 206 24 207 24 208 25 209 20 210 24 211 24 212 21 213 21 214 21 215 29 216 20 217 23 218 19 219 24 220 18 221 22 222 23 223 25 224 22 225 27 226 29 227 25 228 27 229 26 230 23 231 32 232 23 233 25 234 24 235 25 236 26 237 29 238 25 239 24 240 26 241 27 242 21 243 24 244 21 245 22 246 26 247 28 248 28 249 27 250 29 251 22 252 23 253 20 254 27 255 27 256 28 257 15 258 24 259 24 260 26 261 24 262 25 263 24 264 23 265 21 266 23 267 25 268 28 269 22 270 25 271 24 272 27 273 21 274 29 275 24 276 28 277 23 278 25 279 26 280 19 281 24 282 26 283 25 284 27 285 24 286 22 287 27 288 25 289 24 290 14 291 12 292 16 293 14 294 19 295 18 296 21 297 17 298 18 299 15 300 15 301 12 302 20 303 15 304 15 305 14 306 14 307 12 308 20 309 17 310 23 311 23 312 20 313 11 314 17 315 17 316 12 317 14 318 12 319 25 320 14 321 16 322 16 323 14 324 18 325 18 326 16 327 13 328 13 329 20 330 17 331 19 332 26 333 16 334 8 335 18 336 16 337 17 338 15 339 14 340 23 341 17 342 24 343 17 344 20 345 16 346 15 347 17 348 16 349 15 350 15 351 20 352 14 353 16 354 15 355 22 356 15 357 12 358 15 359 16 360 16 361 15 362 25 363 20 364 14 365 15 366 18 367 14 368 14 369 25 370 22 371 18L371 0ZM376 0L376 19 377 62 378 13 379 16 380 22 381 24 382 17 383 16 384 11 385 16 386 16 387 17 388 17 389 19 390 14 391 21 392 22 393 13 394 16 395 15 396 16 397 21L397 0ZM403 0L403 15 404 16 405 23 406 18 407 19 408 25 409 16 410 18 411 21 412 13 413 14 414 20 415 14 416 18 417 15 418 16 419 18 420 19 421 22 422 15 423 17 424 18 425 17 426 24 427 18 428 18 429 20 430 22 431 12 432 21 433 16 434 12 435 16 436 19 437 23 438 17 439 17 440 15 441 15 442 17 443 17 444 16 445 25 446 18 447 15 448 22 449 21 450 24 451 11 452 15 453 15 454 18 455 19 456 23 457 26 458 26 459 20L459 0ZM473 0L473 25 474 26 475 21 476 24 477 23 478 26 479 19 480 25 481 33 482 32 483 28 484 34 485 23 486 28 487 30 488 24 489 30 490 29 491 26 492 26 493 24 494 28 495 28 496 22 497 29 498 25 499 29 500 24 501 27 502 26 503 29 504 21 505 27 506 25 507 26 508 22 509 25 510 26 511 22 512 23 513 24 514 24 515 31 516 25 517 25 518 26 519 25 520 26 521 21 522 24 523 23 524 27 525 20 526 21 527 24 528 29 529 24 530 23 531 28 532 23 533 25 534 24 535 24 536 28 537 29 538 23 539 29 540 26 541 24 542 26 543 21 544 22 545 23 546 25 547 24 548 24 549 24 550 31 551 26 552 23 553 25 554 23 555 25 556 28 557 20 558 28 559 22 560 25 561 27 562 25 563 30 564 27 565 28 566 24 567 27 568 22 569 21 570 26 571 23 572 27 573 25 574 25 575 20 576 26 577 30 578 26 579 25 580 27 581 27 582 24 583 23 584 23 585 23 586 22 587 26 588 26 589 27 590 24 591 23 592 23 593 27 594 24 595 27 596 19 597 28 598 23 599 22 600 23 601 26 602 26 603 31 604 29 605 24 606 24 607 24 608 29 609 24 610 20 611 26 612 27 613 28 614 25 615 28 616 27 617 22 618 27 619 24 620 27 621 25 622 19 623 23 624 25 625 22 626 21 627 29 628 25 629 25 630 21 631 29 632 26 633 28 634 27 635 23 636 26 637 23 638 21 639 23 640 34 641 23 642 26 643 23 644 21 645 23 646 25 647 25 648 32 649 23 650 21 651 26 652 21 653 26 654 27 655 19 656 24 657 22 658 25 659 25 660 23 661 24 662 28 663 26 664 28 665 24 666 25 667 24 668 28 669 22 670 24 671 22 672 21 673 24 674 28 675 29 676 24 677 30 678 26 679 24 680 25 681 25 682 25 683 28 684 22L684 0ZM693 0L693 23 694 23 695 28 696 26 697 21 698 25 699 22 700 22 701 31 702 26 703 24 704 29 705 24 706 29 707 23 708 28 709 21 710 24 711 24 712 26 713 22 714 26 715 26 716 26 717 25 718 27 719 25 720 27 721 22 722 29 723 25 724 22 725 23 726 25 727 28 728 25 729 21 730 22 731 25 732 23 733 26 734 29 735 25 736 25 737 25 738 23 739 26 740 26 741 25 742 27 743 173 744 34 745 30 746 26 747 20 748 23 749 27 750 22 751 27 752 24 753 19 754 28 755 23 756 25 757 22 758 28 759 27 760 24 761 29 762 23 763 27 764 26 765 22 766 23 767 21 768 21 769 21 770 21 771 27 772 22 773 30 774 22L774 0Z" fill="#bebebe" fill-opacity="0.5"/>
<path d="M284 588.8h0.7l2.2 3.8l-2.2 3.8h-0.7zM289.7 588.8h-0.6l-1.8 3.8l1.8 3.8h0.6zM289.8 588.8h0.5l1.6 3.8l-1.6 3.8h-0.5zM291.9 588.8h0.5l1.5 3.8l-1.5 3.8h-0.5zM294.1 588.8h0.6l1.9 3.8l-1.9 3.8h-0.6zM297 588.8h0.5l1.6 3.8l-1.6 3.8h-0.5zM299.7 588.8h0.4l1.2 3.8l-1.2 3.8h-0.4zM301.3 588.8h0.7l2 3.8l-2 3.8h-0.7zM305.4 588.8h-0.2l-0.6 3.8l0.6 3.8h0.2zM305.7 588.8h0.5l1.5 3.8l-1.5 3.8h-0.5zM330.2 588.8h-13l-8 3.8l8 3.8h13zM331.9 588.8h-0.4l-1.1 3.8l1.1 3.8h0.4zM333.8 588.8h-0.4l-1.3 3.8l1.3 3.8h0.4zM334.2 588.8h0.9l2.7 3.8l-2.7 3.8h-0.9zM340.4 588.8h-0.5l-1.6 3.8l1.6 3.8h0.5zM342.8 588.8h-0.4l-1.3 3.8l1.3 3.8h0.4zM343.1 588.8h0.8l2.4 3.8l-2.4 3.8h-0.8zM346.8 588.8h0.9l2.8 3.8l-2.8 3.8h-0.9zM351.2 588.8h0.6l1.8 3.8l-1.8 3.8h-0.6zM353.9 588.8h0.3l0.9 3.8l-0.9 3.8h-0.3zM357.1 588.8h-0.4l-1.2 3.8l1.2 3.8h0.4zM357.6 588.8h0.7l2.1 3.8l-2.1 3.8h-0.7zM360.7 588.8h0.3l1 3.8l-1 3.8h-0.3zM362.6 588.8h0.7l2.2 3.8l-2.2 3.8h-0.7zM365.7 588.8h0.7l2.1 3.8l-2.1 3.8h-0.7zM369 588.8h0.3l0.9 3.8l-0.9 3.8h-0.3zM370.7 588.8h0.5l1.5 3.8l-1.5 3.8h-0.5zM374.8 588.8h-0.4l-1.2 3.8l1.2 3.8h0.4zM376.9 588.8h-0.4l-1.3 3.8l1.3 3.8h0.4zM379.7 588.8h-0.5l-1.6 3.8l1.6 3.8h0.5zM383.1 588.8h-0.8l-2.3 3.8l2.3 3.8h0.8zM383.7 588.8h0.2l0.6 3.8l-0.6 3.8h-0.2zM385 588.8h0.4l1.3 3.8l-1.3 3.8h-0.4zM387.2 588.8h0.4l1.1 3.8l-1.1 3.8h-0.4zM389.1 588.8h0.5l1.4 3.8l-1.4 3.8h-0.5zM393.9 588.8h-0.6l-1.8 3.8l1.8 3.8h0.6zM395.5 588.8h-0.3l-1 3.8l1 3.8h0.3zM396 588.8h0.5l1.5 3.8l-1.5 3.8h-0.5zM400.6 588.8h-0.5l-1.4 3.8l1.4 3.8h0.5zM400.6 588.8h0.5l1.5 3.8l-1.5 3.8h-0.5zM403.3 588.8h0.2l0.6 3.8l-0.6 3.8h-0.2zM407.3 588.8h-0.7l-2 3.8l2 3.8h0.7zM407.6 588.8h0.1l0.4 3.8l-0.4 3.8h-0.1zM408.7 588.8h0.7l2.2 3.8l-2.2 3.8h-0.7zM413.8 588.8h-0.4l-1.3 3.8l1.3 3.8h0.4zM417.4 588.8h-0.8l-2.3 3.8l2.3 3.8h0.8zM419.6 588.8h-0.4l-1.2 3.8l1.2 3.8h0.4zM423.1 588.8h-0.8l-2.3 3.8l2.3 3.8h0.8zM424 588.8h-0.1l-0.3 3.8l0.3 3.8h0.1zM424 588.8h0.3l0.9 3.8l-0.9 3.8h-0.3zM425.4 588.8h0.6l1.8 3.8l-1.8 3.8h-0.6zM431 588.8h-0.8l-2.3 3.8l2.3 3.8h0.8zM435.7 588.8h-0.4l-1.2 3.8l1.2 3.8h0.4zM436.2 588.8h0.3l0.9 3.8l-0.9 3.8h-0.3zM438.1 588.8h0.4l1.3 3.8l-1.3 3.8h-0.4zM440.1 588.8h0.3l0.8 3.8l-0.8 3.8h-0.3zM446.4 588.8h-0.3l-1 3.8l1 3.8h0.3zM446.8 588.8h0.4l1.3 3.8l-1.3 3.8h-0.4zM448.9 588.8h0.6l1.8 3.8l-1.8 3.8h-0.6zM452.2 588.8h-0.2l-0.6 3.8l0.6 3.8h0.2zM452.8 588.8h0.7l2.2 3.8l-2.2 3.8h-0.7zM456.1 588.8h0.5l1.6 3.8l-1.6 3.8h-0.5zM459.8 588.8h-0.3l-0.8 3.8l0.8 3.8h0.3zM460.2 588.8h0.1l0.4 3.8l-0.4 3.8h-0.1zM461 588.8h0.4l1.1 3.8l-1.1 3.8h-0.4zM466.3 588.8h-0.8l-2.5 3.8l2.5 3.8h0.8zM474.4 588.8h-0.3l-1 3.8l1 3.8h0.3zM474.8 588.8h0.3l0.9 3.8l-0.9 3.8h-0.3zM477.3 588.8h-0.2l-0.6 3.8l0.6 3.8h0.2zM479.2 588.8h-0.4l-1.1 3.8l1.1 3.8h0.4zM484.1 588.8h-1.1l-3.2 3.8l3.2 3.8h1.1zM485.6 588.8h-0.3l-1 3.8l1 3.8h0.3zM488.3 588.8h-0.6l-1.8 3.8l1.8 3.8h0.6zM488.5 588.8h0.5l1.6 3.8l-1.6 3.8h-0.5zM492.2 588.8h-0.3l-1 3.8l1 3.8h0.3zM492.6 588.8h0.5l1.5 3.8l-1.5 3.8h-0.5zM495 588.8h0.6l1.7 3.8l-1.7 3.8h-0.6zM497.7 588.8h0.3l0.9 3.8l-0.9 3.8h-0.3zM499.6 588.8h0.3l1 3.8l-1 3.8h-0.3zM503.1 588.8h-0.5l-1.6 3.8l1.6 3.8h0.5zM504.7 588.8h-0.3l-0.8 3.8l0.8 3.8h0.3zM505.3 588.8h0.8l2.3 3.8l-2.3 3.8h-0.8zM508.5 588.8h0.3l0.8 3.8l-0.8 3.8h-0.3zM510.2 588.8h0.2l0.6 3.8l-0.6 3.8h-0.2zM511.2 588.8h0.4l1.3 3.8l-1.3 3.8h-0.4zM516.7 588.8h-0.9l-2.6 3.8l2.6 3.8h0.9zM517.2 588.8h0.2l0.7 3.8l-0.7 3.8h-0.2zM519.4 588.8h-0.3l-0.9 3.8l0.9 3.8h0.3zM522.2 588.8h-0.5l-1.6 3.8l1.6 3.8h0.5zM522.9 588.8h0.3l0.8 3.8l-0.8 3.8h-0.3zM526.2 588.8h-0.4l-1.2 3.8l1.2 3.8h0.4zM526.5 588.8h0.5l1.4 3.8l-1.4 3.8h-0.5zM528.9 588.8h0.2l0.6 3.8l-0.6 3.8h-0.2zM530.4 588.8h0.6l1.7 3.8l-1.7 3.8h-0.6zM533.6 588.8h-0.1l-0.4 3.8l0.4 3.8h0.1zM534.7 588.8h-0.2l-0.6 3.8l0.6 3.8h0.2zM536.9 588.8h-0.4l-1.3 3.8l1.3 3.8h0.4zM537.2 588.8h0.2l0.7 3.8l-0.7 3.8h-0.2zM540.6 588.8h-0.5l-1.5 3.8l1.5 3.8h0.5zM542.3 588.8h-0.3l-0.8 3.8l0.8 3.8h0.3zM549.2 588.8h-2.5l-4 3.8l4 3.8h2.5zM551.6 588.8h-0.6l-1.8 3.8l1.8 3.8h0.6zM553.6 588.8h-0.4l-1.1 3.8l1.1 3.8h0.4zM554.7 588.8h-0.2l-0.7 3.8l0.7 3.8h0.2zM561.1 588.8h0.3l1 3.8l-1 3.8h-0.3zM562.9 588.8h0.2l0.5 3.8l-0.5 3.8h-0.2zM564.2 588.8h0.4l1.1 3.8l-1.1 3.8h-0.4zM571.2 588.8h-1.3l-3.8 3.8l3.8 3.8h1.3zM572.9 588.8h-0.3l-1 3.8l1 3.8h0.3zM573.4 588.8h1l2.9 3.8l-2.9 3.8h-1zM580.1 588.8h-0.6l-1.7 3.8l1.7 3.8h0.6zM580.5 588.8h0.5l1.4 3.8l-1.4 3.8h-0.5zM586.6 588.8h-1l-3 3.8l3 3.8h1zM586.8 588.8h0.5l1.6 3.8l-1.6 3.8h-0.5zM593.8 588.8h-1.2l-3.5 3.8l3.5 3.8h1.2z" fill="#bfbfbf"/>
<path d="M302.4 588.8h-0.5l-1.4 3.8l1.4 3.8h0.5zM309.8 588.8h-0.5l-1.6 3.8l1.6 3.8h0.5zM351.4 588.8h-0.6l-1.7 3.8l1.7 3.8h0.6zM355.2 588.8h-0.5l-1.5 3.8l1.5 3.8h0.5zM382 588.8h-0.4l-1.2 3.8l1.2 3.8h0.4zM385 588.8h-0.5l-1.5 3.8l1.5 3.8h0.5zM392.3 588.8h0.6l1.8 3.8l-1.8 3.8h-0.6zM396.6 588.8h-0.6l-1.7 3.8l1.7 3.8h0.6zM398.4 588.8h-0.5l-1.4 3.8l1.4 3.8h0.5zM428.3 588.8h0.6l1.7 3.8l-1.7 3.8h-0.6zM464.4 588.8h-0.5l-1.4 3.8l1.4 3.8h0.5zM513.8 588.8h0.5l1.5 3.8l-1.5 3.8h-0.5zM526.4 588.8h-0.6l-1.7 3.8l1.7 3.8h0.6zM541.6 588.8h-0.5l-1.6 3.8l1.6 3.8h0.5zM570 588.8h-0.5l-1.5 3.8l1.5 3.8h0.5zM573.2 588.8h-0.6l-1.8 3.8l1.8 3.8h0.6zM573.8 588.8h0.6l1.8 3.8l-1.8 3.8h-0.6zM578.9 588.8h-0.5l-1.4 3.8l1.4 3.8h0.5zM581.9 588.8h-0.4l-1.3 3.8l1.3 3.8h0.4zM585 588.8h-0.5l-1.5 3.8l1.5 3.8h0.5zM588.8 588.8h-0.4l-1.3 3.8l1.3 3.8h0.4z" fill="#000"/>
<path d="M501.3 588.8h-0.5l-1.5 3.8l1.5 3.8h0.5z" fill="#8b0000"/>
<path d="M284 544.4h13.5M331.2 546.8h3.2M336.7 547.1h5M451.7 553.9h12.7M327 574.6h8.6M480.9 574.7h6.2M590.3 578.9h3.5M331.9 581.5h11.4M290.8 586.2h9.9" stroke="#3288bd" stroke-width="1.35" stroke-opacity="0.85"/>
<path d="M349.7 544.6h7.5M434 547h4.5M366.6 565.5h6.3M459.7 565.2h4.7M293.1 581.6h6.7M373.5 583.6h6.1" stroke="#e6ab02" stroke-width="1.35" stroke-opacity="0.85"/>
<path d="M359 544.6h7.7M572.9 544.4h6.9M350.2 549.1h19M445 553.6h2.5M342.7 556.2h2.5M311.9 558.3h7.1M311.6 579.2h6.7" stroke="#e41a1c" stroke-width="1.35" stroke-opacity="0.85"/>
<path d="M371.1 544.8h8.9M562.1 544.7h6.3M341.5 551.3h7.3M561 553.7h4.9M292.1 558.2h8.3M538 558.6h7.7M476 567.4h13.7M316.8 574.6h7M357.7 574.3h8.5M412.1 574.5h8.2M454.7 583.9h8.7" stroke="#6a3d9a" stroke-width="1.35" stroke-opacity="0.85"/>
<path d="M391.9 544.5h8.8M481.9 544.4h6.4M500.6 544.4h7M554 549.4h4M355 556h7.6M454.3 569.9h9.1M495 570h7.1M372.8 579.2h5.6" stroke="#b3de69" stroke-width="1.35" stroke-opacity="0.85"/>
<path d="M434 544.4h5.7M440.4 549.4h2.5M538.6 549.4h6.5M548.8 553.9h7.3M303.4 556.3h8.8M328.4 562.8h5.9M335.4 562.9h8M353.4 563.1h4.1M376.6 563.1h6.7M387.1 562.9h7.1M376.5 570.1h3.3M303.3 572.3h7.1M561 572.4h8" stroke="#fdb462" stroke-width="1.35" stroke-opacity="0.85"/>
<path d="M445 544.8h14.8M379.4 549.1h8.5M532.5 556.2h8.2M497.6 560.6h5.6M313.7 567.5h4.6" stroke="#01665e" stroke-width="1.35" stroke-opacity="0.85"/>
<path d="M508.9 544.5h4.5M434 577h5.1" stroke="#a6761d" stroke-width="1.35" stroke-opacity="0.85"/>
<path d="M527 544.6h9.5M344.6 549.1h3.7M382.3 551.3h7.7M570.9 560.5h8.2M296.3 562.8h7.9M561.9 569.7h7.1M325.6 583.5h11.8" stroke="#7570b3" stroke-width="1.35" stroke-opacity="0.85"/>
<path d="M541.4 544.7h7.2M401.7 551.3h9.7M329.2 553.8h8.4M473 558.2h9.5M328.1 560.7h5.2M445 563h6.3M330.6 567.5h7.5M535.1 576.9h10.3M532.4 579.1h10.1M520.9 586h7.4" stroke="#cab2d6" stroke-width="1.35" stroke-opacity="0.85"/>
<path d="M587.2 544.8h6.5M391.8 546.8h6.8M434 549.1h5M308.2 553.7h10M487.6 553.7h4.7M589.3 556.2h4.5M550.6 558.6h7.4M478.8 560.8h7.1M567.8 563h10.4M490.9 565.5h22.7M417.7 569.9h9.2M445 570.1h3.2M284.4 579h9.4M389.4 583.5h10.1" stroke="#ff7f00" stroke-width="1.35" stroke-opacity="0.85"/>
<path d="M288.9 547.1h7.9M493.5 549.3h2.9M535.6 549.2h2.5M576.8 549.2h8.4M380.7 554h11.7M515.2 556.3h11.6M333.7 565.3h4.1M390.6 572.2h8.6M398.8 574.6h10.3M593.2 581.3h0.6M384.5 585.9h9.4" stroke="#a6d854" stroke-width="1.35" stroke-opacity="0.85"/>
<path d="M348.8 546.9h6.8M563.4 546.8h4.3M530.9 549h3.7M566.3 549.4h6M338.3 560.8h8.8M527.9 565.5h5.2M520.9 569.8h4.6M373.4 574.3h8.4M538.6 574.4h7.5M528 576.9h6M552.4 583.6h5.6" stroke="#b2df8a" stroke-width="1.35" stroke-opacity="0.85"/>
<path d="M357.5 546.9h8M499.8 549.2h7.5M571.2 569.8h5.8M411.4 576.9h7.2M486.6 576.8h4.6M380.8 579.1h3.8M573.6 578.9h7.7M527 583.7h8.5" stroke="#1f78b4" stroke-width="1.35" stroke-opacity="0.85"/>
<path d="M372.4 546.7h2.7M295 565.3h11.9" stroke="#33a02c" stroke-width="1.35" stroke-opacity="0.85"/>
<path d="M385.1 546.8h5.9M324.9 551.7h6.9M363.3 556.3h6.4M527.6 558.3h3.4M513.9 560.7h8.6M284 565.5h4.2M573.3 572.4h5.4M434 579.1h3.5M311.6 581.6h6.2M291.1 583.8h9.9M381.5 583.6h7.3" stroke="#bebada" stroke-width="1.35" stroke-opacity="0.85"/>
<path d="M399.4 546.9h11.4M569.1 551.4h6.7M522.5 553.9h2.5M333.3 569.9h13.9M398 570.1h9M308.4 574.5h4.8M423.1 574.6h3.7M434 586.1h3.1" stroke="#1b9e77" stroke-width="1.35" stroke-opacity="0.85"/>
<path d="M416.2 547.1h7.9M292.4 549.2h6.6M363.7 551.4h8.6M543.4 551.3h3.3M322.3 563.2h5.8M492.7 567.4h6.4M538.7 567.7h5.3M561.2 583.6h6.1M473 586.2h7" stroke="#fb9a99" stroke-width="1.35" stroke-opacity="0.85"/>
<path d="M445 546.9h9M583.9 546.9h7.9M307.7 549h7.1M445 549h9.9M450.5 551.7h14.5M289.6 553.9h10.2M392.7 553.7h9.9M445 558.4h5.8M520.7 567.4h5.5M387.6 570.1h6.3M399.7 577h8.9M323.4 579.2h10.8M473 579.3h1.8M525.6 579.2h3.7M492.3 583.6h9.9" stroke="#fb8072" stroke-width="1.35" stroke-opacity="0.85"/>
<path d="M473.5 546.7h8.8M414 551.4h9.7M438 551.4h5M550.6 551.3h7.3" stroke="#d53e4f" stroke-width="1.35" stroke-opacity="0.85"/>
<path d="M516.8 547h11.4M572.8 558.4h12M582 567.4h11.8M561 585.8h7.5" stroke="#e5c494" stroke-width="1.35" stroke-opacity="0.85"/>
<path d="M576 547.1h7.3M298.4 551.5h10.9M413.9 567.6h6M570.8 567.5h7.5M503.4 569.8h6.2M322.5 576.7h6.9M385.7 578.9h8M546.3 581.4h11.7M445 586.2h6.7" stroke="#e78ac3" stroke-width="1.35" stroke-opacity="0.85"/>
<path d="M302.2 549.2h5M474.3 549h5.3M585.5 560.6h7.6M291.2 567.7h5.3M533.6 569.9h7.8M504.2 581.2h11.1" stroke="#e31a1c" stroke-width="1.35" stroke-opacity="0.85"/>
<path d="M393.8 549h11.6M501.6 553.9h4.6M551 560.6h7M541.2 565.5h13.4M359 567.4h5M366.4 567.6h6.7M525.7 574.7h12.6M332.4 577h10.4" stroke="#fdbf6f" stroke-width="1.35" stroke-opacity="0.85"/>
<path d="M462.2 549.4h5.8M587 553.7h6.8M284 556.1h3.4M373.7 560.6h9.1M561 565.4h6.9M485.4 583.5h5.8" stroke="#c51b7d" stroke-width="1.35" stroke-opacity="0.85"/>
<path d="M481 549.2h5.6M541.6 560.9h5.2M284 563.2h1.5M445 572.2h8.5M386.3 581.4h9.2" stroke="#80b1d3" stroke-width="1.35" stroke-opacity="0.85"/>
<path d="M508.5 549.3h3.7M284 551.4h3.9M292.3 556.3h6.2M284 560.7h7.8M400.7 560.6h7.2M508.7 562.9h8.7M345 565.4h11.3M360.8 569.8h8M321.7 572.1h9.3M445 574.3h10.1M499.7 576.8h8.8M345.9 579.3h8.8M434.5 583.8h5" stroke="#f781bf" stroke-width="1.35" stroke-opacity="0.85"/>
<path d="M513.7 549.2h6M386.3 556.3h8.4M491.1 556.2h13.2M506.2 556.3h7.1M563.5 555.9h8M406.6 565.3h9.2M438.9 565.3h4.1M342.7 567.6h7M428.7 569.7h3.9M291.6 572.3h7.3M448.9 578.9h9.4" stroke="#8c510a" stroke-width="1.35" stroke-opacity="0.85"/>
<path d="M521.1 549.1h2.5M326.5 558.6h6.9M481.3 562.9h10.1M491.8 563.2h7.5M547.1 563.1h2.5M545.6 572.2h7.6M474 576.8h3.4M398.4 585.8h6.8" stroke="#4393c3" stroke-width="1.35" stroke-opacity="0.85"/>
<path d="M524.6 549.2h2.5M320.5 554h7.3M579 556.3h8.4M371.5 563h4.9M592.9 563.1h0.9M534.4 565.3h6M563.1 567.8h6.6M484.1 572.2h9.6" stroke="#bc80bd" stroke-width="1.35" stroke-opacity="0.85"/>
<path d="M547.1 549.2h5.4M322 569.9h6.2M305.7 576.7h9.4M284.2 581.5h6.3M575 583.5h10.5" stroke="#d95f02" stroke-width="1.35" stroke-opacity="0.85"/>
<path d="M590.7 549.4h2.5M284 558.3h5.8M484.8 558.6h8.4M455.4 574.3h9.2" stroke="#b15928" stroke-width="1.35" stroke-opacity="0.85"/>
<path d="M292.2 551.4h4.8M527.1 553.8h8M434 556.3h9M550.7 563.2h7.3M473 565.1h6.2M434 574.3h6M350.9 577h10M418.8 581.2h7M487.7 581.6h5.7M502.5 583.5h7.7" stroke="#ffd92f" stroke-width="1.35" stroke-opacity="0.85"/>
<path d="M357 551.7h2.5M316.1 556.2h8.2M421.8 563.2h3M292.2 570h9M452.5 581.3h7.7" stroke="#35978f" stroke-width="1.35" stroke-opacity="0.85"/>
<path d="M530.1 551.5h9.8M555.2 574.7h2.8M371.7 576.6h8.4M294.2 579.1h6.6M302.5 581.2h5.7" stroke="#66c2a5" stroke-width="1.35" stroke-opacity="0.85"/>
<path d="M583.2 551.7h5.5M551 570h6.2M296.1 576.6h8.6M561 579.3h5M508.5 586h10.1" stroke="#984ea3" stroke-width="1.35" stroke-opacity="0.85"/>
<path d="M300.5 553.6h5.5M519.6 563.2h8M579.9 581.4h4.6" stroke="#a65628" stroke-width="1.35" stroke-opacity="0.85"/>
<path d="M345.6 553.9h9.5M586.3 562.9h4.9M398.5 567.8h10.2M287.6 570.1h4.3M579.4 574.3h8.5M473 581.4h4.7M302.1 583.7h7.9M419.7 585.8h9.3" stroke="#fc8d62" stroke-width="1.35" stroke-opacity="0.85"/>
<path d="M416.6 553.8h6.7M347.1 555.9h7.6M384.9 558.3h12.6M421.7 560.5h10.2M284 569.9h1.6M346.2 572h6.8" stroke="#e7298a" stroke-width="1.35" stroke-opacity="0.85"/>
<path d="M515.4 553.6h5.2M411.5 555.9h8.9M353.7 558.4h11.2M360.4 560.8h3.9M415.6 560.8h5.7M358.6 562.8h5.9M568.6 565.2h20M350.3 585.9h17.6" stroke="#66a61e" stroke-width="1.35" stroke-opacity="0.85"/>
<path d="M540.2 553.6h8.4M338.1 572.1h7.8M407.2 586.1h2.5" stroke="#d6604d" stroke-width="1.35" stroke-opacity="0.85"/>
<path d="M325 556.3h13.2" stroke="#4daf4a" stroke-width="1.35" stroke-opacity="0.85"/>
<path d="M476.3 556.3h7.8M426.3 567.4h6.3M456.7 567.4h9.2M434 572.2h7.4M583.3 572.2h6.2M419.6 576.6h7M569.7 576.7h7.5M544.6 586.1h11" stroke="#8da0cb" stroke-width="1.35" stroke-opacity="0.85"/>
<path d="M545.5 556h10.4M561.2 558.6h9.6M390.5 567.7h6.2M506.3 574.6h18.4M403.4 578.9h7.3" stroke="#8dd3c7" stroke-width="1.35" stroke-opacity="0.85"/>
<path d="M459.2 558.5h8.8M390.8 560.7h2.9M289.1 574.5h8.6" stroke="#5aae61" stroke-width="1.35" stroke-opacity="0.85"/>
<path d="M305.1 560.7h5.5M404.7 563h6.7M434 562.8h4.9M399.5 565.4h4.5M290.8 576.6h5M450.2 576.9h5.6M510.8 576.8h16.3" stroke="#377eb8" stroke-width="1.35" stroke-opacity="0.85"/>
<path d="M475.1 562.8h3.5M377 565.1h6.1M354 572h11.6M459.6 572.2h8.4M524.9 572h8.5M434 581.3h7.3" stroke="#a6cee3" stroke-width="1.35" stroke-opacity="0.85"/>
<line x1="268.4" y1="489.4" x2="268.4" y2="597.9" stroke="#000" stroke-width="1.1"/>
<line x1="267.9" y1="597.4" x2="608.6" y2="597.4" stroke="#000" stroke-width="1.1"/>
<line x1="266.1" y1="543.3" x2="268.4" y2="543.3" stroke="#333" stroke-width="0.9"/>
<text x="263.8" y="546" font-size="7.6" text-anchor="end" fill="#4d4d4d">0</text>
<line x1="266.1" y1="519" x2="268.4" y2="519" stroke="#333" stroke-width="0.9"/>
<text x="263.8" y="521.7" font-size="7.6" text-anchor="end" fill="#4d4d4d">100</text>
<line x1="266.1" y1="494.7" x2="268.4" y2="494.7" stroke="#333" stroke-width="0.9"/>
<text x="263.8" y="497.4" font-size="7.6" text-anchor="end" fill="#4d4d4d">200</text>
<line x1="284" y1="597.4" x2="284" y2="599.9" stroke="#222" stroke-width="1.0"/>
<text x="284" y="607.7" font-size="7.6" text-anchor="middle" fill="#4d4d4d">0kb</text>
<line x1="363.1" y1="597.4" x2="363.1" y2="599.9" stroke="#222" stroke-width="1.0"/>
<text x="363.1" y="607.7" font-size="7.6" text-anchor="middle" fill="#4d4d4d">50kb</text>
<line x1="442.3" y1="597.4" x2="442.3" y2="599.9" stroke="#222" stroke-width="1.0"/>
<text x="442.3" y="607.7" font-size="7.6" text-anchor="middle" fill="#4d4d4d">100kb</text>
<line x1="521.5" y1="597.4" x2="521.5" y2="599.9" stroke="#222" stroke-width="1.0"/>
<text x="521.5" y="607.7" font-size="7.6" text-anchor="middle" fill="#4d4d4d">150kb</text>
<line x1="600.6" y1="597.4" x2="600.6" y2="599.9" stroke="#222" stroke-width="1.0"/>
<text x="600.6" y="607.7" font-size="7.6" text-anchor="middle" fill="#4d4d4d">200kb</text>
<text x="438.5" y="617.8" font-size="9.6" text-anchor="middle">Scaffold coordinate</text>
<text x="241.9" y="543.4" font-size="9.6" text-anchor="middle" transform="rotate(-90 241.9 543.4)">Coverage</text>
<text x="250.8" y="529.5" font-size="7.8" text-anchor="middle" transform="rotate(-90 250.8 529.5)">Illumina</text>
<text x="253.6" y="572.1" font-size="7.8" text-anchor="middle" transform="rotate(-90 253.6 572.1)">Nanopore</text>
<text x="269.3" y="482.2" font-size="11.1"><tspan font-style="italic">Ruminococcus_C callidus</tspan></text>
<text x="621.1" y="245.9" font-size="9.9">Gene</text>
<rect x="622" y="252.5" width="13.2" height="13.2" fill="#a6d263"/>
<text x="641" y="261.8" font-size="7.8">MCP</text>
<rect x="622" y="267.5" width="13.2" height="13.2" fill="#006400"/>
<text x="641" y="276.8" font-size="7.8">Portal</text>
<rect x="622" y="282.5" width="13.2" height="13.2" fill="#8b0000"/>
<text x="641" y="291.8" font-size="7.8">Terminase</text>
<rect x="622" y="297.5" width="13.2" height="13.2" fill="#000"/>
<text x="641" y="306.8" font-size="7.8">VOGdb hit</text>
<text x="621.1" y="346.4" font-size="9.9">Sample</text>
<rect x="622" y="353.4" width="13.2" height="13.2" fill="#ff1493"/>
<text x="641" y="362.7" font-size="7.8">VLP B</text>
<rect x="622" y="368.6" width="13.2" height="13.2" fill="#00bfff"/>
<text x="641" y="377.9" font-size="7.8">VLP T</text>
<rect x="622" y="383.8" width="13.2" height="13.2" fill="#bebebe"/>
<text x="641" y="393.1" font-size="7.8">Tot commun.</text>
</svg>
</body></html>
